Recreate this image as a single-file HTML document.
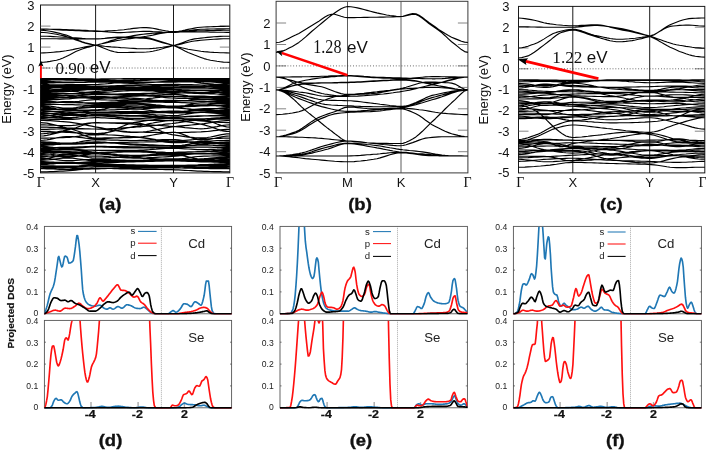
<!DOCTYPE html>
<html><head><meta charset="utf-8"><title>fig</title><style>html,body{margin:0;padding:0;background:#fff;overflow:hidden}svg{display:block;will-change:transform}</style></head><body>
<svg width="706" height="450" viewBox="0 0 706 450">
<rect width="706" height="450" fill="#fff"/>
<rect x="40.5" y="5" width="189.3" height="167.9" fill="none" stroke="#1a1a1a" stroke-width="1"/>
<line x1="95.6" y1="5" x2="95.6" y2="172.9" stroke="#000" stroke-width="0.9"/>
<line x1="173.5" y1="5" x2="173.5" y2="172.9" stroke="#000" stroke-width="0.9"/>
<line x1="40.5" y1="151.9" x2="50.5" y2="151.9" stroke="#666" stroke-width="0.8"/>
<line x1="219.8" y1="151.9" x2="229.8" y2="151.9" stroke="#666" stroke-width="0.8"/>
<line x1="40.5" y1="131.0" x2="50.5" y2="131.0" stroke="#666" stroke-width="0.8"/>
<line x1="219.8" y1="131.0" x2="229.8" y2="131.0" stroke="#666" stroke-width="0.8"/>
<line x1="40.5" y1="110.0" x2="50.5" y2="110.0" stroke="#666" stroke-width="0.8"/>
<line x1="219.8" y1="110.0" x2="229.8" y2="110.0" stroke="#666" stroke-width="0.8"/>
<line x1="40.5" y1="89.0" x2="50.5" y2="89.0" stroke="#666" stroke-width="0.8"/>
<line x1="219.8" y1="89.0" x2="229.8" y2="89.0" stroke="#666" stroke-width="0.8"/>
<line x1="40.5" y1="68.0" x2="50.5" y2="68.0" stroke="#666" stroke-width="0.8"/>
<line x1="219.8" y1="68.0" x2="229.8" y2="68.0" stroke="#666" stroke-width="0.8"/>
<line x1="40.5" y1="47.1" x2="50.5" y2="47.1" stroke="#666" stroke-width="0.8"/>
<line x1="219.8" y1="47.1" x2="229.8" y2="47.1" stroke="#666" stroke-width="0.8"/>
<line x1="40.5" y1="26.1" x2="50.5" y2="26.1" stroke="#666" stroke-width="0.8"/>
<line x1="219.8" y1="26.1" x2="229.8" y2="26.1" stroke="#666" stroke-width="0.8"/>
<line x1="40.5" y1="68.0" x2="229.8" y2="68.0" stroke="#333" stroke-width="0.8" stroke-dasharray="0.9 1.95"/>
<text x="34.5" y="9.7" font-family='"Liberation Sans", sans-serif' font-size="13" text-anchor="end" fill="#111">3</text>
<text x="34.5" y="30.7" font-family='"Liberation Sans", sans-serif' font-size="13" text-anchor="end" fill="#111">2</text>
<text x="34.5" y="51.7" font-family='"Liberation Sans", sans-serif' font-size="13" text-anchor="end" fill="#111">1</text>
<text x="34.5" y="72.6" font-family='"Liberation Sans", sans-serif' font-size="13" text-anchor="end" fill="#111">0</text>
<text x="34.5" y="93.6" font-family='"Liberation Sans", sans-serif' font-size="13" text-anchor="end" fill="#111">-1</text>
<text x="34.5" y="114.6" font-family='"Liberation Sans", sans-serif' font-size="13" text-anchor="end" fill="#111">-2</text>
<text x="34.5" y="135.6" font-family='"Liberation Sans", sans-serif' font-size="13" text-anchor="end" fill="#111">-3</text>
<text x="34.5" y="156.5" font-family='"Liberation Sans", sans-serif' font-size="13" text-anchor="end" fill="#111">-4</text>
<text x="34.5" y="177.5" font-family='"Liberation Sans", sans-serif' font-size="13" text-anchor="end" fill="#111">-5</text>
<text x="40.8" y="186.6" font-family='"Liberation Serif", serif' font-size="14" text-anchor="middle" fill="#111">Γ</text>
<text x="95.6" y="186.6" font-family='"Liberation Sans", sans-serif' font-size="13" text-anchor="middle" fill="#111">X</text>
<text x="173.5" y="186.6" font-family='"Liberation Sans", sans-serif' font-size="13" text-anchor="middle" fill="#111">Y</text>
<text x="230.1" y="186.6" font-family='"Liberation Serif", serif' font-size="14" text-anchor="middle" fill="#111">Γ</text>
<text transform="translate(10.5,89.0) rotate(-90)" font-family='"Liberation Sans", sans-serif' font-size="13" text-anchor="middle" fill="#111">Energy (eV)</text>
<rect x="276.1" y="1.3" width="191.79999999999995" height="171.6" fill="none" stroke="#3a3a3a" stroke-width="1"/>
<line x1="347.5" y1="1.3" x2="347.5" y2="172.9" stroke="#4a4a4a" stroke-width="0.9"/>
<line x1="401" y1="1.3" x2="401" y2="172.9" stroke="#4a4a4a" stroke-width="0.9"/>
<line x1="276.1" y1="151.7" x2="286.1" y2="151.7" stroke="#666" stroke-width="0.8"/>
<line x1="457.9" y1="151.7" x2="467.9" y2="151.7" stroke="#666" stroke-width="0.8"/>
<line x1="276.1" y1="130.2" x2="286.1" y2="130.2" stroke="#666" stroke-width="0.8"/>
<line x1="457.9" y1="130.2" x2="467.9" y2="130.2" stroke="#666" stroke-width="0.8"/>
<line x1="276.1" y1="108.8" x2="286.1" y2="108.8" stroke="#666" stroke-width="0.8"/>
<line x1="457.9" y1="108.8" x2="467.9" y2="108.8" stroke="#666" stroke-width="0.8"/>
<line x1="276.1" y1="87.4" x2="286.1" y2="87.4" stroke="#666" stroke-width="0.8"/>
<line x1="457.9" y1="87.4" x2="467.9" y2="87.4" stroke="#666" stroke-width="0.8"/>
<line x1="276.1" y1="65.9" x2="286.1" y2="65.9" stroke="#666" stroke-width="0.8"/>
<line x1="457.9" y1="65.9" x2="467.9" y2="65.9" stroke="#666" stroke-width="0.8"/>
<line x1="276.1" y1="44.5" x2="286.1" y2="44.5" stroke="#666" stroke-width="0.8"/>
<line x1="457.9" y1="44.5" x2="467.9" y2="44.5" stroke="#666" stroke-width="0.8"/>
<line x1="276.1" y1="23.0" x2="286.1" y2="23.0" stroke="#666" stroke-width="0.8"/>
<line x1="457.9" y1="23.0" x2="467.9" y2="23.0" stroke="#666" stroke-width="0.8"/>
<line x1="276.1" y1="65.9" x2="467.9" y2="65.9" stroke="#333" stroke-width="0.8" stroke-dasharray="0.9 1.95"/>
<text x="270.5" y="27.6" font-family='"Liberation Sans", sans-serif' font-size="13" text-anchor="end" fill="#111">2</text>
<text x="270.5" y="49.1" font-family='"Liberation Sans", sans-serif' font-size="13" text-anchor="end" fill="#111">1</text>
<text x="270.5" y="70.5" font-family='"Liberation Sans", sans-serif' font-size="13" text-anchor="end" fill="#111">0</text>
<text x="270.5" y="92.0" font-family='"Liberation Sans", sans-serif' font-size="13" text-anchor="end" fill="#111">-1</text>
<text x="270.5" y="113.4" font-family='"Liberation Sans", sans-serif' font-size="13" text-anchor="end" fill="#111">-2</text>
<text x="270.5" y="134.8" font-family='"Liberation Sans", sans-serif' font-size="13" text-anchor="end" fill="#111">-3</text>
<text x="270.5" y="156.3" font-family='"Liberation Sans", sans-serif' font-size="13" text-anchor="end" fill="#111">-4</text>
<text x="270.5" y="177.8" font-family='"Liberation Sans", sans-serif' font-size="13" text-anchor="end" fill="#111">-5</text>
<text x="278.1" y="186.6" font-family='"Liberation Serif", serif' font-size="14" text-anchor="middle" fill="#111">Γ</text>
<text x="347.5" y="186.6" font-family='"Liberation Sans", sans-serif' font-size="13" text-anchor="middle" fill="#111">M</text>
<text x="401" y="186.6" font-family='"Liberation Sans", sans-serif' font-size="13" text-anchor="middle" fill="#111">K</text>
<text x="467.5" y="186.6" font-family='"Liberation Serif", serif' font-size="14" text-anchor="middle" fill="#111">Γ</text>
<text transform="translate(249.7,87.1) rotate(-90)" font-family='"Liberation Sans", sans-serif' font-size="13" text-anchor="middle" fill="#111">Energy (eV)</text>
<rect x="518.5" y="6.4" width="186.29999999999995" height="166.5" fill="none" stroke="#1a1a1a" stroke-width="1"/>
<line x1="572.8" y1="6.4" x2="572.8" y2="172.9" stroke="#000" stroke-width="0.9"/>
<line x1="649.7" y1="6.4" x2="649.7" y2="172.9" stroke="#000" stroke-width="0.9"/>
<line x1="518.5" y1="152.0" x2="528.5" y2="152.0" stroke="#666" stroke-width="0.8"/>
<line x1="694.8" y1="152.0" x2="704.8" y2="152.0" stroke="#666" stroke-width="0.8"/>
<line x1="518.5" y1="131.2" x2="528.5" y2="131.2" stroke="#666" stroke-width="0.8"/>
<line x1="694.8" y1="131.2" x2="704.8" y2="131.2" stroke="#666" stroke-width="0.8"/>
<line x1="518.5" y1="110.4" x2="528.5" y2="110.4" stroke="#666" stroke-width="0.8"/>
<line x1="694.8" y1="110.4" x2="704.8" y2="110.4" stroke="#666" stroke-width="0.8"/>
<line x1="518.5" y1="89.6" x2="528.5" y2="89.6" stroke="#666" stroke-width="0.8"/>
<line x1="694.8" y1="89.6" x2="704.8" y2="89.6" stroke="#666" stroke-width="0.8"/>
<line x1="518.5" y1="68.8" x2="528.5" y2="68.8" stroke="#666" stroke-width="0.8"/>
<line x1="694.8" y1="68.8" x2="704.8" y2="68.8" stroke="#666" stroke-width="0.8"/>
<line x1="518.5" y1="48.0" x2="528.5" y2="48.0" stroke="#666" stroke-width="0.8"/>
<line x1="694.8" y1="48.0" x2="704.8" y2="48.0" stroke="#666" stroke-width="0.8"/>
<line x1="518.5" y1="27.2" x2="528.5" y2="27.2" stroke="#666" stroke-width="0.8"/>
<line x1="694.8" y1="27.2" x2="704.8" y2="27.2" stroke="#666" stroke-width="0.8"/>
<line x1="518.5" y1="68.8" x2="704.8" y2="68.8" stroke="#333" stroke-width="0.8" stroke-dasharray="0.9 1.95"/>
<text x="509.6" y="11.0" font-family='"Liberation Sans", sans-serif' font-size="13" text-anchor="end" fill="#111">3</text>
<text x="509.6" y="31.8" font-family='"Liberation Sans", sans-serif' font-size="13" text-anchor="end" fill="#111">2</text>
<text x="509.6" y="52.6" font-family='"Liberation Sans", sans-serif' font-size="13" text-anchor="end" fill="#111">1</text>
<text x="509.6" y="73.4" font-family='"Liberation Sans", sans-serif' font-size="13" text-anchor="end" fill="#111">0</text>
<text x="509.6" y="94.2" font-family='"Liberation Sans", sans-serif' font-size="13" text-anchor="end" fill="#111">-1</text>
<text x="509.6" y="115.0" font-family='"Liberation Sans", sans-serif' font-size="13" text-anchor="end" fill="#111">-2</text>
<text x="509.6" y="135.8" font-family='"Liberation Sans", sans-serif' font-size="13" text-anchor="end" fill="#111">-3</text>
<text x="509.6" y="156.6" font-family='"Liberation Sans", sans-serif' font-size="13" text-anchor="end" fill="#111">-4</text>
<text x="509.6" y="177.4" font-family='"Liberation Sans", sans-serif' font-size="13" text-anchor="end" fill="#111">-5</text>
<text x="520.2" y="186.6" font-family='"Liberation Serif", serif' font-size="14" text-anchor="middle" fill="#111">Γ</text>
<text x="572.8" y="186.6" font-family='"Liberation Sans", sans-serif' font-size="13" text-anchor="middle" fill="#111">X</text>
<text x="649.7" y="186.6" font-family='"Liberation Sans", sans-serif' font-size="13" text-anchor="middle" fill="#111">Y</text>
<text x="702.5" y="186.6" font-family='"Liberation Serif", serif' font-size="14" text-anchor="middle" fill="#111">Γ</text>
<text transform="translate(488.3,89.7) rotate(-90)" font-family='"Liberation Sans", sans-serif' font-size="13" text-anchor="middle" fill="#111">Energy (eV)</text>
<path d="M276.1 52.4L279.4 52.0L282.6 51.1L285.9 49.7L289.1 48.1L292.4 46.4L295.6 44.6L298.9 42.4L302.1 39.9L305.4 37.1L308.6 34.2L311.9 31.3L315.1 28.6L318.4 25.9L321.6 23.2L324.9 20.5L328.1 17.9L331.4 15.3L334.6 13.0L337.9 10.7L341.1 8.7L344.4 7.3L347.6 6.5L350.9 6.8L354.1 7.3L357.4 7.9L360.6 8.6L363.9 9.5L367.1 10.4L370.4 11.3L373.6 12.1L376.9 12.9L380.1 13.6L383.4 14.3L386.6 15.0L389.9 15.5L393.1 15.9L396.4 16.3L399.6 16.5L402.9 16.4L406.1 15.6L409.4 14.9L412.6 14.3L415.9 14.5L419.1 16.0L422.4 18.3L425.6 20.9L428.9 23.5L432.1 25.7L435.4 28.0L438.6 30.4L441.9 32.9L445.1 35.7L448.4 38.8L451.6 41.7L454.9 44.3L458.1 46.9L461.4 49.6L464.6 51.6L467.9 52.4M276.1 42.5L279.4 42.2L282.6 41.2L285.9 39.8L289.1 38.2L292.4 36.6L295.6 35.1L298.9 33.4L302.1 31.5L305.4 29.5L308.6 27.5L311.9 25.5L315.1 23.6L318.4 21.6L321.6 19.3L324.9 17.1L328.1 15.3L331.4 14.2L334.6 14.2L337.9 15.3L341.1 16.3L344.4 17.2L347.6 17.6L350.9 17.6L354.1 17.6L357.4 17.5L360.6 17.5L363.9 17.4L367.1 17.4L370.4 17.3L373.6 17.2L376.9 17.2L380.1 17.1L383.4 17.1L386.6 17.0L389.9 17.0L393.1 16.9L396.4 16.8L399.6 16.6L402.9 16.3L406.1 15.3L409.4 14.4L412.6 13.6L415.9 13.9L419.1 15.3L422.4 17.5L425.6 20.0L428.9 22.4L432.1 24.6L435.4 27.0L438.6 29.5L441.9 31.6L445.1 33.6L448.4 35.5L451.6 37.2L454.9 38.6L458.1 39.9L461.4 41.2L464.6 42.1L467.9 42.5M276.1 77.1L279.4 77.0L282.6 77.0L285.9 77.0L289.1 77.0L292.4 76.9L295.6 76.9L298.9 76.8L302.1 76.8L305.4 76.7L308.6 76.7L311.9 76.6L315.1 76.6L318.4 76.5L321.6 76.3L324.9 76.2L328.1 76.1L331.4 75.9L334.6 75.8L337.9 75.7L341.1 75.6L344.4 75.6L347.6 75.6L350.9 75.6L354.1 75.7L357.4 75.9L360.6 76.1L363.9 76.4L367.1 76.6L370.4 76.9L373.6 77.0L376.9 77.2L380.1 77.3L383.4 77.4L386.6 77.5L389.9 77.6L393.1 77.7L396.4 77.8L399.6 77.9L402.9 78.0L406.1 78.1L409.4 78.2L412.6 78.3L415.9 78.4L419.1 78.5L422.4 78.6L425.6 78.7L428.9 78.7L432.1 78.8L435.4 78.8L438.6 78.7L441.9 78.6L445.1 78.4L448.4 78.1L451.6 77.9L454.9 77.6L458.1 77.4L461.4 77.2L464.6 77.1L467.9 77.1M276.1 77.1L279.4 77.4L282.6 78.1L285.9 79.0L289.1 79.7L292.4 80.6L295.6 81.6L298.9 82.4L302.1 82.9L305.4 83.1L308.6 83.0L311.9 83.0L315.1 83.0L318.4 82.9L321.6 82.9L324.9 82.8L328.1 82.7L331.4 82.7L334.6 82.6L337.9 82.5L341.1 82.4L344.4 82.3L347.6 82.2L350.9 82.1L354.1 82.0L357.4 81.8L360.6 81.7L363.9 81.5L367.1 81.3L370.4 81.1L373.6 80.9L376.9 80.8L380.1 80.6L383.4 80.4L386.6 80.2L389.9 80.0L393.1 79.7L396.4 79.5L399.6 79.3L402.9 79.1L406.1 78.8L409.4 78.5L412.6 78.1L415.9 77.8L419.1 77.5L422.4 77.2L425.6 76.9L428.9 76.8L432.1 76.6L435.4 76.6L438.6 76.6L441.9 76.7L445.1 76.7L448.4 76.8L451.6 76.8L454.9 76.9L458.1 77.0L461.4 77.0L464.6 77.0L467.9 77.1M276.1 89.9L279.4 89.5L282.6 88.5L285.9 87.0L289.1 85.4L292.4 83.8L295.6 82.5L298.9 81.7L302.1 81.0L305.4 80.3L308.6 79.7L311.9 79.1L315.1 78.6L318.4 78.1L321.6 77.7L324.9 77.4L328.1 77.1L331.4 76.8L334.6 76.6L337.9 76.3L341.1 76.1L344.4 76.0L347.6 76.0L350.9 76.0L354.1 76.2L357.4 76.4L360.6 76.7L363.9 76.9L367.1 77.2L370.4 77.5L373.6 77.7L376.9 77.8L380.1 77.9L383.4 78.1L386.6 78.2L389.9 78.3L393.1 78.4L396.4 78.5L399.6 78.7L402.9 78.9L406.1 79.3L409.4 79.7L412.6 80.3L415.9 80.9L419.1 81.6L422.4 82.4L425.6 83.1L428.9 83.8L432.1 84.6L435.4 85.2L438.6 85.9L441.9 86.4L445.1 86.9L448.4 87.5L451.6 88.1L454.9 88.7L458.1 89.2L461.4 89.6L464.6 89.8L467.9 89.9M276.1 89.9L279.4 89.7L282.6 89.0L285.9 88.0L289.1 86.9L292.4 85.9L295.6 85.1L298.9 84.6L302.1 84.3L305.4 83.9L308.6 83.6L311.9 83.4L315.1 83.2L318.4 83.1L321.6 83.0L324.9 82.9L328.1 82.9L331.4 82.9L334.6 82.8L337.9 82.8L341.1 82.7L344.4 82.7L347.6 82.6L350.9 82.5L354.1 82.4L357.4 82.3L360.6 82.1L363.9 81.9L367.1 81.7L370.4 81.5L373.6 81.4L376.9 81.2L380.1 81.0L383.4 80.8L386.6 80.6L389.9 80.4L393.1 80.2L396.4 80.1L399.6 80.1L402.9 80.1L406.1 80.2L409.4 80.5L412.6 80.9L415.9 81.3L419.1 81.7L422.4 82.2L425.6 82.5L428.9 82.8L432.1 83.0L435.4 83.0L438.6 82.8L441.9 82.3L445.1 81.6L448.4 80.8L451.6 79.9L454.9 79.1L458.1 78.3L461.4 77.6L464.6 77.2L467.9 77.1M276.1 89.9L279.4 89.7L282.6 89.0L285.9 88.0L289.1 86.9L292.4 85.8L295.6 84.8L298.9 84.3L302.1 84.1L305.4 84.3L308.6 84.7L311.9 85.1L315.1 85.6L318.4 86.2L321.6 86.8L324.9 87.8L328.1 89.0L331.4 90.2L334.6 91.5L337.9 92.6L341.1 93.6L344.4 94.2L347.6 94.4L350.9 94.4L354.1 94.2L357.4 93.9L360.6 93.6L363.9 93.3L367.1 92.9L370.4 92.5L373.6 92.1L376.9 91.8L380.1 91.4L383.4 91.0L386.6 90.6L389.9 90.2L393.1 89.7L396.4 89.2L399.6 88.7L402.9 88.0L406.1 87.2L409.4 86.2L412.6 85.2L415.9 84.2L419.1 83.2L422.4 82.5L425.6 82.1L428.9 82.0L432.1 82.0L435.4 82.1L438.6 82.2L441.9 82.4L445.1 82.6L448.4 82.8L451.6 83.1L454.9 84.1L458.1 85.8L461.4 87.8L464.6 89.3L467.9 89.9M276.1 89.9L279.4 90.0L282.6 90.1L285.9 90.4L289.1 90.7L292.4 91.1L295.6 91.5L298.9 92.0L302.1 92.4L305.4 92.8L308.6 93.4L311.9 94.1L315.1 94.8L318.4 95.5L321.6 96.0L324.9 96.3L328.1 96.4L331.4 96.4L334.6 96.4L337.9 96.4L341.1 96.4L344.4 96.4L347.6 96.4L350.9 96.3L354.1 96.2L357.4 96.1L360.6 95.9L363.9 95.7L367.1 95.4L370.4 95.2L373.6 94.9L376.9 94.6L380.1 94.3L383.4 94.0L386.6 93.6L389.9 93.2L393.1 92.8L396.4 92.3L399.6 91.9L402.9 91.3L406.1 90.7L409.4 90.1L412.6 89.4L415.9 88.6L419.1 87.8L422.4 87.0L425.6 86.2L428.9 85.4L432.1 84.6L435.4 83.9L438.6 83.1L441.9 82.3L445.1 81.3L448.4 80.4L451.6 79.6L454.9 78.8L458.1 78.1L461.4 77.5L464.6 77.2L467.9 77.1M276.1 89.9L279.4 90.1L282.6 90.5L285.9 91.1L289.1 91.8L292.4 92.6L295.6 93.4L298.9 94.1L302.1 94.9L305.4 95.7L308.6 96.7L311.9 97.6L315.1 98.5L318.4 99.2L321.6 99.8L324.9 100.2L328.1 100.3L331.4 100.4L334.6 100.4L337.9 100.5L341.1 100.5L344.4 100.6L347.6 100.7L350.9 100.8L354.1 101.1L357.4 101.4L360.6 101.8L363.9 102.2L367.1 102.6L370.4 103.0L373.6 103.4L376.9 103.7L380.1 104.2L383.4 104.6L386.6 105.0L389.9 105.5L393.1 105.8L396.4 106.1L399.6 106.2L402.9 106.2L406.1 105.8L409.4 105.2L412.6 104.3L415.9 103.3L419.1 102.1L422.4 100.9L425.6 99.7L428.9 98.6L432.1 97.6L435.4 96.8L438.6 95.9L441.9 95.0L445.1 94.1L448.4 93.2L451.6 92.3L454.9 91.6L458.1 90.9L461.4 90.4L464.6 90.0L467.9 89.9M276.1 89.9L279.4 90.2L282.6 90.9L285.9 91.8L289.1 93.0L292.4 94.2L295.6 95.3L298.9 96.3L302.1 97.4L305.4 98.6L308.6 99.8L311.9 100.9L315.1 102.0L318.4 103.0L321.6 103.8L324.9 104.4L328.1 104.7L331.4 105.0L334.6 105.2L337.9 105.4L341.1 105.5L344.4 105.7L347.6 105.8L350.9 105.9L354.1 106.1L357.4 106.2L360.6 106.4L363.9 106.5L367.1 106.6L370.4 106.6L373.6 106.7L376.9 106.7L380.1 106.7L383.4 106.7L386.6 106.7L389.9 106.7L393.1 106.7L396.4 106.7L399.6 106.7L402.9 106.6L406.1 106.0L409.4 105.1L412.6 103.9L415.9 102.5L419.1 100.9L422.4 99.4L425.6 97.9L428.9 96.5L432.1 95.4L435.4 94.7L438.6 94.0L441.9 93.3L445.1 92.6L448.4 92.0L451.6 91.4L454.9 90.9L458.1 90.5L461.4 90.2L464.6 90.0L467.9 89.9M276.1 89.9L279.4 90.3L282.6 91.2L285.9 92.6L289.1 94.2L292.4 95.8L295.6 97.3L298.9 98.6L302.1 99.8L305.4 101.0L308.6 102.2L311.9 103.4L315.1 104.6L318.4 105.6L321.6 106.6L324.9 107.4L328.1 108.2L331.4 109.0L334.6 109.7L337.9 110.4L341.1 110.9L344.4 111.3L347.6 111.4L350.9 111.3L354.1 111.2L357.4 111.1L360.6 110.9L363.9 110.6L367.1 110.4L370.4 110.1L373.6 109.9L376.9 109.7L380.1 109.5L383.4 109.3L386.6 109.1L389.9 108.8L393.1 108.5L396.4 108.2L399.6 107.9L402.9 107.5L406.1 106.9L409.4 106.2L412.6 105.4L415.9 104.6L419.1 103.6L422.4 102.7L425.6 101.7L428.9 100.7L432.1 99.8L435.4 98.9L438.6 97.9L441.9 96.8L445.1 95.6L448.4 94.4L451.6 93.3L454.9 92.2L458.1 91.3L461.4 90.6L464.6 90.1L467.9 89.9M276.1 77.1L277.3 77.1L278.5 77.2L279.7 77.3L280.9 77.5L282.2 77.7L283.4 77.9L284.6 78.3L285.8 78.7L287.0 79.3L288.2 79.9L289.4 80.6L290.6 81.3L291.8 82.0L293.0 82.6L294.3 83.2L295.5 83.8L296.7 84.4L297.9 85.0L299.1 85.5L300.3 86.1L301.5 86.7L302.7 87.3L303.9 87.8L305.1 88.3L306.4 88.8L307.6 89.3L308.8 89.7L310.0 90.1L311.2 90.5L312.4 90.9L313.6 91.2L314.8 91.6L316.0 92.0L317.2 92.3L318.5 92.6L319.7 92.9L320.9 93.2L322.1 93.5L323.3 93.7L324.5 94.0L325.7 94.2L326.9 94.3L328.1 94.5L329.3 94.7L330.6 94.9L331.8 95.0L333.0 95.2L334.2 95.4L335.4 95.5L336.6 95.7L337.8 95.8L339.0 95.9L340.2 96.0L341.4 96.1L342.7 96.2L343.9 96.3L345.1 96.3L346.3 96.3L347.5 96.4M276.1 89.9L277.3 90.0L278.5 90.3L279.7 90.6L280.9 90.9L282.2 91.4L283.4 91.9L284.6 92.5L285.8 93.2L287.0 94.0L288.2 94.9L289.4 95.8L290.6 96.8L291.8 97.8L293.0 98.8L294.3 99.9L295.5 101.0L296.7 102.2L297.9 103.3L299.1 104.5L300.3 105.6L301.5 106.8L302.7 107.9L303.9 109.0L305.1 110.1L306.4 111.1L307.6 112.1L308.8 113.1L310.0 114.0L311.2 115.0L312.4 116.0L313.6 116.9L314.8 117.9L316.0 118.9L317.2 119.8L318.5 120.8L319.7 121.8L320.9 122.8L322.1 123.7L323.3 124.7L324.5 125.7L325.7 126.6L326.9 127.6L328.1 128.5L329.3 129.5L330.6 130.4L331.8 131.3L333.0 132.3L334.2 133.2L335.4 134.1L336.6 135.0L337.8 135.9L339.0 136.8L340.2 137.7L341.4 138.6L342.7 139.5L343.9 140.1L345.1 140.5L346.3 140.8L347.5 141.0M276.1 114.6L279.4 114.5L282.6 114.3L285.9 113.9L289.1 113.5L292.4 113.0L295.6 112.4L298.9 111.7L302.1 110.6L305.4 109.2L308.6 107.5L311.9 105.8L315.1 104.1L318.4 102.6L321.6 101.3L324.9 100.0L328.1 98.8L331.4 97.7L334.6 96.8L337.9 96.2L341.1 95.7L344.4 95.4L347.6 95.1L350.9 94.8L354.1 94.6L357.4 94.4L360.6 94.2L363.9 94.1L367.1 93.9L370.4 93.7L373.6 93.4L376.9 93.1L380.1 92.6L383.4 92.0L386.6 91.4L389.9 90.7L393.1 90.1L396.4 89.6L399.6 89.2L402.9 88.9L406.1 88.7L409.4 88.4L412.6 88.2L415.9 88.0L419.1 87.8L422.4 87.6L425.6 87.5L428.9 87.4L432.1 87.4L435.4 87.4L438.6 87.5L441.9 87.7L445.1 88.0L448.4 88.3L451.6 88.7L454.9 89.1L458.1 89.4L461.4 89.7L464.6 89.9L467.9 89.9M276.1 136.7L279.4 136.5L282.6 135.9L285.9 135.1L289.1 134.0L292.4 132.9L295.6 131.8L298.9 130.2L302.1 128.2L305.4 126.0L308.6 123.7L311.9 121.4L315.1 119.4L318.4 117.6L321.6 116.3L324.9 115.0L328.1 113.9L331.4 112.8L334.6 111.7L337.9 110.5L341.1 109.0L344.4 107.6L347.6 107.1L350.9 107.2L354.1 107.3L357.4 107.6L360.6 107.9L363.9 108.2L367.1 108.5L370.4 108.7L373.6 108.8L376.9 108.8L380.1 108.7L383.4 108.6L386.6 108.5L389.9 108.4L393.1 108.3L396.4 108.2L399.6 108.2L402.9 108.2L406.1 108.3L409.4 108.6L412.6 108.9L415.9 109.3L419.1 109.7L422.4 110.0L425.6 110.5L428.9 111.1L432.1 111.7L435.4 112.3L438.6 112.8L441.9 113.2L445.1 113.4L448.4 113.7L451.6 113.9L454.9 114.1L458.1 114.3L461.4 114.5L464.6 114.6L467.9 114.6M276.1 136.7L279.4 136.5L282.6 136.1L285.9 135.5L289.1 134.7L292.4 133.9L295.6 133.0L298.9 131.5L302.1 129.7L305.4 127.7L308.6 125.5L311.9 123.4L315.1 121.4L318.4 119.8L321.6 118.4L324.9 117.1L328.1 115.8L331.4 114.8L334.6 113.9L337.9 113.4L341.1 113.0L344.4 112.7L347.6 112.4L350.9 112.3L354.1 112.1L357.4 112.0L360.6 111.9L363.9 111.8L367.1 111.7L370.4 111.6L373.6 111.4L376.9 111.2L380.1 110.9L383.4 110.5L386.6 110.0L389.9 109.6L393.1 109.2L396.4 109.0L399.6 108.8L402.9 108.9L406.1 109.7L409.4 110.9L412.6 112.3L415.9 113.8L419.1 115.6L422.4 117.8L425.6 120.2L428.9 122.5L432.1 124.7L435.4 126.4L438.6 128.1L441.9 129.7L445.1 131.3L448.4 132.6L451.6 133.8L454.9 134.6L458.1 135.4L461.4 136.0L464.6 136.5L467.9 136.7M276.1 136.7L279.4 136.7L282.6 136.7L285.9 136.8L289.1 136.9L292.4 137.0L295.6 137.1L298.9 137.2L302.1 137.3L305.4 137.5L308.6 137.6L311.9 137.8L315.1 137.9L318.4 138.2L321.6 138.4L324.9 138.7L328.1 139.0L331.4 139.4L334.6 139.7L337.9 140.0L341.1 140.4L344.4 140.7L347.6 141.0L350.9 141.3L354.1 141.6L357.4 141.9L360.6 142.2L363.9 142.5L367.1 142.8L370.4 143.0L373.6 143.1L376.9 143.2L380.1 143.3L383.4 143.3L386.6 143.4L389.9 143.5L393.1 143.5L396.4 143.5L399.6 143.5L402.9 143.4L406.1 142.3L409.4 140.7L412.6 139.0L415.9 136.9L419.1 134.3L422.4 131.3L425.6 128.1L428.9 124.9L432.1 121.7L435.4 118.7L438.6 115.5L441.9 112.3L445.1 109.0L448.4 105.8L451.6 102.8L454.9 99.9L458.1 96.7L461.4 93.5L464.6 90.9L467.9 89.9M276.1 156.0L279.4 155.9L282.6 155.7L285.9 155.4L289.1 155.0L292.4 154.6L295.6 154.1L298.9 153.6L302.1 152.9L305.4 152.0L308.6 151.0L311.9 149.9L315.1 148.7L318.4 147.6L321.6 146.5L324.9 145.6L328.1 144.8L331.4 143.9L334.6 143.0L337.9 142.2L341.1 141.6L344.4 141.1L347.6 141.0L350.9 141.1L354.1 141.3L357.4 141.6L360.6 141.9L363.9 142.3L367.1 142.8L370.4 143.2L373.6 143.5L376.9 143.8L380.1 144.1L383.4 144.5L386.6 144.8L389.9 145.1L393.1 145.4L396.4 145.6L399.6 145.7L402.9 145.5L406.1 144.7L409.4 143.6L412.6 142.6L415.9 141.4L419.1 140.1L422.4 139.0L425.6 138.1L428.9 137.7L432.1 137.4L435.4 137.1L438.6 136.9L441.9 136.8L445.1 136.7L448.4 136.7L451.6 136.7L454.9 136.7L458.1 136.7L461.4 136.7L464.6 136.7L467.9 136.7M276.1 156.0L279.4 156.0L282.6 155.9L285.9 155.7L289.1 155.5L292.4 155.3L295.6 155.1L298.9 154.8L302.1 154.3L305.4 153.5L308.6 152.7L311.9 151.7L315.1 150.6L318.4 149.6L321.6 148.6L324.9 147.7L328.1 146.9L331.4 146.1L334.6 145.2L337.9 144.4L341.1 143.7L344.4 143.3L347.6 143.1L350.9 143.2L354.1 143.3L357.4 143.5L360.6 143.8L363.9 144.1L367.1 144.5L370.4 144.8L373.6 145.2L376.9 145.6L380.1 146.0L383.4 146.6L386.6 147.2L389.9 147.8L393.1 148.3L396.4 148.9L399.6 149.4L402.9 149.8L406.1 150.1L409.4 150.5L412.6 150.8L415.9 151.1L419.1 151.5L422.4 151.9L425.6 152.4L428.9 152.9L432.1 153.5L435.4 154.1L438.6 154.6L441.9 155.1L445.1 155.4L448.4 155.6L451.6 155.7L454.9 155.8L458.1 155.9L461.4 155.9L464.6 156.0L467.9 156.0M276.1 156.0L279.4 156.0L282.6 155.9L285.9 155.8L289.1 155.7L292.4 155.6L295.6 155.4L298.9 155.3L302.1 154.9L305.4 154.4L308.6 153.8L311.9 153.1L315.1 152.3L318.4 151.5L321.6 150.7L324.9 149.8L328.1 149.0L331.4 147.9L334.6 146.7L337.9 145.5L341.1 144.5L344.4 143.8L347.6 143.5L350.9 143.7L354.1 143.9L357.4 144.4L360.6 144.9L363.9 145.5L367.1 146.1L370.4 146.7L373.6 147.3L376.9 147.9L380.1 148.4L383.4 149.1L386.6 149.7L389.9 150.4L393.1 151.0L396.4 151.5L399.6 152.0L402.9 152.3L406.1 152.7L409.4 152.9L412.6 153.2L415.9 153.5L419.1 153.7L422.4 153.9L425.6 154.2L428.9 154.4L432.1 154.7L435.4 154.9L438.6 155.1L441.9 155.3L445.1 155.5L448.4 155.6L451.6 155.7L454.9 155.8L458.1 155.9L461.4 155.9L464.6 156.0L467.9 156.0M276.1 156.0L279.4 156.0L282.6 156.0L285.9 156.0L289.1 156.0L292.4 156.0L295.6 156.0L298.9 156.0L302.1 156.0L305.4 156.0L308.6 156.0L311.9 156.0L315.1 156.0L318.4 156.0L321.6 156.0L324.9 156.0L328.1 156.0L331.4 156.0L334.6 156.0L337.9 156.0L341.1 156.0L344.4 156.0L347.6 156.0L350.9 155.9L354.1 155.8L357.4 155.6L360.6 155.4L363.9 155.1L367.1 154.8L370.4 154.6L373.6 154.3L376.9 154.1L380.1 153.8L383.4 153.4L386.6 153.1L389.9 152.7L393.1 152.5L396.4 152.3L399.6 152.1L402.9 152.2L406.1 152.4L409.4 152.7L412.6 153.1L415.9 153.6L419.1 154.1L422.4 154.5L425.6 154.8L428.9 155.0L432.1 155.1L435.4 155.2L438.6 155.4L441.9 155.5L445.1 155.6L448.4 155.7L451.6 155.8L454.9 155.9L458.1 155.9L461.4 156.0L464.6 156.0L467.9 156.0M276.1 156.0L279.4 156.0L282.6 156.2L285.9 156.4L289.1 156.7L292.4 157.1L295.6 157.4L298.9 157.8L302.1 158.2L305.4 158.6L308.6 158.9L311.9 159.2L315.1 159.5L318.4 159.8L321.6 160.1L324.9 160.4L328.1 160.7L331.4 161.0L334.6 161.3L337.9 161.5L341.1 161.6L344.4 161.7L347.6 161.8L350.9 161.7L354.1 161.6L357.4 161.3L360.6 161.0L363.9 160.6L367.1 160.2L370.4 159.7L373.6 159.3L376.9 158.7L380.1 157.9L383.4 156.9L386.6 155.9L389.9 154.8L393.1 153.9L396.4 153.2L399.6 152.8L402.9 152.8L406.1 153.0L409.4 153.4L412.6 153.8L415.9 154.3L419.1 154.8L422.4 155.2L425.6 155.5L428.9 155.6L432.1 155.6L435.4 155.7L438.6 155.8L441.9 155.8L445.1 155.8L448.4 155.9L451.6 155.9L454.9 155.9L458.1 156.0L461.4 156.0L464.6 156.0L467.9 156.0" fill="none" stroke="#000" stroke-width="1.15" stroke-linejoin="round"/>
<line x1="347.5" y1="75.3" x2="281.5" y2="52.9" stroke="#f00" stroke-width="2.5"/>
<path d="M276.3 51.2 L283 50.3 L281.4 52.9 L282.2 56.3 Z" fill="#000"/>
<text transform="translate(313.3,53.3) scale(0.9,1)" font-family='"Liberation Serif", serif' font-size="17.9" fill="#111">1.28</text>
<text x="347" y="53.2" font-family='"Liberation Sans", sans-serif' font-size="17" fill="#111">eV</text>
<path d="M518.5 58.0L521.7 57.6L524.8 56.8L528.0 55.9L531.1 54.3L534.3 52.3L537.4 50.0L540.6 47.5L543.8 45.1L546.9 42.8L550.1 40.3L553.2 37.7L556.4 35.3L559.5 33.3L562.7 32.1L565.9 31.2L569.0 30.4L572.2 30.1L575.3 30.3L578.5 31.0L581.7 32.0L584.8 33.1L588.0 34.3L591.1 35.3L594.3 36.2L597.4 37.1L600.6 38.1L603.8 39.0L606.9 39.9L610.1 40.7L613.2 41.3L616.4 41.7L619.5 41.7L622.7 41.6L625.9 41.4L629.0 41.0L632.2 40.6L635.3 40.0L638.5 39.3L641.6 38.6L644.8 37.8L648.0 37.0L651.1 36.1L654.3 34.7L657.4 32.8L660.6 30.7L663.8 28.5L666.9 26.5L670.1 24.8L673.2 23.5L676.4 22.3L679.5 21.1L682.7 20.0L685.9 19.2L689.0 18.6L692.2 18.4L695.3 18.2L698.5 18.1L701.6 18.0L704.8 18.0M518.5 48.0L521.7 47.7L524.8 47.1L528.0 46.2L531.1 45.1L534.3 44.0L537.4 42.7L540.6 41.0L543.8 39.1L546.9 37.1L550.1 35.2L553.2 33.5L556.4 32.4L559.5 31.5L562.7 30.7L565.9 30.0L569.0 29.5L572.2 29.3L575.3 29.4L578.5 30.0L581.7 30.9L584.8 32.0L588.0 33.2L591.1 34.3L594.3 35.2L597.4 35.9L600.6 36.5L603.8 37.2L606.9 37.9L610.1 38.5L613.2 38.9L616.4 39.2L619.5 39.2L622.7 39.2L625.9 39.0L629.0 38.8L632.2 38.5L635.3 38.2L638.5 37.7L641.6 37.3L644.8 36.8L648.0 36.2L651.1 35.6L654.3 34.4L657.4 32.8L660.6 30.9L663.8 29.1L666.9 27.5L670.1 26.4L673.2 26.0L676.4 25.7L679.5 25.4L682.7 25.2L685.9 25.1L689.0 25.1L692.2 25.2L695.3 25.5L698.5 25.8L701.6 26.0L704.8 26.1M518.5 26.8L521.7 26.8L524.8 26.8L528.0 26.9L531.1 27.0L534.3 27.0L537.4 27.1L540.6 27.1L543.8 27.2L546.9 27.2L550.1 27.2L553.2 27.2L556.4 27.2L559.5 27.2L562.7 27.2L565.9 27.2L569.0 27.2L572.2 27.2L575.3 27.1L578.5 26.9L581.7 26.6L584.8 26.3L588.0 26.0L591.1 25.7L594.3 25.5L597.4 25.5L600.6 25.7L603.8 26.0L606.9 26.4L610.1 26.8L613.2 27.3L616.4 27.8L619.5 28.3L622.7 28.9L625.9 29.6L629.0 30.3L632.2 31.1L635.3 32.0L638.5 32.9L641.6 33.8L644.8 34.7L648.0 35.6L651.1 36.5L654.3 37.6L657.4 38.7L660.6 39.8L663.8 41.0L666.9 42.1L670.1 43.1L673.2 44.0L676.4 44.7L679.5 45.3L682.7 45.8L685.9 46.4L689.0 46.8L692.2 47.3L695.3 47.7L698.5 47.9L701.6 48.1L704.8 48.2M518.5 18.0L521.7 18.2L524.8 18.6L528.0 19.1L531.1 19.6L534.3 20.2L537.4 21.0L540.6 21.9L543.8 22.7L546.9 23.4L550.1 23.9L553.2 24.3L556.4 24.7L559.5 25.0L562.7 25.3L565.9 25.5L569.0 25.7L572.2 25.7L575.3 25.7L578.5 25.6L581.7 25.4L584.8 25.2L588.0 25.0L591.1 24.8L594.3 24.7L597.4 24.7L600.6 25.0L603.8 25.6L606.9 26.3L610.1 27.1L613.2 27.9L616.4 28.7L619.5 29.4L622.7 30.1L625.9 30.7L629.0 31.3L632.2 32.0L635.3 32.7L638.5 33.4L641.6 34.2L644.8 35.0L648.0 36.0L651.1 37.1L654.3 38.5L657.4 40.1L660.6 41.9L663.8 43.8L666.9 45.6L670.1 47.2L673.2 48.6L676.4 50.0L679.5 51.4L682.7 52.6L685.9 53.8L689.0 54.8L692.2 55.6L695.3 56.2L698.5 56.6L701.6 57.0L704.8 57.1" fill="none" stroke="#000" stroke-width="1.1" stroke-linejoin="round"/>
<path d="M518.5 80.2L521.7 80.3L524.8 80.4L528.0 80.5L531.1 80.6L534.3 80.8L537.4 80.9L540.6 81.1L543.8 81.1L546.9 81.1L550.1 81.1L553.2 81.1L556.4 81.1L559.5 81.1L562.7 81.1L565.9 81.1L569.0 81.2L572.2 81.2L575.3 81.1L578.5 81.1L581.7 81.1L584.8 81.0L588.0 81.0L591.1 80.9L594.3 80.8L597.4 80.7L600.6 80.6L603.8 80.6L606.9 80.5L610.1 80.4L613.2 80.4L616.4 80.3L619.5 80.2L622.7 80.2L625.9 80.1L629.0 80.1L632.2 80.0L635.3 80.0L638.5 79.9L641.6 79.9L644.8 79.8L648.0 79.8L651.1 79.8L654.3 79.9L657.4 80.1L660.6 80.3L663.8 80.5L666.9 80.7L670.1 80.9L673.2 81.1L676.4 81.1L679.5 81.1L682.7 81.1L685.9 80.9L689.0 80.8L692.2 80.6L695.3 80.5L698.5 80.4L701.6 80.3L704.8 80.2M518.5 81.8L521.7 81.8L524.8 81.7L528.0 81.7L531.1 81.6L534.3 81.5L537.4 81.5L540.6 81.4L543.8 81.4L546.9 81.4L550.1 81.4L553.2 81.6L556.4 81.8L559.5 82.0L562.7 82.2L565.9 82.4L569.0 82.5L572.2 82.6L575.3 82.5L578.5 82.4L581.7 82.2L584.8 81.9L588.0 81.6L591.1 81.3L594.3 80.9L597.4 80.6L600.6 80.3L603.8 80.1L606.9 79.9L610.1 79.8L613.2 79.8L616.4 79.8L619.5 79.8L622.7 79.8L625.9 79.8L629.0 79.8L632.2 79.8L635.3 79.8L638.5 79.8L641.6 79.8L644.8 79.8L648.0 79.8L651.1 79.8L654.3 79.8L657.4 79.8L660.6 79.8L663.8 79.8L666.9 79.8L670.1 79.8L673.2 79.8L676.4 79.8L679.5 79.9L682.7 80.0L685.9 80.3L689.0 80.6L692.2 80.9L695.3 81.3L698.5 81.5L701.6 81.7L704.8 81.8M518.5 83.4L521.7 83.5L524.8 83.7L528.0 84.1L531.1 84.5L534.3 85.0L537.4 85.4L540.6 85.7L543.8 85.9L546.9 85.9L550.1 85.7L553.2 85.2L556.4 84.7L559.5 84.0L562.7 83.4L565.9 82.8L569.0 82.3L572.2 82.0L575.3 81.8L578.5 81.6L581.7 81.5L584.8 81.3L588.0 81.2L591.1 81.1L594.3 81.0L597.4 80.9L600.6 80.8L603.8 80.7L606.9 80.7L610.1 80.7L613.2 80.7L616.4 80.8L619.5 80.9L622.7 81.1L625.9 81.3L629.0 81.6L632.2 81.8L635.3 82.1L638.5 82.3L641.6 82.5L644.8 82.6L648.0 82.7L651.1 82.7L654.3 82.7L657.4 82.6L660.6 82.5L663.8 82.4L666.9 82.3L670.1 82.2L673.2 82.1L676.4 82.1L679.5 82.1L682.7 82.2L685.9 82.4L689.0 82.6L692.2 82.8L695.3 83.0L698.5 83.2L701.6 83.3L704.8 83.4M518.5 84.9L521.7 85.0L524.8 85.3L528.0 85.6L531.1 86.1L534.3 86.5L537.4 86.9L540.6 87.2L543.8 87.4L546.9 87.4L550.1 87.1L553.2 86.6L556.4 85.9L559.5 85.2L562.7 84.5L565.9 83.8L569.0 83.4L572.2 83.2L575.3 83.2L578.5 83.5L581.7 83.8L584.8 84.3L588.0 84.8L591.1 85.4L594.3 86.1L597.4 86.7L600.6 87.3L603.8 87.8L606.9 88.3L610.1 88.7L613.2 88.9L616.4 89.2L619.5 89.4L622.7 89.7L625.9 89.9L629.0 90.1L632.2 90.3L635.3 90.5L638.5 90.7L641.6 90.8L644.8 90.9L648.0 90.9L651.1 90.9L654.3 90.8L657.4 90.7L660.6 90.4L663.8 90.2L666.9 89.9L670.1 89.6L673.2 89.2L676.4 88.9L679.5 88.6L682.7 88.1L685.9 87.5L689.0 86.9L692.2 86.3L695.3 85.8L698.5 85.3L701.6 85.0L704.8 84.9M518.5 86.5L521.7 86.4L524.8 86.3L528.0 86.1L531.1 85.8L534.3 85.5L537.4 85.3L540.6 85.1L543.8 85.0L546.9 84.9L550.1 85.0L553.2 85.0L556.4 85.0L559.5 85.1L562.7 85.2L565.9 85.2L569.0 85.3L572.2 85.4L575.3 85.5L578.5 85.6L581.7 85.8L584.8 86.0L588.0 86.2L591.1 86.4L594.3 86.6L597.4 86.8L600.6 87.0L603.8 87.1L606.9 87.2L610.1 87.3L613.2 87.3L616.4 87.3L619.5 87.2L622.7 87.2L625.9 87.1L629.0 87.1L632.2 87.0L635.3 87.0L638.5 86.9L641.6 86.8L644.8 86.8L648.0 86.7L651.1 86.6L654.3 86.5L657.4 86.4L660.6 86.3L663.8 86.2L666.9 86.1L670.1 86.1L673.2 86.0L676.4 86.0L679.5 86.0L682.7 86.0L685.9 86.1L689.0 86.2L692.2 86.3L695.3 86.3L698.5 86.4L701.6 86.5L704.8 86.5M518.5 88.0L521.7 87.9L524.8 87.5L528.0 86.9L531.1 86.2L534.3 85.5L537.4 84.9L540.6 84.4L543.8 84.1L546.9 84.0L550.1 84.2L553.2 84.5L556.4 84.9L559.5 85.3L562.7 85.7L565.9 86.1L569.0 86.4L572.2 86.6L575.3 86.7L578.5 86.8L581.7 86.9L584.8 87.0L588.0 87.0L591.1 87.1L594.3 87.1L597.4 87.1L600.6 87.2L603.8 87.2L606.9 87.3L610.1 87.4L613.2 87.5L616.4 87.7L619.5 88.0L622.7 88.3L625.9 88.6L629.0 88.9L632.2 89.3L635.3 89.6L638.5 89.9L641.6 90.1L644.8 90.3L648.0 90.4L651.1 90.4L654.3 90.1L657.4 89.7L660.6 89.2L663.8 88.6L666.9 88.0L670.1 87.5L673.2 87.1L676.4 86.9L679.5 86.9L682.7 87.0L685.9 87.2L689.0 87.3L692.2 87.5L695.3 87.7L698.5 87.9L701.6 88.0L704.8 88.0M518.5 89.6L521.7 89.7L524.8 89.8L528.0 90.1L531.1 90.3L534.3 90.6L537.4 90.9L540.6 91.1L543.8 91.3L546.9 91.4L550.1 91.5L553.2 91.5L556.4 91.6L559.5 91.6L562.7 91.7L565.9 91.7L569.0 91.8L572.2 91.8L575.3 91.8L578.5 91.9L581.7 91.9L584.8 92.0L588.0 92.0L591.1 92.1L594.3 92.1L597.4 92.1L600.6 92.2L603.8 92.2L606.9 92.2L610.1 92.2L613.2 92.2L616.4 92.2L619.5 92.2L622.7 92.2L625.9 92.2L629.0 92.2L632.2 92.2L635.3 92.2L638.5 92.2L641.6 92.2L644.8 92.2L648.0 92.2L651.1 92.2L654.3 92.0L657.4 91.7L660.6 91.4L663.8 90.9L666.9 90.5L670.1 90.1L673.2 89.9L676.4 89.7L679.5 89.7L682.7 89.7L685.9 89.6L689.0 89.6L692.2 89.6L695.3 89.6L698.5 89.6L701.6 89.6L704.8 89.6M518.5 91.2L521.7 91.2L524.8 91.4L528.0 91.6L531.1 91.8L534.3 92.1L537.4 92.3L540.6 92.5L543.8 92.6L546.9 92.6L550.1 92.4L553.2 92.1L556.4 91.8L559.5 91.4L562.7 91.0L565.9 90.6L569.0 90.4L572.2 90.3L575.3 90.3L578.5 90.4L581.7 90.6L584.8 90.8L588.0 91.0L591.1 91.3L594.3 91.6L597.4 91.8L600.6 92.1L603.8 92.3L606.9 92.4L610.1 92.5L613.2 92.6L616.4 92.6L619.5 92.6L622.7 92.6L625.9 92.7L629.0 92.7L632.2 92.7L635.3 92.7L638.5 92.7L641.6 92.7L644.8 92.7L648.0 92.8L651.1 92.7L654.3 92.5L657.4 92.1L660.6 91.7L663.8 91.1L666.9 90.6L670.1 90.1L673.2 89.8L676.4 89.6L679.5 89.6L682.7 89.7L685.9 90.0L689.0 90.2L692.2 90.5L695.3 90.7L698.5 91.0L701.6 91.1L704.8 91.2M518.5 92.7L521.7 92.7L524.8 92.8L528.0 92.8L531.1 92.9L534.3 93.0L537.4 93.1L540.6 93.2L543.8 93.3L546.9 93.4L550.1 93.6L553.2 93.8L556.4 94.2L559.5 94.5L562.7 94.8L565.9 95.1L569.0 95.4L572.2 95.6L575.3 95.7L578.5 95.8L581.7 96.0L584.8 96.1L588.0 96.2L591.1 96.3L594.3 96.4L597.4 96.5L600.6 96.5L603.8 96.6L606.9 96.6L610.1 96.6L613.2 96.6L616.4 96.4L619.5 96.0L622.7 95.6L625.9 95.1L629.0 94.5L632.2 93.9L635.3 93.4L638.5 92.8L641.6 92.4L644.8 92.1L648.0 91.9L651.1 91.9L654.3 91.9L657.4 91.9L660.6 91.9L663.8 92.0L666.9 92.0L670.1 92.1L673.2 92.1L676.4 92.2L679.5 92.2L682.7 92.3L685.9 92.4L689.0 92.5L692.2 92.5L695.3 92.6L698.5 92.7L701.6 92.7L704.8 92.7M518.5 94.3L521.7 94.3L524.8 94.1L528.0 94.0L531.1 93.8L534.3 93.5L537.4 93.3L540.6 93.0L543.8 92.8L546.9 92.5L550.1 92.1L553.2 91.7L556.4 91.3L559.5 90.8L562.7 90.4L565.9 90.0L569.0 89.8L572.2 89.7L575.3 89.7L578.5 89.9L581.7 90.3L584.8 90.7L588.0 91.2L591.1 91.8L594.3 92.5L597.4 93.1L600.6 93.8L603.8 94.4L606.9 95.0L610.1 95.6L613.2 96.1L616.4 96.6L619.5 97.2L622.7 97.8L625.9 98.5L629.0 99.1L632.2 99.6L635.3 100.2L638.5 100.6L641.6 101.0L644.8 101.3L648.0 101.4L651.1 101.4L654.3 101.3L657.4 101.2L660.6 101.0L663.8 100.8L666.9 100.5L670.1 100.2L673.2 99.9L676.4 99.5L679.5 99.1L682.7 98.6L685.9 97.8L689.0 97.0L692.2 96.2L695.3 95.5L698.5 94.9L701.6 94.4L704.8 94.3M518.5 95.9L521.7 95.9L524.8 96.1L528.0 96.4L531.1 96.7L534.3 97.1L537.4 97.4L540.6 97.6L543.8 97.8L546.9 97.8L550.1 97.6L553.2 97.1L556.4 96.6L559.5 96.0L562.7 95.3L565.9 94.8L569.0 94.4L572.2 94.1L575.3 94.0L578.5 93.9L581.7 93.8L584.8 93.8L588.0 93.7L591.1 93.6L594.3 93.6L597.4 93.6L600.6 93.5L603.8 93.5L606.9 93.5L610.1 93.5L613.2 93.5L616.4 93.6L619.5 93.8L622.7 94.0L625.9 94.3L629.0 94.6L632.2 94.9L635.3 95.3L638.5 95.5L641.6 95.8L644.8 96.0L648.0 96.1L651.1 96.1L654.3 96.0L657.4 95.8L660.6 95.6L663.8 95.3L666.9 95.1L670.1 94.9L673.2 94.7L676.4 94.7L679.5 94.7L682.7 94.8L685.9 94.9L689.0 95.1L692.2 95.3L695.3 95.5L698.5 95.7L701.6 95.8L704.8 95.9M518.5 97.4L521.7 97.3L524.8 97.1L528.0 96.9L531.1 96.5L534.3 96.1L537.4 95.8L540.6 95.4L543.8 95.1L546.9 95.0L550.1 94.8L553.2 94.7L556.4 94.6L559.5 94.5L562.7 94.4L565.9 94.3L569.0 94.2L572.2 94.1L575.3 94.0L578.5 93.9L581.7 93.8L584.8 93.7L588.0 93.6L591.1 93.5L594.3 93.4L597.4 93.3L600.6 93.2L603.8 93.1L606.9 93.1L610.1 93.0L613.2 92.9L616.4 92.8L619.5 92.8L622.7 92.7L625.9 92.6L629.0 92.6L632.2 92.5L635.3 92.4L638.5 92.4L641.6 92.4L644.8 92.3L648.0 92.3L651.1 92.4L654.3 92.7L657.4 93.3L660.6 94.1L663.8 94.9L666.9 95.8L670.1 96.5L673.2 97.1L676.4 97.4L679.5 97.4L682.7 97.4L685.9 97.4L689.0 97.4L692.2 97.4L695.3 97.4L698.5 97.4L701.6 97.4L704.8 97.4M518.5 99.0L521.7 99.0L524.8 99.0L528.0 98.9L531.1 98.9L534.3 98.9L537.4 98.9L540.6 98.8L543.8 98.8L546.9 98.7L550.1 98.6L553.2 98.3L556.4 98.0L559.5 97.7L562.7 97.4L565.9 97.1L569.0 96.9L572.2 96.8L575.3 96.9L578.5 97.1L581.7 97.4L584.8 97.9L588.0 98.4L591.1 99.0L594.3 99.5L597.4 100.1L600.6 100.6L603.8 101.0L606.9 101.3L610.1 101.4L613.2 101.4L616.4 101.4L619.5 101.4L622.7 101.4L625.9 101.3L629.0 101.3L632.2 101.3L635.3 101.2L638.5 101.2L641.6 101.2L644.8 101.2L648.0 101.1L651.1 101.1L654.3 101.2L657.4 101.3L660.6 101.4L663.8 101.6L666.9 101.7L670.1 101.8L673.2 101.9L676.4 101.9L679.5 101.9L682.7 101.6L685.9 101.3L689.0 100.8L692.2 100.3L695.3 99.8L698.5 99.4L701.6 99.1L704.8 99.0M518.5 100.5L521.7 100.7L524.8 101.2L528.0 101.9L531.1 102.7L534.3 103.6L537.4 104.4L540.6 105.0L543.8 105.4L546.9 105.4L550.1 105.2L553.2 104.9L556.4 104.4L559.5 103.9L562.7 103.4L565.9 103.0L569.0 102.6L572.2 102.4L575.3 102.4L578.5 102.3L581.7 102.3L584.8 102.3L588.0 102.2L591.1 102.2L594.3 102.2L597.4 102.2L600.6 102.2L603.8 102.1L606.9 102.1L610.1 102.1L613.2 101.9L616.4 101.7L619.5 101.2L622.7 100.6L625.9 100.0L629.0 99.2L632.2 98.5L635.3 97.8L638.5 97.2L641.6 96.6L644.8 96.2L648.0 96.0L651.1 96.0L654.3 96.1L657.4 96.2L660.6 96.4L663.8 96.6L666.9 96.9L670.1 97.2L673.2 97.5L676.4 97.7L679.5 98.0L682.7 98.3L685.9 98.7L689.0 99.2L692.2 99.6L695.3 100.0L698.5 100.3L701.6 100.5L704.8 100.5M518.5 102.1L521.7 102.1L524.8 102.3L528.0 102.4L531.1 102.6L534.3 102.8L537.4 103.0L540.6 103.1L543.8 103.2L546.9 103.2L550.1 102.8L553.2 102.0L556.4 101.0L559.5 100.0L562.7 98.9L565.9 98.0L569.0 97.3L572.2 97.0L575.3 97.1L578.5 97.4L581.7 97.9L584.8 98.5L588.0 99.2L591.1 100.0L594.3 100.8L597.4 101.6L600.6 102.2L603.8 102.8L606.9 103.2L610.1 103.4L613.2 103.4L616.4 103.2L619.5 103.0L622.7 102.7L625.9 102.3L629.0 101.9L632.2 101.5L635.3 101.1L638.5 100.7L641.6 100.4L644.8 100.2L648.0 100.1L651.1 100.1L654.3 100.1L657.4 100.1L660.6 100.1L663.8 100.1L666.9 100.2L670.1 100.2L673.2 100.3L676.4 100.4L679.5 100.4L682.7 100.6L685.9 100.9L689.0 101.1L692.2 101.4L695.3 101.7L698.5 101.9L701.6 102.0L704.8 102.1M518.5 103.7L521.7 103.6L524.8 103.6L528.0 103.5L531.1 103.4L534.3 103.3L537.4 103.2L540.6 103.1L543.8 103.1L546.9 103.1L550.1 103.3L553.2 103.7L556.4 104.2L559.5 104.7L562.7 105.3L565.9 105.8L569.0 106.1L572.2 106.3L575.3 106.2L578.5 106.2L581.7 106.1L584.8 105.9L588.0 105.7L591.1 105.6L594.3 105.4L597.4 105.2L600.6 105.1L603.8 104.9L606.9 104.8L610.1 104.8L613.2 104.8L616.4 104.9L619.5 105.1L622.7 105.4L625.9 105.7L629.0 106.1L632.2 106.4L635.3 106.7L638.5 107.0L641.6 107.3L644.8 107.5L648.0 107.6L651.1 107.6L654.3 107.5L657.4 107.3L660.6 107.0L663.8 106.7L666.9 106.3L670.1 106.0L673.2 105.7L676.4 105.4L679.5 105.2L682.7 104.9L685.9 104.7L689.0 104.4L692.2 104.2L695.3 104.0L698.5 103.8L701.6 103.7L704.8 103.7M518.5 105.2L521.7 105.1L524.8 104.7L528.0 104.2L531.1 103.6L534.3 103.0L537.4 102.4L540.6 102.0L543.8 101.7L546.9 101.7L550.1 101.9L553.2 102.2L556.4 102.6L559.5 103.1L562.7 103.5L565.9 103.9L569.0 104.2L572.2 104.3L575.3 104.3L578.5 104.3L581.7 104.1L584.8 104.0L588.0 103.8L591.1 103.6L594.3 103.4L597.4 103.3L600.6 103.1L603.8 103.0L606.9 102.9L610.1 102.8L613.2 102.8L616.4 102.9L619.5 102.9L622.7 103.0L625.9 103.1L629.0 103.2L632.2 103.3L635.3 103.4L638.5 103.5L641.6 103.6L644.8 103.6L648.0 103.7L651.1 103.7L654.3 103.7L657.4 103.6L660.6 103.6L663.8 103.6L666.9 103.5L670.1 103.5L673.2 103.5L676.4 103.4L679.5 103.5L682.7 103.6L685.9 103.9L689.0 104.1L692.2 104.4L695.3 104.7L698.5 105.0L701.6 105.2L704.8 105.2M518.5 106.8L521.7 106.6L524.8 106.3L528.0 105.8L531.1 105.2L534.3 104.6L537.4 104.1L540.6 103.6L543.8 103.4L546.9 103.3L550.1 103.4L553.2 103.5L556.4 103.7L559.5 103.9L562.7 104.2L565.9 104.4L569.0 104.6L572.2 104.8L575.3 105.0L578.5 105.1L581.7 105.3L584.8 105.4L588.0 105.5L591.1 105.7L594.3 105.8L597.4 105.9L600.6 106.1L603.8 106.3L606.9 106.4L610.1 106.6L613.2 106.9L616.4 107.3L619.5 107.8L622.7 108.3L625.9 109.0L629.0 109.6L632.2 110.2L635.3 110.8L638.5 111.4L641.6 111.8L644.8 112.1L648.0 112.3L651.1 112.3L654.3 112.1L657.4 111.7L660.6 111.2L663.8 110.7L666.9 110.1L670.1 109.5L673.2 109.0L676.4 108.6L679.5 108.3L682.7 108.0L685.9 107.8L689.0 107.5L692.2 107.3L695.3 107.1L698.5 106.9L701.6 106.8L704.8 106.8M518.5 108.3L521.7 108.4L524.8 108.5L528.0 108.6L531.1 108.9L534.3 109.1L537.4 109.4L540.6 109.7L543.8 110.0L546.9 110.4L550.1 110.9L553.2 111.5L556.4 112.3L559.5 113.0L562.7 113.8L565.9 114.4L569.0 115.0L572.2 115.3L575.3 115.5L578.5 115.6L581.7 115.8L584.8 115.9L588.0 116.0L591.1 116.1L594.3 116.2L597.4 116.3L600.6 116.4L603.8 116.4L606.9 116.5L610.1 116.5L613.2 116.4L616.4 116.2L619.5 115.8L622.7 115.3L625.9 114.7L629.0 114.1L632.2 113.4L635.3 112.7L638.5 112.0L641.6 111.5L644.8 111.0L648.0 110.7L651.1 110.5L654.3 110.4L657.4 110.3L660.6 110.2L663.8 110.2L666.9 110.1L670.1 110.0L673.2 109.9L676.4 109.8L679.5 109.7L682.7 109.5L685.9 109.3L689.0 109.1L692.2 108.9L695.3 108.7L698.5 108.5L701.6 108.4L704.8 108.3M518.5 109.9L521.7 109.7L524.8 109.2L528.0 108.5L531.1 107.7L534.3 106.8L537.4 106.0L540.6 105.4L543.8 105.0L546.9 105.0L550.1 105.0L553.2 105.1L556.4 105.3L559.5 105.5L562.7 105.7L565.9 105.9L569.0 106.1L572.2 106.3L575.3 106.5L578.5 106.7L581.7 106.9L584.8 107.1L588.0 107.3L591.1 107.6L594.3 107.8L597.4 108.1L600.6 108.4L603.8 108.6L606.9 108.9L610.1 109.2L613.2 109.6L616.4 110.0L619.5 110.5L622.7 111.0L625.9 111.6L629.0 112.2L632.2 112.7L635.3 113.2L638.5 113.7L641.6 114.1L644.8 114.4L648.0 114.5L651.1 114.5L654.3 114.4L657.4 114.3L660.6 114.1L663.8 113.8L666.9 113.5L670.1 113.2L673.2 112.9L676.4 112.6L679.5 112.3L682.7 112.0L685.9 111.6L689.0 111.2L692.2 110.8L695.3 110.4L698.5 110.2L701.6 110.0L704.8 109.9M518.5 111.5L521.7 111.4L524.8 111.4L528.0 111.3L531.1 111.2L534.3 111.0L537.4 110.9L540.6 110.8L543.8 110.7L546.9 110.6L550.1 110.6L553.2 110.5L556.4 110.5L559.5 110.5L562.7 110.5L565.9 110.4L569.0 110.4L572.2 110.3L575.3 110.2L578.5 110.0L581.7 109.8L584.8 109.5L588.0 109.2L591.1 108.9L594.3 108.6L597.4 108.3L600.6 108.0L603.8 107.8L606.9 107.6L610.1 107.5L613.2 107.5L616.4 107.6L619.5 107.6L622.7 107.7L625.9 107.8L629.0 108.0L632.2 108.1L635.3 108.3L638.5 108.5L641.6 108.7L644.8 108.9L648.0 109.1L651.1 109.3L654.3 109.5L657.4 109.9L660.6 110.2L663.8 110.6L666.9 111.0L670.1 111.3L673.2 111.5L676.4 111.6L679.5 111.6L682.7 111.6L685.9 111.6L689.0 111.5L692.2 111.5L695.3 111.5L698.5 111.5L701.6 111.5L704.8 111.5M518.5 113.0L521.7 113.0L524.8 113.1L528.0 113.2L531.1 113.2L534.3 113.3L537.4 113.4L540.6 113.6L543.8 113.7L546.9 113.7L550.1 113.8L553.2 114.0L556.4 114.1L559.5 114.2L562.7 114.3L565.9 114.4L569.0 114.5L572.2 114.5L575.3 114.5L578.5 114.5L581.7 114.4L584.8 114.4L588.0 114.3L591.1 114.3L594.3 114.2L597.4 114.1L600.6 114.0L603.8 113.9L606.9 113.8L610.1 113.7L613.2 113.5L616.4 113.3L619.5 112.9L622.7 112.5L625.9 112.0L629.0 111.5L632.2 111.0L635.3 110.6L638.5 110.1L641.6 109.8L644.8 109.5L648.0 109.4L651.1 109.3L654.3 109.3L657.4 109.3L660.6 109.3L663.8 109.3L666.9 109.3L670.1 109.3L673.2 109.3L676.4 109.3L679.5 109.4L682.7 109.7L685.9 110.2L689.0 110.8L692.2 111.4L695.3 112.0L698.5 112.5L701.6 112.9L704.8 113.0M518.5 114.6L521.7 114.6L524.8 114.6L528.0 114.6L531.1 114.6L534.3 114.6L537.4 114.7L540.6 114.7L543.8 114.7L546.9 114.6L550.1 114.3L553.2 113.6L556.4 112.8L559.5 111.9L562.7 111.0L565.9 110.2L569.0 109.7L572.2 109.4L575.3 109.4L578.5 109.6L581.7 109.8L584.8 110.0L588.0 110.4L591.1 110.7L594.3 111.1L597.4 111.5L600.6 111.9L603.8 112.3L606.9 112.6L610.1 112.9L613.2 113.2L616.4 113.5L619.5 113.9L622.7 114.2L625.9 114.5L629.0 114.9L632.2 115.2L635.3 115.5L638.5 115.7L641.6 115.9L644.8 116.1L648.0 116.1L651.1 116.2L654.3 116.1L657.4 116.1L660.6 116.0L663.8 116.0L666.9 115.9L670.1 115.8L673.2 115.8L676.4 115.7L679.5 115.6L682.7 115.5L685.9 115.3L689.0 115.1L692.2 115.0L695.3 114.8L698.5 114.7L701.6 114.6L704.8 114.6M518.5 116.1L521.7 116.2L524.8 116.5L528.0 116.9L531.1 117.3L534.3 117.7L537.4 118.1L540.6 118.4L543.8 118.6L546.9 118.7L550.1 118.6L553.2 118.5L556.4 118.3L559.5 118.2L562.7 117.9L565.9 117.7L569.0 117.5L572.2 117.2L575.3 116.9L578.5 116.5L581.7 116.1L584.8 115.5L588.0 115.0L591.1 114.4L594.3 113.8L597.4 113.2L600.6 112.7L603.8 112.3L606.9 112.0L610.1 111.8L613.2 111.7L616.4 111.6L619.5 111.5L622.7 111.5L625.9 111.4L629.0 111.3L632.2 111.3L635.3 111.3L638.5 111.2L641.6 111.2L644.8 111.2L648.0 111.2L651.1 111.2L654.3 111.5L657.4 112.1L660.6 112.9L663.8 113.7L666.9 114.6L670.1 115.3L673.2 115.8L676.4 116.1L679.5 116.1L682.7 116.1L685.9 116.1L689.0 116.1L692.2 116.1L695.3 116.1L698.5 116.1L701.6 116.1L704.8 116.1M518.5 117.7L521.7 117.7L524.8 117.6L528.0 117.5L531.1 117.3L534.3 117.2L537.4 117.1L540.6 117.0L543.8 116.9L546.9 116.9L550.1 117.2L553.2 117.6L556.4 118.2L559.5 118.8L562.7 119.4L565.9 119.9L569.0 120.3L572.2 120.5L575.3 120.4L578.5 120.3L581.7 120.0L584.8 119.6L588.0 119.2L591.1 118.7L594.3 118.2L597.4 117.7L600.6 117.3L603.8 116.9L606.9 116.6L610.1 116.4L613.2 116.2L616.4 116.1L619.5 116.0L622.7 115.9L625.9 115.8L629.0 115.7L632.2 115.7L635.3 115.6L638.5 115.6L641.6 115.5L644.8 115.5L648.0 115.5L651.1 115.5L654.3 115.5L657.4 115.5L660.6 115.6L663.8 115.6L666.9 115.7L670.1 115.7L673.2 115.8L676.4 115.9L679.5 116.0L682.7 116.2L685.9 116.4L689.0 116.7L692.2 117.0L695.3 117.3L698.5 117.5L701.6 117.6L704.8 117.7M518.5 140.6L521.7 140.5L524.8 140.4L528.0 140.3L531.1 140.0L534.3 139.8L537.4 139.6L540.6 139.5L543.8 139.4L546.9 139.4L550.1 139.4L553.2 139.5L556.4 139.6L559.5 139.7L562.7 139.9L565.9 140.0L569.0 140.1L572.2 140.1L575.3 140.2L578.5 140.2L581.7 140.3L584.8 140.3L588.0 140.3L591.1 140.3L594.3 140.4L597.4 140.4L600.6 140.4L603.8 140.4L606.9 140.4L610.1 140.4L613.2 140.4L616.4 140.4L619.5 140.4L622.7 140.4L625.9 140.4L629.0 140.3L632.2 140.3L635.3 140.3L638.5 140.2L641.6 140.2L644.8 140.2L648.0 140.1L651.1 140.1L654.3 140.1L657.4 140.0L660.6 140.0L663.8 140.0L666.9 139.9L670.1 139.9L673.2 139.9L676.4 139.9L679.5 139.9L682.7 140.0L685.9 140.0L689.0 140.2L692.2 140.3L695.3 140.4L698.5 140.5L701.6 140.6L704.8 140.6M518.5 142.2L521.7 142.1L524.8 141.9L528.0 141.5L531.1 141.2L534.3 140.8L537.4 140.4L540.6 140.1L543.8 140.0L546.9 140.0L550.1 140.0L553.2 140.0L556.4 140.1L559.5 140.2L562.7 140.2L565.9 140.3L569.0 140.3L572.2 140.4L575.3 140.4L578.5 140.4L581.7 140.4L584.8 140.3L588.0 140.3L591.1 140.3L594.3 140.3L597.4 140.3L600.6 140.3L603.8 140.3L606.9 140.3L610.1 140.3L613.2 140.3L616.4 140.4L619.5 140.5L622.7 140.7L625.9 140.9L629.0 141.1L632.2 141.3L635.3 141.6L638.5 141.8L641.6 141.9L644.8 142.1L648.0 142.1L651.1 142.1L654.3 141.9L657.4 141.5L660.6 141.0L663.8 140.4L666.9 139.8L670.1 139.3L673.2 138.9L676.4 138.7L679.5 138.8L682.7 139.1L685.9 139.5L689.0 140.1L692.2 140.6L695.3 141.2L698.5 141.7L701.6 142.0L704.8 142.2M518.5 143.7L521.7 143.7L524.8 143.7L528.0 143.8L531.1 143.8L534.3 143.8L537.4 143.8L540.6 143.8L543.8 143.8L546.9 143.8L550.1 143.8L553.2 143.6L556.4 143.4L559.5 143.2L562.7 143.0L565.9 142.9L569.0 142.8L572.2 142.7L575.3 142.7L578.5 142.8L581.7 142.8L584.8 142.9L588.0 143.0L591.1 143.1L594.3 143.2L597.4 143.4L600.6 143.5L603.8 143.6L606.9 143.8L610.1 143.9L613.2 144.0L616.4 144.1L619.5 144.2L622.7 144.3L625.9 144.4L629.0 144.6L632.2 144.7L635.3 144.8L638.5 144.9L641.6 145.0L644.8 145.0L648.0 145.0L651.1 145.0L654.3 144.9L657.4 144.6L660.6 144.3L663.8 143.9L666.9 143.5L670.1 143.2L673.2 142.9L676.4 142.8L679.5 142.8L682.7 142.9L685.9 143.0L689.0 143.2L692.2 143.3L695.3 143.5L698.5 143.6L701.6 143.7L704.8 143.7M518.5 145.3L521.7 145.2L524.8 144.9L528.0 144.5L531.1 144.1L534.3 143.6L537.4 143.2L540.6 142.9L543.8 142.7L546.9 142.7L550.1 142.9L553.2 143.2L556.4 143.7L559.5 144.2L562.7 144.8L565.9 145.4L569.0 145.9L572.2 146.3L575.3 146.6L578.5 147.0L581.7 147.3L584.8 147.7L588.0 148.1L591.1 148.4L594.3 148.7L597.4 149.0L600.6 149.2L603.8 149.4L606.9 149.5L610.1 149.6L613.2 149.6L616.4 149.3L619.5 148.9L622.7 148.4L625.9 147.8L629.0 147.1L632.2 146.5L635.3 145.8L638.5 145.2L641.6 144.7L644.8 144.3L648.0 144.1L651.1 144.1L654.3 144.3L657.4 144.6L660.6 144.9L663.8 145.4L666.9 145.8L670.1 146.2L673.2 146.5L676.4 146.6L679.5 146.6L682.7 146.5L685.9 146.3L689.0 146.1L692.2 145.9L695.3 145.6L698.5 145.5L701.6 145.3L704.8 145.3M518.5 146.8L521.7 146.8L524.8 146.7L528.0 146.6L531.1 146.5L534.3 146.3L537.4 146.2L540.6 146.1L543.8 146.1L546.9 146.0L550.1 146.0L553.2 146.0L556.4 146.1L559.5 146.1L562.7 146.1L565.9 146.1L569.0 146.1L572.2 146.1L575.3 146.1L578.5 146.1L581.7 146.2L584.8 146.2L588.0 146.3L591.1 146.3L594.3 146.4L597.4 146.4L600.6 146.5L603.8 146.5L606.9 146.6L610.1 146.6L613.2 146.6L616.4 146.5L619.5 146.5L622.7 146.4L625.9 146.3L629.0 146.2L632.2 146.1L635.3 146.0L638.5 145.9L641.6 145.8L644.8 145.7L648.0 145.6L651.1 145.6L654.3 145.5L657.4 145.4L660.6 145.3L663.8 145.3L666.9 145.2L670.1 145.1L673.2 145.1L676.4 145.1L679.5 145.1L682.7 145.3L685.9 145.5L689.0 145.8L692.2 146.1L695.3 146.4L698.5 146.6L701.6 146.8L704.8 146.8M518.5 148.4L521.7 148.2L524.8 147.8L528.0 147.1L531.1 146.3L534.3 145.5L537.4 144.8L540.6 144.2L543.8 143.8L546.9 143.8L550.1 144.0L553.2 144.5L556.4 145.0L559.5 145.6L562.7 146.3L565.9 146.8L569.0 147.3L572.2 147.5L575.3 147.6L578.5 147.7L581.7 147.7L584.8 147.8L588.0 147.8L591.1 147.9L594.3 147.9L597.4 147.9L600.6 148.0L603.8 148.0L606.9 148.1L610.1 148.1L613.2 148.2L616.4 148.3L619.5 148.5L622.7 148.7L625.9 148.9L629.0 149.1L632.2 149.3L635.3 149.5L638.5 149.7L641.6 149.8L644.8 149.9L648.0 150.0L651.1 150.0L654.3 150.1L657.4 150.1L660.6 150.1L663.8 150.1L666.9 150.1L670.1 150.2L673.2 150.2L676.4 150.2L679.5 150.1L682.7 150.0L685.9 149.8L689.0 149.5L692.2 149.2L695.3 148.9L698.5 148.6L701.6 148.5L704.8 148.4M518.5 150.0L521.7 150.0L524.8 150.0L528.0 150.0L531.1 150.1L534.3 150.1L537.4 150.2L540.6 150.2L543.8 150.2L546.9 150.2L550.1 150.2L553.2 150.2L556.4 150.2L559.5 150.2L562.7 150.2L565.9 150.3L569.0 150.3L572.2 150.3L575.3 150.3L578.5 150.6L581.7 151.0L584.8 151.4L588.0 152.0L591.1 152.6L594.3 153.2L597.4 153.7L600.6 154.3L603.8 154.7L606.9 155.0L610.1 155.1L613.2 155.1L616.4 154.9L619.5 154.6L622.7 154.2L625.9 153.7L629.0 153.2L632.2 152.6L635.3 152.1L638.5 151.6L641.6 151.2L644.8 150.9L648.0 150.7L651.1 150.7L654.3 150.7L657.4 150.8L660.6 150.8L663.8 150.9L666.9 151.0L670.1 151.1L673.2 151.1L676.4 151.1L679.5 151.1L682.7 151.0L685.9 150.9L689.0 150.7L692.2 150.5L695.3 150.3L698.5 150.1L701.6 150.0L704.8 150.0M518.5 151.5L521.7 151.5L524.8 151.4L528.0 151.2L531.1 151.0L534.3 150.8L537.4 150.6L540.6 150.4L543.8 150.2L546.9 150.0L550.1 149.8L553.2 149.5L556.4 149.2L559.5 149.0L562.7 148.8L565.9 148.6L569.0 148.4L572.2 148.4L575.3 148.4L578.5 148.4L581.7 148.5L584.8 148.6L588.0 148.7L591.1 148.9L594.3 149.1L597.4 149.2L600.6 149.4L603.8 149.6L606.9 149.8L610.1 150.1L613.2 150.3L616.4 150.7L619.5 151.1L622.7 151.6L625.9 152.2L629.0 152.7L632.2 153.3L635.3 153.8L638.5 154.3L641.6 154.7L644.8 155.0L648.0 155.1L651.1 155.1L654.3 154.9L657.4 154.6L660.6 154.1L663.8 153.6L666.9 153.0L670.1 152.5L673.2 152.1L676.4 151.9L679.5 151.8L682.7 151.8L685.9 151.7L689.0 151.6L692.2 151.6L695.3 151.6L698.5 151.5L701.6 151.5L704.8 151.5M518.5 153.1L521.7 153.0L524.8 152.9L528.0 152.8L531.1 152.6L534.3 152.3L537.4 152.0L540.6 151.8L543.8 151.5L546.9 151.2L550.1 150.9L553.2 150.5L556.4 150.0L559.5 149.6L562.7 149.1L565.9 148.8L569.0 148.5L572.2 148.4L575.3 148.5L578.5 148.7L581.7 149.0L584.8 149.4L588.0 149.9L591.1 150.5L594.3 151.0L597.4 151.7L600.6 152.3L603.8 152.8L606.9 153.4L610.1 153.9L613.2 154.3L616.4 154.7L619.5 155.2L622.7 155.7L625.9 156.1L629.0 156.6L632.2 157.0L635.3 157.4L638.5 157.8L641.6 158.1L644.8 158.3L648.0 158.4L651.1 158.4L654.3 158.2L657.4 157.8L660.6 157.3L663.8 156.8L666.9 156.2L670.1 155.6L673.2 155.1L676.4 154.7L679.5 154.5L682.7 154.2L685.9 154.0L689.0 153.7L692.2 153.5L695.3 153.3L698.5 153.2L701.6 153.1L704.8 153.1M518.5 154.6L521.7 154.5L524.8 154.1L528.0 153.6L531.1 153.0L534.3 152.4L537.4 151.8L540.6 151.4L543.8 151.1L546.9 151.1L550.1 151.1L553.2 151.1L556.4 151.1L559.5 151.1L562.7 151.1L565.9 151.2L569.0 151.2L572.2 151.2L575.3 151.4L578.5 151.7L581.7 152.3L584.8 153.0L588.0 153.8L591.1 154.7L594.3 155.6L597.4 156.5L600.6 157.4L603.8 158.2L606.9 158.9L610.1 159.5L613.2 159.9L616.4 160.3L619.5 160.7L622.7 161.1L625.9 161.4L629.0 161.8L632.2 162.1L635.3 162.4L638.5 162.6L641.6 162.8L644.8 162.9L648.0 163.0L651.1 163.0L654.3 162.7L657.4 162.2L660.6 161.5L663.8 160.7L666.9 159.9L670.1 159.1L673.2 158.4L676.4 157.8L679.5 157.3L682.7 156.9L685.9 156.4L689.0 155.9L692.2 155.5L695.3 155.2L698.5 154.9L701.6 154.7L704.8 154.6M518.5 156.2L521.7 156.2L524.8 156.2L528.0 156.2L531.1 156.3L534.3 156.3L537.4 156.3L540.6 156.4L543.8 156.4L546.9 156.5L550.1 156.9L553.2 157.4L556.4 158.1L559.5 158.8L562.7 159.6L565.9 160.2L569.0 160.7L572.2 160.9L575.3 160.8L578.5 160.8L581.7 160.6L584.8 160.5L588.0 160.3L591.1 160.1L594.3 159.8L597.4 159.6L600.6 159.3L603.8 159.1L606.9 158.8L610.1 158.6L613.2 158.4L616.4 158.1L619.5 157.8L622.7 157.5L625.9 157.2L629.0 156.9L632.2 156.6L635.3 156.3L638.5 156.1L641.6 155.9L644.8 155.8L648.0 155.7L651.1 155.6L654.3 155.6L657.4 155.6L660.6 155.6L663.8 155.6L666.9 155.6L670.1 155.6L673.2 155.6L676.4 155.6L679.5 155.6L682.7 155.7L685.9 155.7L689.0 155.8L692.2 155.9L695.3 156.0L698.5 156.1L701.6 156.2L704.8 156.2M518.5 157.8L521.7 157.7L524.8 157.7L528.0 157.6L531.1 157.4L534.3 157.3L537.4 157.1L540.6 156.9L543.8 156.8L546.9 156.6L550.1 156.5L553.2 156.3L556.4 156.1L559.5 156.0L562.7 155.8L565.9 155.6L569.0 155.4L572.2 155.3L575.3 155.1L578.5 155.0L581.7 154.8L584.8 154.6L588.0 154.5L591.1 154.3L594.3 154.1L597.4 154.0L600.6 153.9L603.8 153.8L606.9 153.7L610.1 153.7L613.2 153.7L616.4 153.8L619.5 154.1L622.7 154.5L625.9 154.9L629.0 155.3L632.2 155.7L635.3 156.2L638.5 156.6L641.6 156.9L644.8 157.2L648.0 157.3L651.1 157.3L654.3 157.2L657.4 157.0L660.6 156.8L663.8 156.5L666.9 156.2L670.1 156.0L673.2 155.8L676.4 155.7L679.5 155.8L682.7 155.9L685.9 156.2L689.0 156.5L692.2 156.9L695.3 157.2L698.5 157.5L701.6 157.7L704.8 157.8M518.5 159.3L521.7 159.4L524.8 159.7L528.0 160.0L531.1 160.4L534.3 160.8L537.4 161.2L540.6 161.5L543.8 161.7L546.9 161.7L550.1 161.7L553.2 161.6L556.4 161.4L559.5 161.2L562.7 161.0L565.9 160.8L569.0 160.5L572.2 160.3L575.3 160.0L578.5 159.6L581.7 159.1L584.8 158.6L588.0 158.0L591.1 157.4L594.3 156.7L597.4 156.1L600.6 155.5L603.8 155.0L606.9 154.5L610.1 154.1L613.2 153.7L616.4 153.3L619.5 153.0L622.7 152.6L625.9 152.3L629.0 152.0L632.2 151.6L635.3 151.4L638.5 151.1L641.6 151.0L644.8 150.8L648.0 150.8L651.1 150.8L654.3 151.0L657.4 151.4L660.6 152.0L663.8 152.7L666.9 153.4L670.1 154.1L673.2 154.8L676.4 155.4L679.5 155.9L682.7 156.4L685.9 157.0L689.0 157.6L692.2 158.1L695.3 158.6L698.5 159.0L701.6 159.2L704.8 159.3M518.5 79.8L521.7 79.8L524.8 79.8L528.0 79.9L531.1 79.9L534.3 79.9L537.4 79.9L540.6 80.0L543.8 80.0L546.9 80.0L550.1 80.1L553.2 80.1L556.4 80.1L559.5 80.2L562.7 80.2L565.9 80.2L569.0 80.2L572.2 80.2L575.3 80.3L578.5 80.3L581.7 80.3L584.8 80.3L588.0 80.3L591.1 80.3L594.3 80.3L597.4 80.3L600.6 80.4L603.8 80.4L606.9 80.4L610.1 80.4L613.2 80.4L616.4 80.4L619.5 80.4L622.7 80.4L625.9 80.4L629.0 80.4L632.2 80.4L635.3 80.4L638.5 80.4L641.6 80.5L644.8 80.5L648.0 80.5L651.1 80.5L654.3 80.4L657.4 80.4L660.6 80.4L663.8 80.4L666.9 80.3L670.1 80.3L673.2 80.2L676.4 80.2L679.5 80.1L682.7 80.1L685.9 80.0L689.0 80.0L692.2 79.9L695.3 79.9L698.5 79.9L701.6 79.8L704.8 79.8M518.5 105.2L521.7 105.5L524.8 106.3L528.0 107.4L531.1 108.8L534.3 110.2L537.4 112.0L540.6 114.4L543.8 117.2L546.9 120.4L550.1 123.5L553.2 126.5L556.4 129.2L559.5 131.7L562.7 134.1L565.9 136.0L569.0 136.9L572.2 137.5L575.3 137.4L578.5 137.2L581.7 137.0L584.8 136.6L588.0 136.3L591.1 135.9L594.3 135.5L597.4 135.2L600.6 134.9L603.8 134.5L606.9 134.0L610.1 133.6L613.2 133.2L616.4 132.9L619.5 132.6L622.7 132.4L625.9 132.3L629.0 132.3L632.2 132.4L635.3 132.7L638.5 133.0L641.6 133.3L644.8 133.7L648.0 134.1L651.1 134.6L654.3 135.3L657.4 136.2L660.6 137.2L663.8 138.3L666.9 139.4L670.1 140.3L673.2 141.1L676.4 141.6L679.5 141.8L682.7 142.0L685.9 142.1L689.0 142.3L692.2 142.4L695.3 142.5L698.5 142.6L701.6 142.7L704.8 142.7M518.5 139.6L521.7 139.3L524.8 138.6L528.0 137.7L531.1 136.6L534.3 135.5L537.4 134.4L540.6 132.9L543.8 131.2L546.9 129.4L550.1 127.7L553.2 126.2L556.4 125.0L559.5 123.9L562.7 122.8L565.9 121.8L569.0 121.1L572.2 120.8L575.3 120.9L578.5 121.0L581.7 121.1L584.8 121.3L588.0 121.6L591.1 121.8L594.3 122.1L597.4 122.3L600.6 122.5L603.8 122.7L606.9 122.8L610.1 122.9L613.2 122.9L616.4 122.9L619.5 122.8L622.7 122.8L625.9 122.7L629.0 122.7L632.2 122.6L635.3 122.5L638.5 122.4L641.6 122.2L644.8 122.1L648.0 121.9L651.1 121.8L654.3 121.5L657.4 121.2L660.6 120.8L663.8 120.3L666.9 119.7L670.1 119.1L673.2 118.4L676.4 117.4L679.5 116.1L682.7 114.7L685.9 113.3L689.0 112.0L692.2 110.9L695.3 110.0L698.5 109.2L701.6 108.6L704.8 108.3M518.5 141.6L521.7 141.4L524.8 140.7L528.0 139.8L531.1 138.7L534.3 137.6L537.4 136.5L540.6 135.1L543.8 133.5L546.9 132.0L550.1 130.4L553.2 129.1L556.4 128.1L559.5 127.3L562.7 126.4L565.9 125.7L569.0 125.2L572.2 125.0L575.3 125.0L578.5 125.2L581.7 125.5L584.8 125.8L588.0 126.2L591.1 126.6L594.3 127.0L597.4 127.4L600.6 127.8L603.8 128.1L606.9 128.5L610.1 128.8L613.2 129.2L616.4 129.5L619.5 129.9L622.7 130.3L625.9 130.7L629.0 131.0L632.2 131.3L635.3 131.6L638.5 131.9L641.6 132.0L644.8 132.2L648.0 132.3L651.1 132.2L654.3 131.8L657.4 131.1L660.6 130.1L663.8 128.9L666.9 127.6L670.1 126.4L673.2 125.2L676.4 124.2L679.5 123.3L682.7 122.4L685.9 121.4L689.0 120.5L692.2 119.6L695.3 118.9L698.5 118.2L701.6 117.8L704.8 117.7M518.5 142.7L521.7 142.6L524.8 142.5L528.0 142.4L531.1 142.2L534.3 142.0L537.4 141.9L540.6 141.7L543.8 141.6L546.9 141.7L550.1 142.6L553.2 144.0L556.4 145.5L559.5 146.6L562.7 146.8L565.9 146.0L569.0 144.8L572.2 143.8L575.3 143.2L578.5 142.7L581.7 142.2L584.8 141.7L588.0 141.3L591.1 140.9L594.3 140.5L597.4 140.2L600.6 139.8L603.8 139.4L606.9 139.1L610.1 138.7L613.2 138.2L616.4 137.7L619.5 137.2L622.7 136.6L625.9 136.1L629.0 135.5L632.2 135.0L635.3 134.5L638.5 134.1L641.6 133.7L644.8 133.5L648.0 133.3L651.1 133.3L654.3 133.7L657.4 134.2L660.6 135.0L663.8 135.9L666.9 136.8L670.1 137.8L673.2 138.7L676.4 139.4L679.5 140.0L682.7 140.6L685.9 141.3L689.0 141.9L692.2 142.5L695.3 143.0L698.5 143.4L701.6 143.6L704.8 143.7M518.5 118.7L521.7 118.7L524.8 118.6L528.0 118.5L531.1 118.4L534.3 118.2L537.4 118.1L540.6 117.9L543.8 117.8L546.9 117.6L550.1 117.5L553.2 117.3L556.4 117.2L559.5 117.0L562.7 116.9L565.9 116.8L569.0 116.7L572.2 116.7L575.3 116.7L578.5 116.9L581.7 117.1L584.8 117.4L588.0 117.8L591.1 118.1L594.3 118.5L597.4 118.9L600.6 119.2L603.8 119.5L606.9 119.7L610.1 119.8L613.2 119.8L616.4 119.7L619.5 119.5L622.7 119.3L625.9 119.1L629.0 118.9L632.2 118.6L635.3 118.4L638.5 118.1L641.6 117.9L644.8 117.8L648.0 117.7L651.1 117.7L654.3 118.0L657.4 118.4L660.6 119.0L663.8 119.7L666.9 120.4L670.1 121.2L673.2 122.0L676.4 122.7L679.5 123.4L682.7 124.3L685.9 125.2L689.0 126.1L692.2 127.1L695.3 127.9L698.5 128.5L701.6 129.0L704.8 129.1M518.5 143.7L521.7 143.9L524.8 144.4L528.0 145.1L531.1 146.0L534.3 147.0L537.4 148.0L540.6 148.9L543.8 149.6L546.9 150.2L550.1 150.7L553.2 151.2L556.4 151.7L559.5 152.1L562.7 152.5L565.9 152.8L569.0 153.0L572.2 153.1L575.3 153.0L578.5 152.9L581.7 152.6L584.8 152.2L588.0 151.8L591.1 151.3L594.3 150.8L597.4 150.2L600.6 149.7L603.8 149.1L606.9 148.5L610.1 148.0L613.2 147.6L616.4 147.0L619.5 146.4L622.7 145.7L625.9 145.0L629.0 144.3L632.2 143.7L635.3 143.1L638.5 142.6L641.6 142.1L644.8 141.8L648.0 141.7L651.1 141.7L654.3 141.9L657.4 142.4L660.6 143.1L663.8 143.8L666.9 144.5L670.1 145.1L673.2 145.6L676.4 145.8L679.5 145.8L682.7 145.6L685.9 145.3L689.0 145.0L692.2 144.6L695.3 144.3L698.5 144.0L701.6 143.8L704.8 143.7M518.5 167.2L521.7 167.2L524.8 167.1L528.0 166.9L531.1 166.7L534.3 166.5L537.4 166.2L540.6 166.0L543.8 165.7L546.9 165.4L550.1 165.1L553.2 164.6L556.4 164.2L559.5 163.7L562.7 163.2L565.9 162.8L569.0 162.6L572.2 162.4L575.3 162.5L578.5 162.5L581.7 162.5L584.8 162.6L588.0 162.7L591.1 162.8L594.3 162.9L597.4 163.0L600.6 163.1L603.8 163.3L606.9 163.4L610.1 163.5L613.2 163.5L616.4 163.6L619.5 163.7L622.7 163.8L625.9 163.8L629.0 163.9L632.2 164.0L635.3 164.0L638.5 164.1L641.6 164.2L644.8 164.3L648.0 164.5L651.1 164.6L654.3 164.9L657.4 165.3L660.6 165.8L663.8 166.3L666.9 166.8L670.1 167.2L673.2 167.5L676.4 167.6L679.5 167.6L682.7 167.6L685.9 167.6L689.0 167.5L692.2 167.4L695.3 167.3L698.5 167.3L701.6 167.2L704.8 167.2M518.5 161.4L521.7 161.3L524.8 161.2L528.0 160.9L531.1 160.6L534.3 160.3L537.4 160.0L540.6 159.7L543.8 159.4L546.9 159.3L550.1 159.1L553.2 158.9L556.4 158.8L559.5 158.6L562.7 158.5L565.9 158.4L569.0 158.3L572.2 158.3L575.3 158.3L578.5 158.4L581.7 158.5L584.8 158.7L588.0 158.9L591.1 159.1L594.3 159.3L597.4 159.6L600.6 159.8L603.8 160.0L606.9 160.2L610.1 160.3L613.2 160.4L616.4 160.5L619.5 160.6L622.7 160.7L625.9 160.8L629.0 160.9L632.2 160.9L635.3 161.0L638.5 161.1L641.6 161.2L644.8 161.3L648.0 161.4L651.1 161.5L654.3 161.6L657.4 161.7L660.6 161.9L663.8 162.0L666.9 162.2L670.1 162.3L673.2 162.4L676.4 162.4L679.5 162.4L682.7 162.3L685.9 162.2L689.0 162.0L692.2 161.9L695.3 161.7L698.5 161.5L701.6 161.4L704.8 161.4" fill="none" stroke="#000" stroke-width="1.12" stroke-linejoin="round"/>
<line x1="598.4" y1="78.6" x2="525" y2="61.2" stroke="#f00" stroke-width="2.8"/>
<path d="M517.6 59.3 L528.2 58.2 L525.6 61.3 L526.4 65 Z" fill="#000"/>
<text x="552.3" y="63" font-family='"Liberation Serif", serif' font-size="17.2" fill="#111">1.22</text>
<text x="586.7" y="63" font-family='"Liberation Sans", sans-serif' font-size="17" fill="#111">eV</text>
<path d="M40.5 62.4L43.7 62.3L46.9 61.9L50.1 61.4L53.3 60.8L56.5 60.2L59.8 59.3L63.0 58.1L66.2 56.6L69.4 54.9L72.6 53.2L75.8 51.6L79.0 50.3L82.2 49.1L85.4 48.1L88.6 47.1L91.8 46.2L95.0 45.3L98.3 44.5L101.5 43.8L104.7 43.1L107.9 42.4L111.1 41.7L114.3 41.1L117.5 40.5L120.7 40.0L123.9 39.5L127.1 39.0L130.3 38.6L133.5 38.1L136.8 37.7L140.0 37.3L143.2 36.8L146.4 36.3L149.6 35.7L152.8 35.1L156.0 34.4L159.2 33.7L162.4 33.1L165.6 32.6L168.8 32.2L172.0 32.0L175.3 32.0L178.5 32.0L181.7 32.0L184.9 32.0L188.1 32.0L191.3 32.0L194.5 32.0L197.7 32.0L200.9 32.0L204.1 32.0L207.3 32.0L210.5 32.1L213.8 32.1L217.0 32.2L220.2 32.3L223.4 32.3L226.6 32.4L229.8 32.4M40.5 53.0L43.7 52.9L46.9 52.8L50.1 52.5L53.3 52.2L56.5 51.9L59.8 51.6L63.0 51.2L66.2 50.8L69.4 50.2L72.6 49.6L75.8 48.9L79.0 48.2L82.2 47.5L85.4 46.9L88.6 46.4L91.8 45.9L95.0 45.3L98.3 44.6L101.5 43.7L104.7 42.7L107.9 41.7L111.1 40.6L114.3 39.7L117.5 38.8L120.7 38.1L123.9 37.4L127.1 36.8L130.3 36.2L133.5 35.6L136.8 35.1L140.0 34.6L143.2 34.2L146.4 33.9L149.6 33.6L152.8 33.3L156.0 33.1L159.2 32.9L162.4 32.6L165.6 32.4L168.8 32.2L172.0 32.1L175.3 31.9L178.5 31.7L181.7 31.5L184.9 31.4L188.1 31.2L191.3 31.1L194.5 30.9L197.7 30.8L200.9 30.7L204.1 30.7L207.3 30.6L210.5 30.5L213.8 30.5L217.0 30.4L220.2 30.4L223.4 30.3L226.6 30.3L229.8 30.3M40.5 38.7L43.7 38.7L46.9 38.7L50.1 38.8L53.3 38.8L56.5 38.8L59.8 38.9L63.0 38.9L66.2 38.9L69.4 38.9L72.6 38.9L75.8 38.9L79.0 38.9L82.2 38.9L85.4 38.9L88.6 38.9L91.8 38.9L95.0 38.9L98.3 38.9L101.5 38.7L104.7 38.5L107.9 38.3L111.1 38.0L114.3 37.8L117.5 37.7L120.7 37.6L123.9 37.7L127.1 37.7L130.3 37.8L133.5 37.8L136.8 37.9L140.0 38.1L143.2 38.2L146.4 38.4L149.6 39.0L152.8 39.8L156.0 40.8L159.2 41.7L162.4 42.6L165.6 43.4L168.8 44.2L172.0 45.1L175.3 46.3L178.5 47.7L181.7 49.2L184.9 50.9L188.1 52.4L191.3 53.7L194.5 55.0L197.7 56.2L200.9 57.4L204.1 58.6L207.3 59.5L210.5 60.3L213.8 60.8L217.0 61.3L220.2 61.7L223.4 62.1L226.6 62.3L229.8 62.4M40.5 36.2L43.7 36.2L46.9 36.3L50.1 36.4L53.3 36.6L56.5 36.8L59.8 37.0L63.0 37.2L66.2 37.3L69.4 37.5L72.6 37.7L75.8 37.9L79.0 38.1L82.2 38.4L85.4 38.6L88.6 38.7L91.8 38.8L95.0 38.9L98.3 38.8L101.5 38.6L104.7 38.3L107.9 37.9L111.1 37.6L114.3 37.3L117.5 37.1L120.7 37.0L123.9 37.0L127.1 37.1L130.3 37.1L133.5 37.1L136.8 37.2L140.0 37.3L143.2 37.4L146.4 37.6L149.6 38.1L152.8 39.0L156.0 40.0L159.2 41.0L162.4 42.0L165.6 43.0L168.8 44.1L172.0 45.2L175.3 46.1L178.5 47.0L181.7 47.8L184.9 48.5L188.1 49.2L191.3 49.7L194.5 50.2L197.7 50.7L200.9 51.2L204.1 51.6L207.3 51.9L210.5 52.2L213.8 52.4L217.0 52.5L220.2 52.7L223.4 52.8L226.6 52.9L229.8 53.0M40.5 32.4L43.7 32.5L46.9 32.8L50.1 33.2L53.3 33.7L56.5 34.3L59.8 35.0L63.0 35.6L66.2 36.5L69.4 37.5L72.6 38.7L75.8 39.9L79.0 41.1L82.2 42.2L85.4 43.1L88.6 43.9L91.8 44.6L95.0 45.1L98.3 45.5L101.5 45.9L104.7 46.3L107.9 46.6L111.1 46.9L114.3 47.1L117.5 47.3L120.7 47.6L123.9 47.8L127.1 48.0L130.3 48.2L133.5 48.4L136.8 48.6L140.0 48.7L143.2 48.8L146.4 48.7L149.6 48.6L152.8 48.4L156.0 48.1L159.2 47.7L162.4 47.3L165.6 46.8L168.8 46.3L172.0 45.8L175.3 45.3L178.5 44.7L181.7 43.9L184.9 43.0L188.1 42.2L191.3 41.5L194.5 41.0L197.7 40.6L200.9 40.3L204.1 40.0L207.3 39.7L210.5 39.5L213.8 39.3L217.0 39.1L220.2 38.9L223.4 38.8L226.6 38.7L229.8 38.7M40.5 30.3L43.7 30.4L46.9 30.8L50.1 31.3L53.3 31.9L56.5 32.6L59.8 33.4L63.0 34.2L66.2 35.1L69.4 36.3L72.6 37.7L75.8 39.1L79.0 40.5L82.2 41.7L85.4 42.7L88.6 43.5L91.8 44.3L95.0 45.0L98.3 46.0L101.5 47.2L104.7 48.5L107.9 49.8L111.1 50.9L114.3 51.8L117.5 52.4L120.7 52.5L123.9 52.5L127.1 52.5L130.3 52.4L133.5 52.4L136.8 52.3L140.0 52.2L143.2 52.2L146.4 52.0L149.6 51.7L152.8 51.2L156.0 50.5L159.2 49.7L162.4 48.8L165.6 47.8L168.8 46.9L172.0 46.0L175.3 45.1L178.5 44.1L181.7 42.9L184.9 41.7L188.1 40.6L191.3 39.6L194.5 38.9L197.7 38.5L200.9 38.1L204.1 37.7L207.3 37.4L210.5 37.1L213.8 36.8L217.0 36.6L220.2 36.4L223.4 36.3L226.6 36.2L229.8 36.2M40.5 29.0L43.7 29.1L46.9 29.2L50.1 29.3L53.3 29.5L56.5 29.7L59.8 29.9L63.0 30.1L66.2 30.2L69.4 30.4L72.6 30.5L75.8 30.7L79.0 30.8L82.2 31.0L85.4 31.1L88.6 31.2L91.8 31.3L95.0 31.4L98.3 31.3L101.5 31.2L104.7 31.1L107.9 30.9L111.1 30.7L114.3 30.5L117.5 30.3L120.7 30.0L123.9 29.7L127.1 29.3L130.3 28.9L133.5 28.4L136.8 28.1L140.0 27.8L143.2 27.6L146.4 27.6L149.6 27.9L152.8 28.3L156.0 28.9L159.2 29.6L162.4 30.2L165.6 30.8L168.8 31.3L172.0 31.5L175.3 31.5L178.5 31.2L181.7 30.7L184.9 30.1L188.1 29.4L191.3 28.7L194.5 28.1L197.7 27.5L200.9 27.2L204.1 27.0L207.3 26.9L210.5 26.8L213.8 26.6L217.0 26.5L220.2 26.4L223.4 26.4L226.6 26.3L229.8 26.3M40.5 29.0L43.7 29.1L46.9 29.1L50.1 29.2L53.3 29.2L56.5 29.3L59.8 29.4L63.0 29.5L66.2 29.6L69.4 29.7L72.6 29.8L75.8 30.0L79.0 30.1L82.2 30.2L85.4 30.4L88.6 30.6L91.8 30.7L95.0 30.9L98.3 31.1L101.5 31.4L104.7 31.7L107.9 32.0L111.1 32.2L114.3 32.4L117.5 32.6L120.7 32.6L123.9 32.5L127.1 32.3L130.3 32.1L133.5 31.9L136.8 31.7L140.0 31.5L143.2 31.4L146.4 31.4L149.6 31.4L152.8 31.6L156.0 31.7L159.2 31.9L162.4 32.1L165.6 32.2L168.8 32.3L172.0 32.4L175.3 32.4L178.5 32.2L181.7 31.8L184.9 31.3L188.1 30.8L191.3 30.3L194.5 29.9L197.7 29.5L200.9 29.3L204.1 29.2L207.3 29.1L210.5 29.0L213.8 29.0L217.0 28.9L220.2 28.9L223.4 28.9L226.6 28.8L229.8 28.8" fill="none" stroke="#000" stroke-width="1.1" stroke-linejoin="round"/>
<path d="M40.5 79.0L43.7 79.0L46.9 79.0L50.1 79.0L53.3 79.0L56.5 79.0L59.8 79.0L63.0 79.0L66.2 79.1L69.4 79.1L72.6 79.3L75.8 79.5L79.0 79.9L82.2 80.2L85.4 80.6L88.6 80.9L91.8 81.2L95.0 81.3L98.3 81.3L101.5 81.2L104.7 81.2L107.9 81.1L111.1 81.0L114.3 81.0L117.5 80.9L120.7 80.8L123.9 80.6L127.1 80.5L130.3 80.4L133.5 80.3L136.8 80.2L140.0 80.1L143.2 79.9L146.4 79.7L149.6 79.5L152.8 79.3L156.0 79.1L159.2 79.0L162.4 78.8L165.6 78.7L168.8 78.6L172.0 78.5L175.3 78.6L178.5 78.7L181.7 78.8L184.9 79.1L188.1 79.3L191.3 79.5L194.5 79.7L197.7 79.9L200.9 80.0L204.1 80.0L207.3 79.9L210.5 79.7L213.8 79.6L217.0 79.4L220.2 79.2L223.4 79.1L226.6 79.0L229.8 79.0M40.5 79.8L43.7 79.8L46.9 79.7L50.1 79.5L53.3 79.3L56.5 79.1L59.8 79.0L63.0 78.8L66.2 78.7L69.4 78.7L72.6 78.8L75.8 78.9L79.0 79.1L82.2 79.3L85.4 79.4L88.6 79.6L91.8 79.8L95.0 79.9L98.3 80.0L101.5 80.1L104.7 80.2L107.9 80.3L111.1 80.3L114.3 80.4L117.5 80.5L120.7 80.5L123.9 80.6L127.1 80.6L130.3 80.7L133.5 80.7L136.8 80.7L140.0 80.6L143.2 80.5L146.4 80.3L149.6 80.1L152.8 79.9L156.0 79.7L159.2 79.4L162.4 79.2L165.6 79.1L168.8 79.0L172.0 78.9L175.3 78.9L178.5 79.0L181.7 79.3L184.9 79.5L188.1 79.8L191.3 80.1L194.5 80.4L197.7 80.6L200.9 80.7L204.1 80.7L207.3 80.6L210.5 80.5L213.8 80.3L217.0 80.2L220.2 80.0L223.4 79.9L226.6 79.8L229.8 79.8M40.5 80.6L43.7 80.6L46.9 80.4L50.1 80.1L53.3 79.7L56.5 79.3L59.8 79.0L63.0 78.7L66.2 78.6L69.4 78.5L72.6 78.6L75.8 78.7L79.0 78.8L82.2 78.9L85.4 79.1L88.6 79.2L91.8 79.3L95.0 79.3L98.3 79.3L101.5 79.3L104.7 79.2L107.9 79.1L111.1 79.0L114.3 78.9L117.5 78.9L120.7 78.8L123.9 78.7L127.1 78.6L130.3 78.6L133.5 78.5L136.8 78.5L140.0 78.6L143.2 78.7L146.4 78.7L149.6 78.9L152.8 79.0L156.0 79.1L159.2 79.2L162.4 79.4L165.6 79.5L168.8 79.6L172.0 79.7L175.3 79.8L178.5 79.9L181.7 79.9L184.9 80.0L188.1 80.1L191.3 80.1L194.5 80.2L197.7 80.2L200.9 80.3L204.1 80.3L207.3 80.4L210.5 80.4L213.8 80.5L217.0 80.5L220.2 80.6L223.4 80.6L226.6 80.6L229.8 80.6M40.5 81.5L43.7 81.5L46.9 81.6L50.1 81.7L53.3 81.7L56.5 81.8L59.8 81.9L63.0 82.0L66.2 82.0L69.4 82.1L72.6 82.1L75.8 82.0L79.0 82.0L82.2 82.0L85.4 82.0L88.6 82.0L91.8 82.0L95.0 82.0L98.3 82.0L101.5 81.9L104.7 81.8L107.9 81.7L111.1 81.5L114.3 81.3L117.5 81.1L120.7 80.9L123.9 80.7L127.1 80.5L130.3 80.3L133.5 80.2L136.8 80.0L140.0 79.9L143.2 79.7L146.4 79.5L149.6 79.4L152.8 79.2L156.0 79.0L159.2 78.9L162.4 78.8L165.6 78.6L168.8 78.6L172.0 78.5L175.3 78.5L178.5 78.6L181.7 78.8L184.9 79.0L188.1 79.3L191.3 79.5L194.5 79.8L197.7 80.0L200.9 80.2L204.1 80.4L207.3 80.6L210.5 80.8L213.8 80.9L217.0 81.1L220.2 81.3L223.4 81.4L226.6 81.5L229.8 81.5M40.5 82.3L43.7 82.3L46.9 82.4L50.1 82.4L53.3 82.5L56.5 82.5L59.8 82.5L63.0 82.6L66.2 82.6L69.4 82.6L72.6 82.6L75.8 82.5L79.0 82.5L82.2 82.4L85.4 82.3L88.6 82.2L91.8 82.2L95.0 82.2L98.3 82.2L101.5 82.2L104.7 82.2L107.9 82.2L111.1 82.2L114.3 82.2L117.5 82.2L120.7 82.2L123.9 82.2L127.1 82.2L130.3 82.2L133.5 82.2L136.8 82.2L140.0 82.2L143.2 82.2L146.4 82.2L149.6 82.2L152.8 82.1L156.0 82.1L159.2 82.1L162.4 82.1L165.6 82.1L168.8 82.1L172.0 82.1L175.3 82.1L178.5 82.0L181.7 82.0L184.9 82.0L188.1 82.0L191.3 82.0L194.5 81.9L197.7 81.9L200.9 81.9L204.1 81.9L207.3 82.0L210.5 82.0L213.8 82.1L217.0 82.2L220.2 82.2L223.4 82.3L226.6 82.3L229.8 82.3M40.5 83.2L43.7 83.2L46.9 83.1L50.1 83.0L53.3 82.9L56.5 82.7L59.8 82.6L63.0 82.5L66.2 82.4L69.4 82.3L72.6 82.2L75.8 82.1L79.0 82.1L82.2 82.0L85.4 82.0L88.6 81.9L91.8 81.9L95.0 81.9L98.3 81.9L101.5 82.0L104.7 82.1L107.9 82.2L111.1 82.4L114.3 82.6L117.5 82.8L120.7 82.9L123.9 83.1L127.1 83.2L130.3 83.3L133.5 83.4L136.8 83.3L140.0 83.2L143.2 83.1L146.4 82.9L149.6 82.6L152.8 82.3L156.0 82.1L159.2 81.8L162.4 81.6L165.6 81.4L168.8 81.2L172.0 81.1L175.3 81.1L178.5 81.1L181.7 81.1L184.9 81.2L188.1 81.2L191.3 81.3L194.5 81.3L197.7 81.4L200.9 81.4L204.1 81.5L207.3 81.7L210.5 81.9L213.8 82.2L217.0 82.5L220.2 82.7L223.4 83.0L226.6 83.1L229.8 83.2M40.5 84.0L43.7 84.1L46.9 84.4L50.1 84.8L53.3 85.3L56.5 85.8L59.8 86.3L63.0 86.6L66.2 86.9L69.4 86.9L72.6 86.9L75.8 86.9L79.0 86.9L82.2 86.8L85.4 86.8L88.6 86.8L91.8 86.8L95.0 86.7L98.3 86.7L101.5 86.6L104.7 86.5L107.9 86.5L111.1 86.4L114.3 86.2L117.5 86.1L120.7 86.0L123.9 85.9L127.1 85.8L130.3 85.7L133.5 85.6L136.8 85.5L140.0 85.3L143.2 85.2L146.4 85.1L149.6 85.0L152.8 84.8L156.0 84.7L159.2 84.6L162.4 84.5L165.6 84.4L168.8 84.4L172.0 84.4L175.3 84.4L178.5 84.4L181.7 84.5L184.9 84.6L188.1 84.7L191.3 84.8L194.5 84.9L197.7 85.0L200.9 85.0L204.1 85.0L207.3 84.9L210.5 84.8L213.8 84.6L217.0 84.5L220.2 84.3L223.4 84.2L226.6 84.1L229.8 84.0M40.5 84.9L43.7 84.9L46.9 84.9L50.1 84.9L53.3 84.8L56.5 84.8L59.8 84.8L63.0 84.8L66.2 84.7L69.4 84.7L72.6 84.7L75.8 84.7L79.0 84.7L82.2 84.6L85.4 84.6L88.6 84.6L91.8 84.5L95.0 84.5L98.3 84.4L101.5 84.2L104.7 84.0L107.9 83.7L111.1 83.3L114.3 82.9L117.5 82.5L120.7 82.1L123.9 81.7L127.1 81.4L130.3 81.0L133.5 80.8L136.8 80.5L140.0 80.3L143.2 80.1L146.4 79.8L149.6 79.6L152.8 79.4L156.0 79.2L159.2 79.0L162.4 78.9L165.6 78.8L168.8 78.7L172.0 78.7L175.3 78.7L178.5 79.0L181.7 79.4L184.9 80.0L188.1 80.7L191.3 81.4L194.5 82.1L197.7 82.6L200.9 83.1L204.1 83.4L207.3 83.6L210.5 83.9L213.8 84.2L217.0 84.4L220.2 84.6L223.4 84.7L226.6 84.8L229.8 84.9M40.5 85.7L43.7 85.7L46.9 85.8L50.1 85.8L53.3 85.9L56.5 85.9L59.8 86.0L63.0 86.0L66.2 86.1L69.4 86.1L72.6 86.1L75.8 86.2L79.0 86.2L82.2 86.2L85.4 86.2L88.6 86.3L91.8 86.3L95.0 86.3L98.3 86.3L101.5 86.2L104.7 86.1L107.9 86.0L111.1 85.9L114.3 85.8L117.5 85.6L120.7 85.5L123.9 85.3L127.1 85.2L130.3 85.1L133.5 85.0L136.8 84.9L140.0 84.9L143.2 84.8L146.4 84.8L149.6 84.7L152.8 84.7L156.0 84.6L159.2 84.6L162.4 84.5L165.6 84.5L168.8 84.5L172.0 84.5L175.3 84.5L178.5 84.5L181.7 84.5L184.9 84.6L188.1 84.7L191.3 84.7L194.5 84.8L197.7 84.9L200.9 85.0L204.1 85.1L207.3 85.1L210.5 85.3L213.8 85.4L217.0 85.5L220.2 85.6L223.4 85.7L226.6 85.7L229.8 85.7M40.5 86.6L43.7 86.6L46.9 86.8L50.1 87.1L53.3 87.4L56.5 87.7L59.8 87.9L63.0 88.2L66.2 88.3L69.4 88.4L72.6 88.4L75.8 88.4L79.0 88.4L82.2 88.4L85.4 88.5L88.6 88.5L91.8 88.5L95.0 88.5L98.3 88.4L101.5 88.3L104.7 88.0L107.9 87.7L111.1 87.3L114.3 86.9L117.5 86.4L120.7 86.0L123.9 85.7L127.1 85.4L130.3 85.2L133.5 85.1L136.8 85.0L140.0 85.1L143.2 85.1L146.4 85.1L149.6 85.1L152.8 85.2L156.0 85.2L159.2 85.3L162.4 85.3L165.6 85.4L168.8 85.4L172.0 85.5L175.3 85.5L178.5 85.7L181.7 85.8L184.9 86.0L188.1 86.1L191.3 86.3L194.5 86.4L197.7 86.5L200.9 86.6L204.1 86.6L207.3 86.6L210.5 86.6L213.8 86.6L217.0 86.6L220.2 86.6L223.4 86.6L226.6 86.6L229.8 86.6M40.5 87.4L43.7 87.4L46.9 87.2L50.1 87.0L53.3 86.7L56.5 86.4L59.8 86.1L63.0 85.9L66.2 85.8L69.4 85.8L72.6 85.8L75.8 85.8L79.0 85.9L82.2 85.9L85.4 85.9L88.6 86.0L91.8 86.1L95.0 86.1L98.3 86.2L101.5 86.3L104.7 86.4L107.9 86.5L111.1 86.7L114.3 86.8L117.5 86.9L120.7 87.1L123.9 87.2L127.1 87.3L130.3 87.4L133.5 87.4L136.8 87.4L140.0 87.4L143.2 87.4L146.4 87.4L149.6 87.4L152.8 87.4L156.0 87.4L159.2 87.4L162.4 87.4L165.6 87.4L168.8 87.4L172.0 87.4L175.3 87.4L178.5 87.3L181.7 87.2L184.9 87.0L188.1 86.9L191.3 86.7L194.5 86.5L197.7 86.4L200.9 86.4L204.1 86.4L207.3 86.5L210.5 86.6L213.8 86.8L217.0 87.0L220.2 87.1L223.4 87.3L226.6 87.4L229.8 87.4M40.5 88.3L43.7 88.2L46.9 88.2L50.1 88.1L53.3 88.0L56.5 87.9L59.8 87.8L63.0 87.8L66.2 87.7L69.4 87.7L72.6 87.8L75.8 87.9L79.0 88.0L82.2 88.1L85.4 88.3L88.6 88.4L91.8 88.5L95.0 88.5L98.3 88.5L101.5 88.4L104.7 88.4L107.9 88.2L111.1 88.1L114.3 88.0L117.5 87.8L120.7 87.7L123.9 87.5L127.1 87.3L130.3 87.2L133.5 87.1L136.8 87.0L140.0 86.8L143.2 86.7L146.4 86.6L149.6 86.5L152.8 86.3L156.0 86.2L159.2 86.1L162.4 86.0L165.6 86.0L168.8 85.9L172.0 85.9L175.3 85.9L178.5 86.0L181.7 86.2L184.9 86.5L188.1 86.9L191.3 87.2L194.5 87.5L197.7 87.7L200.9 87.9L204.1 87.9L207.3 88.0L210.5 88.1L213.8 88.1L217.0 88.2L220.2 88.2L223.4 88.2L226.6 88.3L229.8 88.3M40.5 89.1L43.7 89.0L46.9 88.8L50.1 88.4L53.3 88.0L56.5 87.6L59.8 87.2L63.0 86.9L66.2 86.7L69.4 86.7L72.6 86.7L75.8 86.8L79.0 87.0L82.2 87.1L85.4 87.3L88.6 87.4L91.8 87.5L95.0 87.6L98.3 87.7L101.5 87.8L104.7 87.9L107.9 88.0L111.1 88.0L114.3 88.1L117.5 88.2L120.7 88.2L123.9 88.3L127.1 88.3L130.3 88.3L133.5 88.3L136.8 88.3L140.0 88.3L143.2 88.3L146.4 88.3L149.6 88.3L152.8 88.3L156.0 88.3L159.2 88.3L162.4 88.3L165.6 88.3L168.8 88.2L172.0 88.2L175.3 88.2L178.5 88.2L181.7 88.2L184.9 88.2L188.1 88.1L191.3 88.1L194.5 88.1L197.7 88.1L200.9 88.1L204.1 88.1L207.3 88.2L210.5 88.3L213.8 88.5L217.0 88.7L220.2 88.8L223.4 89.0L226.6 89.1L229.8 89.1M40.5 90.0L43.7 89.9L46.9 89.9L50.1 89.8L53.3 89.7L56.5 89.6L59.8 89.5L63.0 89.4L66.2 89.3L69.4 89.2L72.6 89.2L75.8 89.2L79.0 89.1L82.2 89.1L85.4 89.0L88.6 89.0L91.8 89.0L95.0 89.0L98.3 89.0L101.5 89.0L104.7 89.0L107.9 89.0L111.1 89.0L114.3 89.0L117.5 89.0L120.7 89.0L123.9 89.0L127.1 89.0L130.3 89.0L133.5 89.0L136.8 89.0L140.0 89.0L143.2 89.1L146.4 89.1L149.6 89.1L152.8 89.1L156.0 89.2L159.2 89.2L162.4 89.3L165.6 89.3L168.8 89.3L172.0 89.4L175.3 89.5L178.5 89.5L181.7 89.7L184.9 89.8L188.1 89.9L191.3 90.1L194.5 90.2L197.7 90.3L200.9 90.3L204.1 90.3L207.3 90.3L210.5 90.2L213.8 90.2L217.0 90.1L220.2 90.1L223.4 90.0L226.6 90.0L229.8 90.0M40.5 90.8L43.7 90.8L46.9 90.8L50.1 90.9L53.3 90.9L56.5 90.9L59.8 91.0L63.0 91.0L66.2 91.1L69.4 91.2L72.6 91.3L75.8 91.5L79.0 91.8L82.2 92.0L85.4 92.3L88.6 92.5L91.8 92.6L95.0 92.7L98.3 92.7L101.5 92.6L104.7 92.4L107.9 92.2L111.1 92.0L114.3 91.7L117.5 91.4L120.7 91.2L123.9 91.0L127.1 90.8L130.3 90.6L133.5 90.6L136.8 90.6L140.0 90.6L143.2 90.7L146.4 90.8L149.6 90.9L152.8 91.0L156.0 91.1L159.2 91.3L162.4 91.4L165.6 91.4L168.8 91.5L172.0 91.5L175.3 91.5L178.5 91.4L181.7 91.3L184.9 91.1L188.1 90.8L191.3 90.6L194.5 90.4L197.7 90.2L200.9 90.2L204.1 90.2L207.3 90.2L210.5 90.3L213.8 90.4L217.0 90.5L220.2 90.6L223.4 90.7L226.6 90.8L229.8 90.8M40.5 91.6L43.7 91.6L46.9 91.4L50.1 91.2L53.3 90.9L56.5 90.6L59.8 90.4L63.0 90.1L66.2 90.0L69.4 89.9L72.6 89.9L75.8 89.8L79.0 89.8L82.2 89.7L85.4 89.7L88.6 89.7L91.8 89.7L95.0 89.7L98.3 89.7L101.5 89.7L104.7 89.7L107.9 89.7L111.1 89.7L114.3 89.7L117.5 89.7L120.7 89.7L123.9 89.7L127.1 89.7L130.3 89.7L133.5 89.7L136.8 89.7L140.0 89.8L143.2 89.8L146.4 89.8L149.6 89.9L152.8 90.0L156.0 90.0L159.2 90.1L162.4 90.1L165.6 90.1L168.8 90.2L172.0 90.2L175.3 90.2L178.5 90.2L181.7 90.2L184.9 90.2L188.1 90.1L191.3 90.1L194.5 90.1L197.7 90.1L200.9 90.1L204.1 90.1L207.3 90.3L210.5 90.5L213.8 90.7L217.0 91.0L220.2 91.2L223.4 91.4L226.6 91.6L229.8 91.6M40.5 92.5L43.7 92.5L46.9 92.4L50.1 92.3L53.3 92.2L56.5 92.1L59.8 91.9L63.0 91.8L66.2 91.6L69.4 91.5L72.6 91.2L75.8 90.9L79.0 90.5L82.2 90.1L85.4 89.8L88.6 89.5L91.8 89.3L95.0 89.2L98.3 89.1L101.5 89.1L104.7 89.1L107.9 89.1L111.1 89.1L114.3 89.1L117.5 89.1L120.7 89.1L123.9 89.1L127.1 89.1L130.3 89.1L133.5 89.1L136.8 89.1L140.0 89.3L143.2 89.6L146.4 90.0L149.6 90.4L152.8 90.9L156.0 91.4L159.2 91.9L162.4 92.3L165.6 92.7L168.8 93.0L172.0 93.1L175.3 93.1L178.5 93.1L181.7 93.0L184.9 92.9L188.1 92.8L191.3 92.7L194.5 92.7L197.7 92.6L200.9 92.6L204.1 92.5L207.3 92.5L210.5 92.5L213.8 92.5L217.0 92.5L220.2 92.5L223.4 92.5L226.6 92.5L229.8 92.5M40.5 93.3L43.7 93.4L46.9 93.4L50.1 93.4L53.3 93.5L56.5 93.5L59.8 93.5L63.0 93.6L66.2 93.6L69.4 93.6L72.6 93.5L75.8 93.3L79.0 93.1L82.2 92.8L85.4 92.4L88.6 92.1L91.8 91.8L95.0 91.5L98.3 91.3L101.5 91.1L104.7 90.8L107.9 90.5L111.1 90.3L114.3 90.0L117.5 89.8L120.7 89.6L123.9 89.4L127.1 89.2L130.3 89.1L133.5 89.1L136.8 89.1L140.0 89.2L143.2 89.4L146.4 89.7L149.6 89.9L152.8 90.3L156.0 90.6L159.2 90.9L162.4 91.2L165.6 91.4L168.8 91.6L172.0 91.7L175.3 91.7L178.5 91.6L181.7 91.5L184.9 91.3L188.1 91.2L191.3 91.0L194.5 90.8L197.7 90.7L200.9 90.7L204.1 90.7L207.3 91.0L210.5 91.3L213.8 91.7L217.0 92.2L220.2 92.6L223.4 93.0L226.6 93.2L229.8 93.3M40.5 94.2L43.7 94.2L46.9 94.1L50.1 94.1L53.3 94.1L56.5 94.0L59.8 94.0L63.0 93.9L66.2 93.9L69.4 93.9L72.6 93.9L75.8 93.9L79.0 93.9L82.2 93.9L85.4 93.9L88.6 93.9L91.8 93.9L95.0 93.9L98.3 93.9L101.5 93.9L104.7 93.9L107.9 93.9L111.1 94.0L114.3 94.0L117.5 94.1L120.7 94.1L123.9 94.2L127.1 94.2L130.3 94.2L133.5 94.2L136.8 94.2L140.0 94.2L143.2 94.0L146.4 93.9L149.6 93.7L152.8 93.6L156.0 93.4L159.2 93.2L162.4 93.1L165.6 92.9L168.8 92.8L172.0 92.8L175.3 92.8L178.5 92.8L181.7 92.9L184.9 93.0L188.1 93.1L191.3 93.2L194.5 93.4L197.7 93.5L200.9 93.6L204.1 93.7L207.3 93.7L210.5 93.8L213.8 93.9L217.0 94.0L220.2 94.1L223.4 94.1L226.6 94.2L229.8 94.2M40.5 95.0L43.7 95.0L46.9 94.9L50.1 94.7L53.3 94.5L56.5 94.4L59.8 94.2L63.0 94.0L66.2 94.0L69.4 93.9L72.6 94.0L75.8 94.0L79.0 94.1L82.2 94.1L85.4 94.2L88.6 94.3L91.8 94.3L95.0 94.3L98.3 94.3L101.5 94.3L104.7 94.3L107.9 94.2L111.1 94.1L114.3 94.1L117.5 94.0L120.7 93.9L123.9 93.8L127.1 93.7L130.3 93.7L133.5 93.6L136.8 93.5L140.0 93.5L143.2 93.4L146.4 93.4L149.6 93.3L152.8 93.2L156.0 93.2L159.2 93.1L162.4 93.1L165.6 93.0L168.8 93.0L172.0 92.9L175.3 92.9L178.5 92.9L181.7 92.8L184.9 92.7L188.1 92.7L191.3 92.6L194.5 92.6L197.7 92.6L200.9 92.6L204.1 92.6L207.3 92.8L210.5 93.2L213.8 93.5L217.0 94.0L220.2 94.4L223.4 94.7L226.6 94.9L229.8 95.0M40.5 95.9L43.7 95.9L46.9 95.8L50.1 95.8L53.3 95.7L56.5 95.6L59.8 95.5L63.0 95.5L66.2 95.4L69.4 95.5L72.6 95.6L75.8 95.8L79.0 96.1L82.2 96.4L85.4 96.7L88.6 97.0L91.8 97.2L95.0 97.3L98.3 97.3L101.5 97.3L104.7 97.2L107.9 97.1L111.1 97.0L114.3 96.9L117.5 96.8L120.7 96.7L123.9 96.6L127.1 96.4L130.3 96.3L133.5 96.2L136.8 96.1L140.0 95.9L143.2 95.7L146.4 95.6L149.6 95.4L152.8 95.2L156.0 95.0L159.2 94.8L162.4 94.7L165.6 94.5L168.8 94.4L172.0 94.4L175.3 94.4L178.5 94.6L181.7 94.9L184.9 95.3L188.1 95.8L191.3 96.2L194.5 96.6L197.7 96.9L200.9 97.0L204.1 97.0L207.3 96.9L210.5 96.7L213.8 96.6L217.0 96.4L220.2 96.2L223.4 96.0L226.6 95.9L229.8 95.9M40.5 96.7L43.7 96.7L46.9 96.7L50.1 96.8L53.3 96.8L56.5 96.8L59.8 96.9L63.0 96.9L66.2 97.0L69.4 97.1L72.6 97.2L75.8 97.4L79.0 97.6L82.2 97.8L85.4 98.0L88.6 98.2L91.8 98.4L95.0 98.4L98.3 98.4L101.5 98.3L104.7 98.1L107.9 97.8L111.1 97.5L114.3 97.2L117.5 96.8L120.7 96.5L123.9 96.2L127.1 96.0L130.3 95.8L133.5 95.8L136.8 95.8L140.0 95.8L143.2 95.8L146.4 95.8L149.6 95.8L152.8 95.9L156.0 95.9L159.2 96.0L162.4 96.1L165.6 96.1L168.8 96.2L172.0 96.2L175.3 96.3L178.5 96.5L181.7 96.6L184.9 96.8L188.1 97.0L191.3 97.2L194.5 97.4L197.7 97.5L200.9 97.5L204.1 97.5L207.3 97.5L210.5 97.4L213.8 97.2L217.0 97.1L220.2 96.9L223.4 96.8L226.6 96.8L229.8 96.7M40.5 97.6L43.7 97.6L46.9 97.6L50.1 97.6L53.3 97.6L56.5 97.7L59.8 97.7L63.0 97.7L66.2 97.7L69.4 97.7L72.6 97.7L75.8 97.7L79.0 97.7L82.2 97.6L85.4 97.6L88.6 97.6L91.8 97.6L95.0 97.6L98.3 97.6L101.5 97.7L104.7 97.8L107.9 98.0L111.1 98.2L114.3 98.4L117.5 98.7L120.7 98.9L123.9 99.1L127.1 99.2L130.3 99.4L133.5 99.4L136.8 99.4L140.0 99.3L143.2 99.1L146.4 98.8L149.6 98.4L152.8 98.1L156.0 97.7L159.2 97.4L162.4 97.0L165.6 96.7L168.8 96.5L172.0 96.4L175.3 96.3L178.5 96.3L181.7 96.2L184.9 96.2L188.1 96.2L191.3 96.2L194.5 96.1L197.7 96.1L200.9 96.1L204.1 96.2L207.3 96.3L210.5 96.5L213.8 96.7L217.0 96.9L220.2 97.2L223.4 97.4L226.6 97.5L229.8 97.6M40.5 98.4L43.7 98.4L46.9 98.3L50.1 98.2L53.3 98.1L56.5 97.9L59.8 97.7L63.0 97.5L66.2 97.3L69.4 97.1L72.6 96.8L75.8 96.3L79.0 95.8L82.2 95.3L85.4 94.9L88.6 94.5L91.8 94.2L95.0 94.1L98.3 94.1L101.5 94.1L104.7 94.2L107.9 94.4L111.1 94.5L114.3 94.7L117.5 94.9L120.7 95.1L123.9 95.3L127.1 95.4L130.3 95.6L133.5 95.7L136.8 95.8L140.0 95.9L143.2 95.9L146.4 96.0L149.6 96.1L152.8 96.1L156.0 96.2L159.2 96.2L162.4 96.3L165.6 96.4L168.8 96.4L172.0 96.5L175.3 96.6L178.5 96.6L181.7 96.7L184.9 96.8L188.1 96.9L191.3 96.9L194.5 97.0L197.7 97.1L200.9 97.2L204.1 97.3L207.3 97.5L210.5 97.7L213.8 97.8L217.0 98.0L220.2 98.2L223.4 98.3L226.6 98.4L229.8 98.4M40.5 99.3L43.7 99.2L46.9 99.0L50.1 98.8L53.3 98.4L56.5 98.1L59.8 97.7L63.0 97.3L66.2 97.0L69.4 96.7L72.6 96.4L75.8 96.0L79.0 95.7L82.2 95.4L85.4 95.1L88.6 94.8L91.8 94.6L95.0 94.6L98.3 94.6L101.5 94.6L104.7 94.6L107.9 94.6L111.1 94.6L114.3 94.6L117.5 94.6L120.7 94.6L123.9 94.6L127.1 94.7L130.3 94.7L133.5 94.7L136.8 94.8L140.0 94.9L143.2 95.1L146.4 95.4L149.6 95.8L152.8 96.1L156.0 96.5L159.2 96.9L162.4 97.2L165.6 97.6L168.8 97.8L172.0 98.0L175.3 98.2L178.5 98.3L181.7 98.4L184.9 98.4L188.1 98.5L191.3 98.6L194.5 98.6L197.7 98.7L200.9 98.8L204.1 98.8L207.3 98.9L210.5 99.0L213.8 99.0L217.0 99.1L220.2 99.2L223.4 99.2L226.6 99.3L229.8 99.3M40.5 100.1L43.7 100.1L46.9 100.0L50.1 99.9L53.3 99.7L56.5 99.6L59.8 99.4L63.0 99.2L66.2 99.0L69.4 98.8L72.6 98.5L75.8 98.2L79.0 97.8L82.2 97.5L85.4 97.2L88.6 96.9L91.8 96.7L95.0 96.6L98.3 96.6L101.5 96.7L104.7 96.7L107.9 96.8L111.1 97.0L114.3 97.1L117.5 97.3L120.7 97.5L123.9 97.6L127.1 97.8L130.3 98.0L133.5 98.2L136.8 98.4L140.0 98.6L143.2 98.9L146.4 99.3L149.6 99.6L152.8 100.0L156.0 100.3L159.2 100.6L162.4 100.9L165.6 101.1L168.8 101.3L172.0 101.4L175.3 101.4L178.5 101.2L181.7 101.0L184.9 100.6L188.1 100.3L191.3 99.9L194.5 99.6L197.7 99.4L200.9 99.3L204.1 99.3L207.3 99.4L210.5 99.5L213.8 99.6L217.0 99.8L220.2 99.9L223.4 100.0L226.6 100.1L229.8 100.1M40.5 101.0L43.7 101.0L46.9 101.1L50.1 101.3L53.3 101.5L56.5 101.8L59.8 102.0L63.0 102.1L66.2 102.2L69.4 102.2L72.6 102.1L75.8 101.7L79.0 101.4L82.2 100.9L85.4 100.5L88.6 100.1L91.8 99.9L95.0 99.7L98.3 99.7L101.5 99.8L104.7 99.9L107.9 100.0L111.1 100.1L114.3 100.2L117.5 100.4L120.7 100.5L123.9 100.6L127.1 100.7L130.3 100.8L133.5 100.8L136.8 100.8L140.0 100.8L143.2 100.7L146.4 100.7L149.6 100.7L152.8 100.6L156.0 100.6L159.2 100.5L162.4 100.5L165.6 100.4L168.8 100.4L172.0 100.4L175.3 100.4L178.5 100.5L181.7 100.6L184.9 100.7L188.1 100.9L191.3 101.0L194.5 101.2L197.7 101.3L200.9 101.3L204.1 101.3L207.3 101.3L210.5 101.2L213.8 101.2L217.0 101.1L220.2 101.1L223.4 101.0L226.6 101.0L229.8 101.0M40.5 101.8L43.7 101.8L46.9 101.9L50.1 102.0L53.3 102.2L56.5 102.3L59.8 102.4L63.0 102.5L66.2 102.6L69.4 102.7L72.6 102.7L75.8 102.7L79.0 102.7L82.2 102.8L85.4 102.8L88.6 102.8L91.8 102.8L95.0 102.8L98.3 102.8L101.5 102.7L104.7 102.6L107.9 102.4L111.1 102.2L114.3 102.0L117.5 101.8L120.7 101.5L123.9 101.3L127.1 101.2L130.3 101.0L133.5 101.0L136.8 100.9L140.0 100.9L143.2 100.8L146.4 100.8L149.6 100.8L152.8 100.8L156.0 100.8L159.2 100.7L162.4 100.7L165.6 100.7L168.8 100.7L172.0 100.7L175.3 100.7L178.5 100.7L181.7 100.8L184.9 100.8L188.1 100.9L191.3 100.9L194.5 101.0L197.7 101.1L200.9 101.2L204.1 101.2L207.3 101.3L210.5 101.4L213.8 101.5L217.0 101.6L220.2 101.7L223.4 101.7L226.6 101.8L229.8 101.8M40.5 102.7L43.7 102.6L46.9 102.6L50.1 102.6L53.3 102.6L56.5 102.6L59.8 102.5L63.0 102.5L66.2 102.5L69.4 102.5L72.6 102.6L75.8 102.7L79.0 102.8L82.2 102.9L85.4 103.0L88.6 103.2L91.8 103.2L95.0 103.3L98.3 103.3L101.5 103.2L104.7 103.1L107.9 103.0L111.1 102.8L114.3 102.7L117.5 102.5L120.7 102.3L123.9 102.2L127.1 102.1L130.3 102.0L133.5 102.0L136.8 102.0L140.0 102.0L143.2 102.0L146.4 102.0L149.6 102.1L152.8 102.1L156.0 102.1L159.2 102.2L162.4 102.2L165.6 102.3L168.8 102.4L172.0 102.4L175.3 102.5L178.5 102.5L181.7 102.6L184.9 102.7L188.1 102.8L191.3 102.9L194.5 103.0L197.7 103.0L200.9 103.0L204.1 103.0L207.3 103.0L210.5 102.9L213.8 102.9L217.0 102.8L220.2 102.8L223.4 102.7L226.6 102.7L229.8 102.7M40.5 103.3L43.7 103.2L46.9 103.0L50.1 102.8L53.3 102.5L56.5 102.2L59.8 101.9L63.0 101.7L66.2 101.5L69.4 101.5L72.6 101.7L75.8 101.9L79.0 102.3L82.2 102.7L85.4 103.1L88.6 103.4L91.8 103.7L95.0 103.8L98.3 103.8L101.5 103.7L104.7 103.7L107.9 103.6L111.1 103.5L114.3 103.5L117.5 103.4L120.7 103.3L123.9 103.2L127.1 103.2L130.3 103.1L133.5 103.1L136.8 103.2L140.0 103.3L143.2 103.5L146.4 103.8L149.6 104.1L152.8 104.5L156.0 104.9L159.2 105.2L162.4 105.5L165.6 105.8L168.8 106.0L172.0 106.1L175.3 106.1L178.5 106.1L181.7 106.0L184.9 105.8L188.1 105.7L191.3 105.5L194.5 105.3L197.7 105.1L200.9 105.0L204.1 104.8L207.3 104.6L210.5 104.3L213.8 104.1L217.0 103.8L220.2 103.6L223.4 103.4L226.6 103.3L229.8 103.3M40.5 104.3L43.7 104.3L46.9 104.4L50.1 104.4L53.3 104.4L56.5 104.5L59.8 104.5L63.0 104.6L66.2 104.6L69.4 104.7L72.6 104.7L75.8 104.8L79.0 104.9L82.2 105.0L85.4 105.1L88.6 105.2L91.8 105.3L95.0 105.3L98.3 105.4L101.5 105.4L104.7 105.5L107.9 105.5L111.1 105.6L114.3 105.6L117.5 105.6L120.7 105.7L123.9 105.7L127.1 105.8L130.3 105.8L133.5 105.9L136.8 105.9L140.0 106.0L143.2 106.1L146.4 106.2L149.6 106.3L152.8 106.5L156.0 106.6L159.2 106.7L162.4 106.8L165.6 106.8L168.8 106.9L172.0 106.9L175.3 106.9L178.5 106.6L181.7 106.1L184.9 105.5L188.1 104.8L191.3 104.1L194.5 103.5L197.7 103.1L200.9 102.9L204.1 102.9L207.3 103.0L210.5 103.2L213.8 103.5L217.0 103.7L220.2 103.9L223.4 104.2L226.6 104.3L229.8 104.3M40.5 105.4L43.7 105.5L46.9 105.8L50.1 106.2L53.3 106.7L56.5 107.2L59.8 107.6L63.0 108.0L66.2 108.2L69.4 108.2L72.6 108.0L75.8 107.6L79.0 107.1L82.2 106.6L85.4 106.0L88.6 105.5L91.8 105.1L95.0 104.9L98.3 104.8L101.5 104.7L104.7 104.6L107.9 104.5L111.1 104.5L114.3 104.4L117.5 104.3L120.7 104.3L123.9 104.2L127.1 104.2L130.3 104.2L133.5 104.2L136.8 104.2L140.0 104.3L143.2 104.5L146.4 104.8L149.6 105.1L152.8 105.5L156.0 105.8L159.2 106.2L162.4 106.5L165.6 106.7L168.8 106.9L172.0 107.0L175.3 107.0L178.5 107.0L181.7 106.9L184.9 106.7L188.1 106.6L191.3 106.4L194.5 106.3L197.7 106.1L200.9 106.0L204.1 105.9L207.3 105.8L210.5 105.7L213.8 105.6L217.0 105.6L220.2 105.5L223.4 105.5L226.6 105.4L229.8 105.4M40.5 106.5L43.7 106.6L46.9 107.0L50.1 107.5L53.3 108.1L56.5 108.8L59.8 109.4L63.0 109.8L66.2 110.1L69.4 110.2L72.6 110.2L75.8 110.1L79.0 110.1L82.2 110.1L85.4 110.0L88.6 110.0L91.8 109.9L95.0 109.9L98.3 109.7L101.5 109.4L104.7 108.9L107.9 108.2L111.1 107.5L114.3 106.8L117.5 106.0L120.7 105.3L123.9 104.7L127.1 104.2L130.3 103.8L133.5 103.6L136.8 103.6L140.0 103.7L143.2 103.9L146.4 104.1L149.6 104.4L152.8 104.7L156.0 105.0L159.2 105.3L162.4 105.6L165.6 105.8L168.8 106.0L172.0 106.1L175.3 106.1L178.5 106.0L181.7 105.8L184.9 105.7L188.1 105.4L191.3 105.2L194.5 105.1L197.7 104.9L200.9 104.9L204.1 104.9L207.3 105.0L210.5 105.2L213.8 105.5L217.0 105.8L220.2 106.0L223.4 106.3L226.6 106.4L229.8 106.5M40.5 107.5L43.7 107.6L46.9 107.8L50.1 108.1L53.3 108.5L56.5 108.8L59.8 109.2L63.0 109.4L66.2 109.6L69.4 109.6L72.6 109.4L75.8 109.0L79.0 108.5L82.2 107.9L85.4 107.3L88.6 106.9L91.8 106.5L95.0 106.3L98.3 106.3L101.5 106.4L104.7 106.4L107.9 106.5L111.1 106.6L114.3 106.7L117.5 106.8L120.7 106.9L123.9 107.0L127.1 107.1L130.3 107.2L133.5 107.3L136.8 107.3L140.0 107.4L143.2 107.4L146.4 107.5L149.6 107.5L152.8 107.5L156.0 107.6L159.2 107.6L162.4 107.7L165.6 107.7L168.8 107.8L172.0 107.9L175.3 108.0L178.5 108.1L181.7 108.4L184.9 108.6L188.1 108.9L191.3 109.2L194.5 109.4L197.7 109.6L200.9 109.7L204.1 109.6L207.3 109.4L210.5 109.2L213.8 108.8L217.0 108.5L220.2 108.1L223.4 107.8L226.6 107.6L229.8 107.5M40.5 108.6L43.7 108.6L46.9 108.7L50.1 108.7L53.3 108.8L56.5 108.9L59.8 109.0L63.0 109.1L66.2 109.1L69.4 109.1L72.6 109.0L75.8 108.8L79.0 108.5L82.2 108.2L85.4 107.9L88.6 107.6L91.8 107.4L95.0 107.3L98.3 107.4L101.5 107.4L104.7 107.4L107.9 107.5L111.1 107.6L114.3 107.7L117.5 107.8L120.7 108.0L123.9 108.1L127.1 108.3L130.3 108.5L133.5 108.6L136.8 108.8L140.0 109.1L143.2 109.5L146.4 109.9L149.6 110.4L152.8 110.9L156.0 111.4L159.2 111.9L162.4 112.3L165.6 112.7L168.8 112.9L172.0 113.1L175.3 113.0L178.5 112.7L181.7 112.2L184.9 111.6L188.1 110.8L191.3 110.1L194.5 109.5L197.7 109.0L200.9 108.8L204.1 108.7L207.3 108.7L210.5 108.7L213.8 108.7L217.0 108.6L220.2 108.6L223.4 108.6L226.6 108.6L229.8 108.6M40.5 109.7L43.7 109.7L46.9 109.7L50.1 109.7L53.3 109.7L56.5 109.7L59.8 109.7L63.0 109.7L66.2 109.8L69.4 109.8L72.6 110.0L75.8 110.3L79.0 110.6L82.2 111.0L85.4 111.4L88.6 111.8L91.8 112.0L95.0 112.1L98.3 112.1L101.5 112.1L104.7 112.0L107.9 112.0L111.1 111.9L114.3 111.8L117.5 111.7L120.7 111.6L123.9 111.6L127.1 111.5L130.3 111.5L133.5 111.4L136.8 111.4L140.0 111.5L143.2 111.6L146.4 111.7L149.6 111.9L152.8 112.1L156.0 112.3L159.2 112.4L162.4 112.6L165.6 112.7L168.8 112.8L172.0 112.9L175.3 112.9L178.5 112.9L181.7 112.8L184.9 112.8L188.1 112.8L191.3 112.7L194.5 112.7L197.7 112.6L200.9 112.5L204.1 112.4L207.3 112.1L210.5 111.7L213.8 111.3L217.0 110.8L220.2 110.4L223.4 110.0L226.6 109.7L229.8 109.7M40.5 110.7L43.7 110.8L46.9 111.0L50.1 111.3L53.3 111.7L56.5 112.1L59.8 112.5L63.0 112.7L66.2 112.9L69.4 112.9L72.6 112.9L75.8 112.8L79.0 112.7L82.2 112.5L85.4 112.4L88.6 112.3L91.8 112.2L95.0 112.2L98.3 112.2L101.5 112.2L104.7 112.3L107.9 112.4L111.1 112.5L114.3 112.6L117.5 112.7L120.7 112.8L123.9 112.9L127.1 112.9L130.3 113.0L133.5 113.0L136.8 113.0L140.0 113.0L143.2 113.0L146.4 112.9L149.6 112.9L152.8 112.8L156.0 112.7L159.2 112.6L162.4 112.5L165.6 112.4L168.8 112.3L172.0 112.2L175.3 112.1L178.5 111.9L181.7 111.6L184.9 111.2L188.1 110.8L191.3 110.5L194.5 110.2L197.7 110.0L200.9 109.9L204.1 109.9L207.3 110.0L210.5 110.1L213.8 110.2L217.0 110.3L220.2 110.5L223.4 110.6L226.6 110.7L229.8 110.7M40.5 111.8L43.7 111.8L46.9 111.7L50.1 111.7L53.3 111.6L56.5 111.5L59.8 111.4L63.0 111.3L66.2 111.2L69.4 111.1L72.6 111.0L75.8 111.0L79.0 110.9L82.2 110.8L85.4 110.7L88.6 110.6L91.8 110.5L95.0 110.4L98.3 110.3L101.5 110.2L104.7 110.1L107.9 110.0L111.1 109.9L114.3 109.8L117.5 109.6L120.7 109.5L123.9 109.4L127.1 109.3L130.3 109.2L133.5 109.1L136.8 109.0L140.0 108.8L143.2 108.7L146.4 108.5L149.6 108.3L152.8 108.2L156.0 108.0L159.2 107.8L162.4 107.7L165.6 107.6L168.8 107.5L172.0 107.5L175.3 107.5L178.5 107.7L181.7 108.1L184.9 108.5L188.1 109.1L191.3 109.6L194.5 110.1L197.7 110.5L200.9 110.8L204.1 111.0L207.3 111.1L210.5 111.3L213.8 111.4L217.0 111.5L220.2 111.6L223.4 111.7L226.6 111.8L229.8 111.8M40.5 112.8L43.7 112.9L46.9 113.2L50.1 113.5L53.3 113.9L56.5 114.3L59.8 114.7L63.0 115.0L66.2 115.2L69.4 115.2L72.6 115.1L75.8 114.8L79.0 114.5L82.2 114.1L85.4 113.8L88.6 113.4L91.8 113.2L95.0 113.1L98.3 113.1L101.5 113.1L104.7 113.1L107.9 113.1L111.1 113.2L114.3 113.2L117.5 113.2L120.7 113.3L123.9 113.3L127.1 113.4L130.3 113.4L133.5 113.5L136.8 113.5L140.0 113.6L143.2 113.8L146.4 114.0L149.6 114.3L152.8 114.5L156.0 114.8L159.2 115.0L162.4 115.2L165.6 115.4L168.8 115.5L172.0 115.6L175.3 115.6L178.5 115.3L181.7 114.9L184.9 114.5L188.1 113.9L191.3 113.4L194.5 112.9L197.7 112.6L200.9 112.4L204.1 112.4L207.3 112.5L210.5 112.5L213.8 112.6L217.0 112.7L220.2 112.7L223.4 112.8L226.6 112.8L229.8 112.8M40.5 113.9L43.7 113.9L46.9 113.8L50.1 113.6L53.3 113.5L56.5 113.3L59.8 113.1L63.0 112.9L66.2 112.8L69.4 112.7L72.6 112.6L75.8 112.5L79.0 112.4L82.2 112.3L85.4 112.3L88.6 112.2L91.8 112.2L95.0 112.1L98.3 112.2L101.5 112.2L104.7 112.2L107.9 112.2L111.1 112.3L114.3 112.3L117.5 112.4L120.7 112.4L123.9 112.5L127.1 112.5L130.3 112.5L133.5 112.5L136.8 112.5L140.0 112.5L143.2 112.4L146.4 112.2L149.6 112.1L152.8 111.9L156.0 111.7L159.2 111.5L162.4 111.4L165.6 111.3L168.8 111.2L172.0 111.1L175.3 111.1L178.5 111.2L181.7 111.3L184.9 111.4L188.1 111.6L191.3 111.8L194.5 112.0L197.7 112.2L200.9 112.4L204.1 112.5L207.3 112.7L210.5 113.0L213.8 113.2L217.0 113.4L220.2 113.6L223.4 113.8L226.6 113.9L229.8 113.9M40.5 115.0L43.7 115.1L46.9 115.3L50.1 115.7L53.3 116.1L56.5 116.5L59.8 116.9L63.0 117.3L66.2 117.5L69.4 117.5L72.6 117.4L75.8 117.2L79.0 116.9L82.2 116.6L85.4 116.3L88.6 116.0L91.8 115.8L95.0 115.8L98.3 115.8L101.5 115.9L104.7 116.1L107.9 116.4L111.1 116.7L114.3 117.0L117.5 117.3L120.7 117.6L123.9 117.9L127.1 118.1L130.3 118.3L133.5 118.4L136.8 118.4L140.0 118.4L143.2 118.3L146.4 118.2L149.6 118.1L152.8 118.0L156.0 117.9L159.2 117.8L162.4 117.7L165.6 117.6L168.8 117.5L172.0 117.3L175.3 117.2L178.5 117.1L181.7 117.0L184.9 116.9L188.1 116.7L191.3 116.6L194.5 116.4L197.7 116.3L200.9 116.2L204.1 116.0L207.3 115.9L210.5 115.7L213.8 115.5L217.0 115.3L220.2 115.2L223.4 115.1L226.6 115.0L229.8 115.0M40.5 116.0L43.7 116.0L46.9 115.8L50.1 115.5L53.3 115.2L56.5 114.8L59.8 114.5L63.0 114.2L66.2 114.1L69.4 114.1L72.6 114.2L75.8 114.4L79.0 114.6L82.2 114.9L85.4 115.1L88.6 115.4L91.8 115.6L95.0 115.7L98.3 115.8L101.5 115.8L104.7 115.9L107.9 115.9L111.1 115.9L114.3 115.9L117.5 116.0L120.7 116.0L123.9 116.0L127.1 116.1L130.3 116.1L133.5 116.1L136.8 116.2L140.0 116.2L143.2 116.3L146.4 116.4L149.6 116.5L152.8 116.6L156.0 116.7L159.2 116.8L162.4 116.9L165.6 117.0L168.8 117.0L172.0 117.0L175.3 117.0L178.5 116.9L181.7 116.8L184.9 116.6L188.1 116.4L191.3 116.2L194.5 116.0L197.7 115.9L200.9 115.8L204.1 115.8L207.3 115.8L210.5 115.8L213.8 115.9L217.0 115.9L220.2 116.0L223.4 116.0L226.6 116.0L229.8 116.0M40.5 117.1L43.7 117.1L46.9 117.3L50.1 117.4L53.3 117.6L56.5 117.8L59.8 118.0L63.0 118.2L66.2 118.3L69.4 118.3L72.6 118.0L75.8 117.6L79.0 117.0L82.2 116.3L85.4 115.7L88.6 115.1L91.8 114.7L95.0 114.5L98.3 114.5L101.5 114.6L104.7 114.6L107.9 114.7L111.1 114.8L114.3 114.9L117.5 115.0L120.7 115.1L123.9 115.3L127.1 115.4L130.3 115.5L133.5 115.7L136.8 115.8L140.0 116.1L143.2 116.3L146.4 116.7L149.6 117.0L152.8 117.3L156.0 117.7L159.2 118.0L162.4 118.3L165.6 118.5L168.8 118.7L172.0 118.8L175.3 118.8L178.5 118.8L181.7 118.8L184.9 118.8L188.1 118.8L191.3 118.8L194.5 118.8L197.7 118.8L200.9 118.8L204.1 118.8L207.3 118.6L210.5 118.4L213.8 118.1L217.0 117.8L220.2 117.6L223.4 117.3L226.6 117.2L229.8 117.1M40.5 118.2L43.7 118.1L46.9 117.8L50.1 117.4L53.3 117.0L56.5 116.5L59.8 116.1L63.0 115.8L66.2 115.6L69.4 115.5L72.6 115.5L75.8 115.5L79.0 115.4L82.2 115.4L85.4 115.4L88.6 115.4L91.8 115.4L95.0 115.4L98.3 115.4L101.5 115.4L104.7 115.4L107.9 115.4L111.1 115.4L114.3 115.4L117.5 115.4L120.7 115.4L123.9 115.4L127.1 115.4L130.3 115.5L133.5 115.5L136.8 115.5L140.0 115.5L143.2 115.6L146.4 115.7L149.6 115.9L152.8 116.1L156.0 116.2L159.2 116.5L162.4 116.7L165.6 116.9L168.8 117.1L172.0 117.3L175.3 117.6L178.5 117.9L181.7 118.3L184.9 118.8L188.1 119.3L191.3 119.7L194.5 120.0L197.7 120.3L200.9 120.4L204.1 120.4L207.3 120.2L210.5 119.9L213.8 119.5L217.0 119.1L220.2 118.8L223.4 118.5L226.6 118.2L229.8 118.2M40.5 119.2L43.7 119.2L46.9 119.2L50.1 119.3L53.3 119.3L56.5 119.3L59.8 119.4L63.0 119.4L66.2 119.4L69.4 119.4L72.6 119.3L75.8 119.1L79.0 118.8L82.2 118.5L85.4 118.2L88.6 118.0L91.8 117.8L95.0 117.7L98.3 117.7L101.5 117.8L104.7 117.9L107.9 118.1L111.1 118.3L114.3 118.5L117.5 118.7L120.7 119.0L123.9 119.2L127.1 119.4L130.3 119.5L133.5 119.7L136.8 119.8L140.0 119.9L143.2 120.0L146.4 120.1L149.6 120.2L152.8 120.3L156.0 120.4L159.2 120.5L162.4 120.5L165.6 120.6L168.8 120.6L172.0 120.6L175.3 120.6L178.5 120.5L181.7 120.3L184.9 120.0L188.1 119.7L191.3 119.5L194.5 119.2L197.7 119.0L200.9 119.0L204.1 119.0L207.3 119.0L210.5 119.0L213.8 119.1L217.0 119.1L220.2 119.1L223.4 119.2L226.6 119.2L229.8 119.2M40.5 120.5L43.7 120.5L46.9 120.6L50.1 120.7L53.3 120.9L56.5 121.1L59.8 121.4L63.0 121.6L66.2 121.9L69.4 122.2L72.6 122.6L75.8 123.1L79.0 123.7L82.2 124.3L85.4 125.0L88.6 125.6L91.8 126.2L95.0 126.8L98.3 127.3L101.5 127.9L104.7 128.5L107.9 129.1L111.1 129.7L114.3 130.3L117.5 130.9L120.7 131.3L123.9 131.8L127.1 132.1L130.3 132.3L133.5 132.4L136.8 132.4L140.0 132.2L143.2 131.9L146.4 131.5L149.6 131.0L152.8 130.4L156.0 129.8L159.2 129.1L162.4 128.5L165.6 127.9L168.8 127.4L172.0 126.9L175.3 126.5L178.5 126.2L181.7 125.9L184.9 125.6L188.1 125.3L191.3 125.0L194.5 124.7L197.7 124.4L200.9 124.0L204.1 123.7L207.3 123.2L210.5 122.7L213.8 122.1L217.0 121.6L220.2 121.2L223.4 120.8L226.6 120.6L229.8 120.5M40.5 122.7L43.7 122.8L46.9 123.2L50.1 123.8L53.3 124.5L56.5 125.3L59.8 126.2L63.0 127.1L66.2 127.9L69.4 128.7L72.6 129.5L75.8 130.5L79.0 131.5L82.2 132.5L85.4 133.5L88.6 134.2L91.8 134.7L95.0 135.0L98.3 134.9L101.5 134.3L104.7 133.5L107.9 132.5L111.1 131.2L114.3 129.9L117.5 128.4L120.7 127.0L123.9 125.7L127.1 124.5L130.3 123.5L133.5 122.7L136.8 122.2L140.0 121.7L143.2 121.2L146.4 120.7L149.6 120.2L152.8 119.8L156.0 119.4L159.2 119.1L162.4 118.8L165.6 118.6L168.8 118.5L172.0 118.4L175.3 118.4L178.5 118.5L181.7 118.8L184.9 119.1L188.1 119.5L191.3 119.8L194.5 120.2L197.7 120.6L200.9 120.9L204.1 121.1L207.3 121.4L210.5 121.6L213.8 121.9L217.0 122.2L220.2 122.4L223.4 122.5L226.6 122.6L229.8 122.7M40.5 124.9L43.7 124.9L46.9 125.0L50.1 125.1L53.3 125.2L56.5 125.4L59.8 125.5L63.0 125.6L66.2 125.6L69.4 125.6L72.6 125.4L75.8 125.1L79.0 124.6L82.2 124.1L85.4 123.6L88.6 123.2L91.8 122.9L95.0 122.7L98.3 122.7L101.5 122.8L104.7 122.9L107.9 123.0L111.1 123.1L114.3 123.2L117.5 123.4L120.7 123.5L123.9 123.7L127.1 123.9L130.3 124.0L133.5 124.2L136.8 124.3L140.0 124.5L143.2 124.7L146.4 124.8L149.6 125.0L152.8 125.2L156.0 125.4L159.2 125.5L162.4 125.7L165.6 125.9L168.8 126.2L172.0 126.4L175.3 126.6L178.5 126.9L181.7 127.2L184.9 127.6L188.1 127.9L191.3 128.2L194.5 128.5L197.7 128.7L200.9 128.8L204.1 128.7L207.3 128.4L210.5 127.9L213.8 127.2L217.0 126.6L220.2 125.9L223.4 125.4L226.6 125.0L229.8 124.9M40.5 127.1L43.7 127.1L46.9 127.2L50.1 127.3L53.3 127.4L56.5 127.5L59.8 127.6L63.0 127.8L66.2 127.9L69.4 128.0L72.6 128.1L75.8 128.3L79.0 128.5L82.2 128.6L85.4 128.8L88.6 128.9L91.8 129.0L95.0 129.0L98.3 129.0L101.5 129.0L104.7 128.9L107.9 128.8L111.1 128.6L114.3 128.5L117.5 128.3L120.7 128.1L123.9 127.9L127.1 127.7L130.3 127.5L133.5 127.3L136.8 127.0L140.0 126.8L143.2 126.5L146.4 126.2L149.6 125.9L152.8 125.6L156.0 125.3L159.2 124.9L162.4 124.6L165.6 124.2L168.8 123.8L172.0 123.5L175.3 123.1L178.5 122.7L181.7 122.2L184.9 121.6L188.1 121.1L191.3 120.6L194.5 120.3L197.7 120.0L200.9 119.8L204.1 120.0L207.3 120.6L210.5 121.6L213.8 122.7L217.0 124.0L220.2 125.1L223.4 126.2L226.6 126.9L229.8 127.1M40.5 129.3L43.7 129.3L46.9 129.3L50.1 129.2L53.3 129.1L56.5 129.0L59.8 128.9L63.0 128.8L66.2 128.8L69.4 128.8L72.6 128.8L75.8 128.8L79.0 128.8L82.2 128.8L85.4 128.9L88.6 128.9L91.8 129.0L95.0 129.0L98.3 129.1L101.5 129.2L104.7 129.5L107.9 129.8L111.1 130.1L114.3 130.4L117.5 130.8L120.7 131.1L123.9 131.4L127.1 131.7L130.3 131.9L133.5 132.0L136.8 132.1L140.0 132.2L143.2 132.2L146.4 132.3L149.6 132.3L152.8 132.4L156.0 132.4L159.2 132.5L162.4 132.5L165.6 132.5L168.8 132.5L172.0 132.5L175.3 132.5L178.5 132.5L181.7 132.5L184.9 132.4L188.1 132.3L191.3 132.2L194.5 132.1L197.7 132.0L200.9 131.9L204.1 131.7L207.3 131.5L210.5 131.1L213.8 130.7L217.0 130.3L220.2 129.9L223.4 129.6L226.6 129.4L229.8 129.3M40.5 131.5L43.7 131.6L46.9 131.6L50.1 131.7L53.3 131.8L56.5 132.0L59.8 132.1L63.0 132.2L66.2 132.4L69.4 132.5L72.6 132.6L75.8 132.8L79.0 132.9L82.2 133.1L85.4 133.2L88.6 133.3L91.8 133.4L95.0 133.5L98.3 133.4L101.5 133.2L104.7 132.8L107.9 132.3L111.1 131.7L114.3 131.0L117.5 130.2L120.7 129.5L123.9 128.7L127.1 128.0L130.3 127.3L133.5 126.7L136.8 126.2L140.0 125.6L143.2 124.9L146.4 124.3L149.6 123.6L152.8 123.0L156.0 122.3L159.2 121.8L162.4 121.3L165.6 120.9L168.8 120.7L172.0 120.5L175.3 120.5L178.5 120.7L181.7 121.0L184.9 121.4L188.1 121.9L191.3 122.4L194.5 123.0L197.7 123.6L200.9 124.2L204.1 124.9L207.3 125.8L210.5 126.8L213.8 127.9L217.0 129.0L220.2 130.0L223.4 130.8L226.6 131.3L229.8 131.5M40.5 133.8L43.7 133.7L46.9 133.4L50.1 133.0L53.3 132.6L56.5 132.0L59.8 131.4L63.0 130.8L66.2 130.1L69.4 129.5L72.6 128.7L75.8 127.7L79.0 126.6L82.2 125.5L85.4 124.5L88.6 123.6L91.8 123.0L95.0 122.8L98.3 122.8L101.5 122.8L104.7 122.8L107.9 122.8L111.1 122.8L114.3 122.8L117.5 122.8L120.7 122.8L123.9 122.8L127.1 122.8L130.3 122.8L133.5 122.8L136.8 122.9L140.0 123.3L143.2 124.1L146.4 125.1L149.6 126.3L152.8 127.6L156.0 129.0L159.2 130.4L162.4 131.7L165.6 132.9L168.8 133.9L172.0 134.7L175.3 135.2L178.5 135.7L181.7 136.2L184.9 136.7L188.1 137.1L191.3 137.4L194.5 137.7L197.7 137.9L200.9 137.9L204.1 137.9L207.3 137.5L210.5 137.0L213.8 136.3L217.0 135.6L220.2 134.9L223.4 134.3L226.6 133.9L229.8 133.8M40.5 136.0L43.7 135.8L46.9 135.3L50.1 134.7L53.3 133.9L56.5 133.1L59.8 132.4L63.0 131.8L66.2 131.4L69.4 131.4L72.6 131.8L75.8 132.6L79.0 133.7L82.2 134.8L85.4 135.9L88.6 136.9L91.8 137.6L95.0 138.0L98.3 138.0L101.5 138.0L104.7 137.9L107.9 137.9L111.1 137.9L114.3 137.8L117.5 137.8L120.7 137.8L123.9 137.7L127.1 137.6L130.3 137.6L133.5 137.5L136.8 137.4L140.0 137.1L143.2 136.7L146.4 136.2L149.6 135.6L152.8 135.0L156.0 134.4L159.2 133.8L162.4 133.3L165.6 132.9L168.8 132.5L172.0 132.4L175.3 132.4L178.5 133.0L181.7 133.9L184.9 135.1L188.1 136.4L191.3 137.7L194.5 138.9L197.7 139.7L200.9 140.1L204.1 140.0L207.3 139.7L210.5 139.1L213.8 138.5L217.0 137.8L220.2 137.1L223.4 136.5L226.6 136.1L229.8 136.0M40.5 138.2L43.7 138.2L46.9 138.1L50.1 138.0L53.3 138.0L56.5 137.8L59.8 137.7L63.0 137.6L66.2 137.4L69.4 137.3L72.6 137.0L75.8 136.6L79.0 136.2L82.2 135.7L85.4 135.3L88.6 135.0L91.8 134.7L95.0 134.6L98.3 134.6L101.5 134.6L104.7 134.7L107.9 134.9L111.1 135.0L114.3 135.2L117.5 135.4L120.7 135.6L123.9 135.9L127.1 136.1L130.3 136.4L133.5 136.6L136.8 136.9L140.0 137.2L143.2 137.6L146.4 138.0L149.6 138.5L152.8 139.0L156.0 139.5L159.2 139.9L162.4 140.3L165.6 140.7L168.8 140.9L172.0 141.0L175.3 141.0L178.5 140.9L181.7 140.7L184.9 140.4L188.1 140.1L191.3 139.8L194.5 139.5L197.7 139.3L200.9 139.1L204.1 138.9L207.3 138.8L210.5 138.7L213.8 138.5L217.0 138.4L220.2 138.3L223.4 138.2L226.6 138.2L229.8 138.2M40.5 140.4L43.7 140.2L46.9 139.9L50.1 139.3L53.3 138.6L56.5 137.9L59.8 137.3L63.0 136.8L66.2 136.5L69.4 136.5L72.6 136.6L75.8 136.9L79.0 137.3L82.2 137.7L85.4 138.1L88.6 138.4L91.8 138.7L95.0 138.8L98.3 138.8L101.5 138.7L104.7 138.6L107.9 138.4L111.1 138.2L114.3 138.0L117.5 137.8L120.7 137.6L123.9 137.4L127.1 137.2L130.3 137.1L133.5 137.1L136.8 137.1L140.0 137.4L143.2 137.8L146.4 138.3L149.6 139.0L152.8 139.6L156.0 140.3L159.2 141.0L162.4 141.6L165.6 142.1L168.8 142.5L172.0 142.7L175.3 142.7L178.5 142.7L181.7 142.6L184.9 142.4L188.1 142.2L191.3 142.0L194.5 141.9L197.7 141.7L200.9 141.5L204.1 141.4L207.3 141.2L210.5 141.1L213.8 140.9L217.0 140.7L220.2 140.6L223.4 140.5L226.6 140.4L229.8 140.4M40.5 141.9L43.7 141.9L46.9 142.0L50.1 142.2L53.3 142.4L56.5 142.7L59.8 142.9L63.0 143.0L66.2 143.1L69.4 143.1L72.6 142.9L75.8 142.5L79.0 142.0L82.2 141.4L85.4 140.8L88.6 140.4L91.8 140.0L95.0 139.8L98.3 139.8L101.5 139.9L104.7 139.9L107.9 140.0L111.1 140.1L114.3 140.1L117.5 140.2L120.7 140.3L123.9 140.4L127.1 140.4L130.3 140.5L133.5 140.5L136.8 140.5L140.0 140.4L143.2 140.4L146.4 140.3L149.6 140.2L152.8 140.1L156.0 139.9L159.2 139.8L162.4 139.7L165.6 139.6L168.8 139.6L172.0 139.5L175.3 139.6L178.5 139.9L181.7 140.4L184.9 141.1L188.1 141.9L191.3 142.6L194.5 143.3L197.7 143.7L200.9 144.0L204.1 143.9L207.3 143.8L210.5 143.5L213.8 143.1L217.0 142.8L220.2 142.4L223.4 142.1L226.6 141.9L229.8 141.9M40.5 143.0L43.7 143.1L46.9 143.2L50.1 143.3L53.3 143.5L56.5 143.7L59.8 143.9L63.0 144.1L66.2 144.2L69.4 144.2L72.6 144.1L75.8 144.1L79.0 143.9L82.2 143.8L85.4 143.7L88.6 143.5L91.8 143.4L95.0 143.3L98.3 143.2L101.5 143.1L104.7 143.0L107.9 142.8L111.1 142.7L114.3 142.6L117.5 142.5L120.7 142.4L123.9 142.3L127.1 142.3L130.3 142.2L133.5 142.1L136.8 142.1L140.0 142.0L143.2 142.0L146.4 141.9L149.6 141.9L152.8 141.8L156.0 141.8L159.2 141.7L162.4 141.7L165.6 141.7L168.8 141.6L172.0 141.6L175.3 141.6L178.5 141.7L181.7 141.7L184.9 141.7L188.1 141.8L191.3 141.8L194.5 141.9L197.7 141.9L200.9 142.0L204.1 142.1L207.3 142.2L210.5 142.3L213.8 142.5L217.0 142.6L220.2 142.8L223.4 142.9L226.6 143.0L229.8 143.0M40.5 144.2L43.7 144.2L46.9 144.2L50.1 144.2L53.3 144.2L56.5 144.2L59.8 144.2L63.0 144.2L66.2 144.2L69.4 144.1L72.6 144.0L75.8 143.7L79.0 143.3L82.2 142.9L85.4 142.6L88.6 142.2L91.8 142.0L95.0 141.8L98.3 141.9L101.5 142.0L104.7 142.2L107.9 142.5L111.1 142.8L114.3 143.1L117.5 143.5L120.7 143.9L123.9 144.2L127.1 144.5L130.3 144.8L133.5 145.0L136.8 145.1L140.0 145.2L143.2 145.4L146.4 145.5L149.6 145.6L152.8 145.7L156.0 145.8L159.2 145.9L162.4 146.0L165.6 146.0L168.8 146.0L172.0 146.1L175.3 146.0L178.5 145.8L181.7 145.4L184.9 144.9L188.1 144.3L191.3 143.7L194.5 143.2L197.7 142.9L200.9 142.7L204.1 142.7L207.3 142.8L210.5 143.0L213.8 143.3L217.0 143.5L220.2 143.8L223.4 144.0L226.6 144.1L229.8 144.2M40.5 145.3L43.7 145.3L46.9 145.2L50.1 145.0L53.3 144.8L56.5 144.5L59.8 144.3L63.0 144.0L66.2 143.8L69.4 143.7L72.6 143.6L75.8 143.4L79.0 143.3L82.2 143.1L85.4 143.0L88.6 142.9L91.8 142.8L95.0 142.8L98.3 142.8L101.5 142.9L104.7 142.9L107.9 143.0L111.1 143.1L114.3 143.2L117.5 143.4L120.7 143.5L123.9 143.6L127.1 143.8L130.3 143.9L133.5 144.0L136.8 144.1L140.0 144.3L143.2 144.4L146.4 144.6L149.6 144.8L152.8 144.9L156.0 145.1L159.2 145.3L162.4 145.4L165.6 145.5L168.8 145.6L172.0 145.6L175.3 145.6L178.5 145.6L181.7 145.5L184.9 145.5L188.1 145.4L191.3 145.3L194.5 145.3L197.7 145.2L200.9 145.2L204.1 145.2L207.3 145.2L210.5 145.2L213.8 145.2L217.0 145.3L220.2 145.3L223.4 145.3L226.6 145.3L229.8 145.3M40.5 146.5L43.7 146.6L46.9 146.7L50.1 147.0L53.3 147.4L56.5 147.7L59.8 148.0L63.0 148.3L66.2 148.4L69.4 148.4L72.6 148.3L75.8 148.2L79.0 147.9L82.2 147.7L85.4 147.4L88.6 147.2L91.8 147.0L95.0 147.0L98.3 147.0L101.5 147.0L104.7 147.1L107.9 147.2L111.1 147.3L114.3 147.4L117.5 147.6L120.7 147.7L123.9 147.8L127.1 147.9L130.3 148.0L133.5 148.0L136.8 148.0L140.0 148.0L143.2 147.9L146.4 147.9L149.6 147.9L152.8 147.8L156.0 147.7L159.2 147.7L162.4 147.6L165.6 147.5L168.8 147.4L172.0 147.3L175.3 147.2L178.5 146.9L181.7 146.6L184.9 146.2L188.1 145.7L191.3 145.3L194.5 145.0L197.7 144.7L200.9 144.6L204.1 144.6L207.3 144.8L210.5 145.0L213.8 145.3L217.0 145.7L220.2 146.0L223.4 146.2L226.6 146.4L229.8 146.5M40.5 147.6L43.7 147.6L46.9 147.6L50.1 147.6L53.3 147.5L56.5 147.5L59.8 147.4L63.0 147.4L66.2 147.3L69.4 147.3L72.6 147.2L75.8 147.1L79.0 146.9L82.2 146.8L85.4 146.6L88.6 146.5L91.8 146.4L95.0 146.4L98.3 146.4L101.5 146.4L104.7 146.4L107.9 146.5L111.1 146.5L114.3 146.5L117.5 146.6L120.7 146.6L123.9 146.7L127.1 146.7L130.3 146.8L133.5 146.8L136.8 146.9L140.0 146.9L143.2 147.0L146.4 147.1L149.6 147.1L152.8 147.2L156.0 147.3L159.2 147.3L162.4 147.4L165.6 147.4L168.8 147.5L172.0 147.5L175.3 147.5L178.5 147.4L181.7 147.4L184.9 147.3L188.1 147.3L191.3 147.2L194.5 147.1L197.7 147.1L200.9 147.1L204.1 147.1L207.3 147.1L210.5 147.2L213.8 147.3L217.0 147.4L220.2 147.5L223.4 147.6L226.6 147.6L229.8 147.6M40.5 148.8L43.7 148.8L46.9 148.8L50.1 148.9L53.3 148.9L56.5 149.0L59.8 149.0L63.0 149.1L66.2 149.2L69.4 149.2L72.6 149.3L75.8 149.5L79.0 149.6L82.2 149.8L85.4 150.0L88.6 150.1L91.8 150.2L95.0 150.3L98.3 150.3L101.5 150.3L104.7 150.3L107.9 150.3L111.1 150.3L114.3 150.3L117.5 150.3L120.7 150.3L123.9 150.3L127.1 150.3L130.3 150.3L133.5 150.3L136.8 150.3L140.0 150.2L143.2 150.1L146.4 149.9L149.6 149.7L152.8 149.4L156.0 149.2L159.2 148.9L162.4 148.7L165.6 148.5L168.8 148.4L172.0 148.3L175.3 148.3L178.5 148.4L181.7 148.6L184.9 148.8L188.1 149.0L191.3 149.2L194.5 149.4L197.7 149.6L200.9 149.6L204.1 149.6L207.3 149.6L210.5 149.4L213.8 149.3L217.0 149.2L220.2 149.0L223.4 148.9L226.6 148.8L229.8 148.8M40.5 149.9L43.7 149.9L46.9 149.9L50.1 149.9L53.3 149.9L56.5 149.9L59.8 149.9L63.0 149.9L66.2 149.9L69.4 149.9L72.6 150.0L75.8 150.2L79.0 150.5L82.2 150.8L85.4 151.2L88.6 151.5L91.8 151.9L95.0 152.2L98.3 152.5L101.5 152.8L104.7 153.2L107.9 153.5L111.1 153.9L114.3 154.2L117.5 154.6L120.7 154.9L123.9 155.2L127.1 155.4L130.3 155.5L133.5 155.6L136.8 155.6L140.0 155.4L143.2 155.2L146.4 155.0L149.6 154.7L152.8 154.3L156.0 154.0L159.2 153.6L162.4 153.3L165.6 152.9L168.8 152.7L172.0 152.5L175.3 152.3L178.5 152.2L181.7 152.1L184.9 152.0L188.1 151.9L191.3 151.9L194.5 151.8L197.7 151.7L200.9 151.6L204.1 151.4L207.3 151.2L210.5 151.0L213.8 150.7L217.0 150.5L220.2 150.3L223.4 150.1L226.6 150.0L229.8 149.9M40.5 151.1L43.7 151.1L46.9 151.1L50.1 151.2L53.3 151.3L56.5 151.3L59.8 151.4L63.0 151.5L66.2 151.6L69.4 151.7L72.6 151.8L75.8 151.9L79.0 152.1L82.2 152.2L85.4 152.3L88.6 152.4L91.8 152.5L95.0 152.5L98.3 152.5L101.5 152.4L104.7 152.3L107.9 152.1L111.1 152.0L114.3 151.8L117.5 151.6L120.7 151.4L123.9 151.2L127.1 151.1L130.3 151.0L133.5 151.0L136.8 151.0L140.0 151.0L143.2 151.1L146.4 151.3L149.6 151.5L152.8 151.7L156.0 151.9L159.2 152.0L162.4 152.2L165.6 152.4L168.8 152.5L172.0 152.5L175.3 152.5L178.5 152.5L181.7 152.4L184.9 152.3L188.1 152.2L191.3 152.1L194.5 151.9L197.7 151.8L200.9 151.7L204.1 151.6L207.3 151.5L210.5 151.5L213.8 151.4L217.0 151.3L220.2 151.2L223.4 151.1L226.6 151.1L229.8 151.1M40.5 152.2L43.7 152.3L46.9 152.3L50.1 152.3L53.3 152.4L56.5 152.5L59.8 152.5L63.0 152.6L66.2 152.6L69.4 152.6L72.6 152.6L75.8 152.6L79.0 152.6L82.2 152.6L85.4 152.6L88.6 152.6L91.8 152.6L95.0 152.6L98.3 152.6L101.5 152.5L104.7 152.5L107.9 152.4L111.1 152.3L114.3 152.2L117.5 152.1L120.7 152.1L123.9 152.0L127.1 151.9L130.3 151.9L133.5 151.9L136.8 151.9L140.0 151.9L143.2 152.1L146.4 152.2L149.6 152.5L152.8 152.7L156.0 152.9L159.2 153.1L162.4 153.3L165.6 153.5L168.8 153.6L172.0 153.6L175.3 153.7L178.5 153.7L181.7 153.6L184.9 153.6L188.1 153.6L191.3 153.6L194.5 153.6L197.7 153.5L200.9 153.5L204.1 153.4L207.3 153.3L210.5 153.2L213.8 153.0L217.0 152.8L220.2 152.6L223.4 152.4L226.6 152.3L229.8 152.2M40.5 153.4L43.7 153.5L46.9 153.8L50.1 154.2L53.3 154.7L56.5 155.2L59.8 155.6L63.0 156.0L66.2 156.2L69.4 156.3L72.6 156.2L75.8 156.2L79.0 156.2L82.2 156.1L85.4 156.1L88.6 156.1L91.8 156.1L95.0 156.0L98.3 156.1L101.5 156.2L104.7 156.3L107.9 156.5L111.1 156.8L114.3 157.0L117.5 157.3L120.7 157.5L123.9 157.7L127.1 157.9L130.3 158.0L133.5 158.1L136.8 158.1L140.0 158.1L143.2 158.0L146.4 157.9L149.6 157.7L152.8 157.6L156.0 157.4L159.2 157.2L162.4 157.0L165.6 156.8L168.8 156.6L172.0 156.4L175.3 156.2L178.5 155.8L181.7 155.4L184.9 155.0L188.1 154.5L191.3 154.1L194.5 153.7L197.7 153.5L200.9 153.3L204.1 153.3L207.3 153.3L210.5 153.3L213.8 153.4L217.0 153.4L220.2 153.4L223.4 153.4L226.6 153.4L229.8 153.4M40.5 154.6L43.7 154.5L46.9 154.2L50.1 153.9L53.3 153.5L56.5 153.0L59.8 152.7L63.0 152.3L66.2 152.2L69.4 152.1L72.6 152.2L75.8 152.4L79.0 152.6L82.2 152.8L85.4 153.0L88.6 153.3L91.8 153.5L95.0 153.7L98.3 153.9L101.5 154.0L104.7 154.2L107.9 154.4L111.1 154.6L114.3 154.7L117.5 154.9L120.7 155.0L123.9 155.1L127.1 155.2L130.3 155.3L133.5 155.3L136.8 155.3L140.0 155.3L143.2 155.3L146.4 155.3L149.6 155.3L152.8 155.3L156.0 155.3L159.2 155.2L162.4 155.2L165.6 155.2L168.8 155.1L172.0 155.1L175.3 155.1L178.5 155.0L181.7 154.8L184.9 154.6L188.1 154.4L191.3 154.2L194.5 154.0L197.7 153.8L200.9 153.8L204.1 153.8L207.3 153.9L210.5 154.0L213.8 154.1L217.0 154.2L220.2 154.3L223.4 154.4L226.6 154.5L229.8 154.6M40.5 155.7L43.7 155.8L46.9 155.9L50.1 156.1L53.3 156.3L56.5 156.5L59.8 156.7L63.0 156.8L66.2 156.9L69.4 156.9L72.6 156.7L75.8 156.3L79.0 155.9L82.2 155.3L85.4 154.8L88.6 154.3L91.8 154.0L95.0 153.9L98.3 153.9L101.5 154.1L104.7 154.3L107.9 154.7L111.1 155.0L114.3 155.5L117.5 155.9L120.7 156.4L123.9 156.8L127.1 157.2L130.3 157.5L133.5 157.8L136.8 158.0L140.0 158.1L143.2 158.3L146.4 158.5L149.6 158.6L152.8 158.8L156.0 158.9L159.2 159.0L162.4 159.1L165.6 159.2L168.8 159.2L172.0 159.3L175.3 159.2L178.5 159.0L181.7 158.7L184.9 158.3L188.1 157.8L191.3 157.3L194.5 156.8L197.7 156.5L200.9 156.3L204.1 156.2L207.3 156.1L210.5 156.0L213.8 155.9L217.0 155.8L220.2 155.8L223.4 155.7L226.6 155.7L229.8 155.7M40.5 156.9L43.7 156.7L46.9 156.5L50.1 156.0L53.3 155.5L56.5 155.0L59.8 154.6L63.0 154.2L66.2 154.0L69.4 153.9L72.6 153.9L75.8 153.9L79.0 153.9L82.2 153.9L85.4 153.9L88.6 153.9L91.8 153.9L95.0 153.9L98.3 153.9L101.5 154.0L104.7 154.2L107.9 154.5L111.1 154.8L114.3 155.1L117.5 155.5L120.7 155.9L123.9 156.3L127.1 156.6L130.3 157.0L133.5 157.2L136.8 157.5L140.0 157.7L143.2 158.0L146.4 158.2L149.6 158.5L152.8 158.8L156.0 159.0L159.2 159.2L162.4 159.4L165.6 159.5L168.8 159.6L172.0 159.7L175.3 159.7L178.5 159.6L181.7 159.6L184.9 159.5L188.1 159.4L191.3 159.3L194.5 159.1L197.7 159.0L200.9 158.8L204.1 158.7L207.3 158.5L210.5 158.2L213.8 157.9L217.0 157.6L220.2 157.3L223.4 157.1L226.6 156.9L229.8 156.9M40.5 158.0L43.7 158.1L46.9 158.4L50.1 158.8L53.3 159.2L56.5 159.7L59.8 160.1L63.0 160.5L66.2 160.7L69.4 160.7L72.6 160.6L75.8 160.5L79.0 160.2L82.2 160.0L85.4 159.7L88.6 159.5L91.8 159.4L95.0 159.3L98.3 159.3L101.5 159.4L104.7 159.4L107.9 159.5L111.1 159.7L114.3 159.8L117.5 159.9L120.7 160.1L123.9 160.2L127.1 160.3L130.3 160.4L133.5 160.4L136.8 160.4L140.0 160.3L143.2 160.2L146.4 160.0L149.6 159.9L152.8 159.7L156.0 159.5L159.2 159.3L162.4 159.1L165.6 158.9L168.8 158.8L172.0 158.8L175.3 158.8L178.5 158.9L181.7 159.0L184.9 159.2L188.1 159.5L191.3 159.7L194.5 159.9L197.7 160.0L200.9 160.1L204.1 160.0L207.3 159.9L210.5 159.6L213.8 159.3L217.0 158.9L220.2 158.6L223.4 158.3L226.6 158.1L229.8 158.0M40.5 159.2L43.7 159.0L46.9 158.6L50.1 157.9L53.3 157.2L56.5 156.5L59.8 155.8L63.0 155.2L66.2 154.9L69.4 154.8L72.6 155.1L75.8 155.4L79.0 155.9L82.2 156.5L85.4 157.0L88.6 157.5L91.8 157.9L95.0 158.0L98.3 158.0L101.5 158.0L104.7 157.9L107.9 157.8L111.1 157.7L114.3 157.6L117.5 157.5L120.7 157.3L123.9 157.2L127.1 157.0L130.3 156.8L133.5 156.7L136.8 156.5L140.0 156.4L143.2 156.1L146.4 155.9L149.6 155.6L152.8 155.4L156.0 155.1L159.2 154.9L162.4 154.7L165.6 154.5L168.8 154.4L172.0 154.4L175.3 154.4L178.5 154.7L181.7 155.3L184.9 156.1L188.1 156.9L191.3 157.7L194.5 158.4L197.7 158.9L200.9 159.1L204.1 159.1L207.3 159.1L210.5 159.2L213.8 159.2L217.0 159.2L220.2 159.2L223.4 159.2L226.6 159.2L229.8 159.2M40.5 160.3L43.7 160.2L46.9 160.0L50.1 159.7L53.3 159.3L56.5 158.9L59.8 158.5L63.0 158.2L66.2 158.1L69.4 158.1L72.6 158.2L75.8 158.6L79.0 159.0L82.2 159.4L85.4 159.9L88.6 160.3L91.8 160.6L95.0 160.7L98.3 160.7L101.5 160.7L104.7 160.7L107.9 160.7L111.1 160.7L114.3 160.7L117.5 160.7L120.7 160.7L123.9 160.7L127.1 160.7L130.3 160.7L133.5 160.7L136.8 160.7L140.0 160.7L143.2 160.7L146.4 160.7L149.6 160.7L152.8 160.7L156.0 160.7L159.2 160.7L162.4 160.7L165.6 160.7L168.8 160.7L172.0 160.7L175.3 160.7L178.5 160.7L181.7 160.7L184.9 160.7L188.1 160.7L191.3 160.7L194.5 160.7L197.7 160.7L200.9 160.7L204.1 160.7L207.3 160.7L210.5 160.6L213.8 160.6L217.0 160.5L220.2 160.4L223.4 160.4L226.6 160.3L229.8 160.3M40.5 165.8L43.7 165.8L46.9 165.8L50.1 165.9L53.3 165.9L56.5 166.0L59.8 166.1L63.0 166.1L66.2 166.1L69.4 166.1L72.6 166.1L75.8 166.0L79.0 165.9L82.2 165.7L85.4 165.6L88.6 165.5L91.8 165.4L95.0 165.4L98.3 165.4L101.5 165.4L104.7 165.4L107.9 165.4L111.1 165.4L114.3 165.4L117.5 165.4L120.7 165.4L123.9 165.4L127.1 165.4L130.3 165.4L133.5 165.4L136.8 165.4L140.0 165.4L143.2 165.4L146.4 165.4L149.6 165.4L152.8 165.4L156.0 165.4L159.2 165.4L162.4 165.4L165.6 165.4L168.8 165.4L172.0 165.4L175.3 165.4L178.5 165.4L181.7 165.4L184.9 165.4L188.1 165.5L191.3 165.5L194.5 165.5L197.7 165.6L200.9 165.6L204.1 165.6L207.3 165.7L210.5 165.7L213.8 165.7L217.0 165.7L220.2 165.7L223.4 165.8L226.6 165.8L229.8 165.8M40.5 166.7L43.7 166.8L46.9 166.8L50.1 166.8L53.3 166.8L56.5 166.9L59.8 166.9L63.0 166.9L66.2 166.9L69.4 166.9L72.6 166.9L75.8 166.9L79.0 166.9L82.2 166.8L85.4 166.8L88.6 166.8L91.8 166.8L95.0 166.7L98.3 166.7L101.5 166.7L104.7 166.7L107.9 166.7L111.1 166.6L114.3 166.6L117.5 166.6L120.7 166.6L123.9 166.6L127.1 166.6L130.3 166.6L133.5 166.6L136.8 166.6L140.0 166.6L143.2 166.6L146.4 166.6L149.6 166.6L152.8 166.6L156.0 166.6L159.2 166.6L162.4 166.6L165.6 166.6L168.8 166.6L172.0 166.6L175.3 166.6L178.5 166.6L181.7 166.7L184.9 166.8L188.1 166.8L191.3 166.9L194.5 166.9L197.7 167.0L200.9 167.0L204.1 167.0L207.3 167.0L210.5 166.9L213.8 166.9L217.0 166.9L220.2 166.8L223.4 166.8L226.6 166.8L229.8 166.7M40.5 167.7L43.7 167.7L46.9 167.7L50.1 167.8L53.3 167.8L56.5 167.8L59.8 167.9L63.0 167.9L66.2 168.0L69.4 168.0L72.6 168.1L75.8 168.2L79.0 168.3L82.2 168.4L85.4 168.5L88.6 168.6L91.8 168.6L95.0 168.7L98.3 168.7L101.5 168.6L104.7 168.5L107.9 168.4L111.1 168.3L114.3 168.1L117.5 168.0L120.7 167.8L123.9 167.6L127.1 167.5L130.3 167.3L133.5 167.2L136.8 167.1L140.0 167.0L143.2 166.9L146.4 166.8L149.6 166.7L152.8 166.5L156.0 166.4L159.2 166.3L162.4 166.3L165.6 166.2L168.8 166.2L172.0 166.1L175.3 166.2L178.5 166.3L181.7 166.5L184.9 166.7L188.1 167.0L191.3 167.3L194.5 167.5L197.7 167.7L200.9 167.8L204.1 167.8L207.3 167.8L210.5 167.8L213.8 167.8L217.0 167.7L220.2 167.7L223.4 167.7L226.6 167.7L229.8 167.7M40.5 168.7L43.7 168.7L46.9 168.8L50.1 168.9L53.3 169.0L56.5 169.2L59.8 169.3L63.0 169.4L66.2 169.5L69.4 169.5L72.6 169.4L75.8 169.4L79.0 169.3L82.2 169.2L85.4 169.2L88.6 169.1L91.8 169.0L95.0 168.9L98.3 168.8L101.5 168.7L104.7 168.6L107.9 168.5L111.1 168.4L114.3 168.2L117.5 168.1L120.7 168.0L123.9 167.9L127.1 167.9L130.3 167.8L133.5 167.8L136.8 167.8L140.0 167.8L143.2 167.8L146.4 167.8L149.6 167.8L152.8 167.8L156.0 167.8L159.2 167.8L162.4 167.8L165.6 167.8L168.8 167.8L172.0 167.8L175.3 167.9L178.5 167.9L181.7 168.0L184.9 168.1L188.1 168.1L191.3 168.2L194.5 168.3L197.7 168.4L200.9 168.5L204.1 168.5L207.3 168.5L210.5 168.6L213.8 168.6L217.0 168.6L220.2 168.7L223.4 168.7L226.6 168.7L229.8 168.7M40.5 78.5L43.7 78.5L46.9 78.6L50.1 78.6L53.3 78.6L56.5 78.6L59.8 78.7L63.0 78.7L66.2 78.7L69.4 78.8L72.6 78.8L75.8 78.8L79.0 78.9L82.2 78.9L85.4 78.9L88.6 78.9L91.8 78.9L95.0 79.0L98.3 79.0L101.5 78.9L104.7 78.9L107.9 78.9L111.1 78.9L114.3 78.9L117.5 78.9L120.7 78.9L123.9 78.8L127.1 78.8L130.3 78.8L133.5 78.8L136.8 78.7L140.0 78.7L143.2 78.7L146.4 78.7L149.6 78.6L152.8 78.6L156.0 78.6L159.2 78.6L162.4 78.6L165.6 78.5L168.8 78.5L172.0 78.5L175.3 78.5L178.5 78.5L181.7 78.5L184.9 78.5L188.1 78.5L191.3 78.5L194.5 78.5L197.7 78.5L200.9 78.5L204.1 78.5L207.3 78.5L210.5 78.5L213.8 78.5L217.0 78.5L220.2 78.5L223.4 78.5L226.6 78.5L229.8 78.5M40.5 79.6L43.7 79.6L46.9 79.6L50.1 79.7L53.3 79.7L56.5 79.8L59.8 79.9L63.0 80.0L66.2 80.1L69.4 80.1L72.6 80.2L75.8 80.3L79.0 80.4L82.2 80.5L85.4 80.5L88.6 80.6L91.8 80.6L95.0 80.6L98.3 80.6L101.5 80.6L104.7 80.6L107.9 80.6L111.1 80.6L114.3 80.5L117.5 80.5L120.7 80.5L123.9 80.4L127.1 80.4L130.3 80.3L133.5 80.3L136.8 80.2L140.0 80.2L143.2 80.1L146.4 80.1L149.6 80.0L152.8 80.0L156.0 80.0L159.2 79.9L162.4 79.9L165.6 79.9L168.8 79.8L172.0 79.8L175.3 79.8L178.5 79.8L181.7 79.7L184.9 79.7L188.1 79.7L191.3 79.7L194.5 79.7L197.7 79.7L200.9 79.7L204.1 79.6L207.3 79.6L210.5 79.6L213.8 79.6L217.0 79.6L220.2 79.6L223.4 79.6L226.6 79.6L229.8 79.6M40.5 171.9L43.7 171.8L46.9 171.8L50.1 171.7L53.3 171.6L56.5 171.4L59.8 171.2L63.0 171.1L66.2 170.9L69.4 170.7L72.6 170.5L75.8 170.1L79.0 169.7L82.2 169.3L85.4 168.9L88.6 168.6L91.8 168.4L95.0 168.3L98.3 168.3L101.5 168.3L104.7 168.4L107.9 168.4L111.1 168.5L114.3 168.6L117.5 168.7L120.7 168.8L123.9 168.9L127.1 169.0L130.3 169.0L133.5 169.1L136.8 169.2L140.0 169.2L143.2 169.3L146.4 169.3L149.6 169.3L152.8 169.4L156.0 169.4L159.2 169.5L162.4 169.5L165.6 169.6L168.8 169.6L172.0 169.7L175.3 169.8L178.5 169.9L181.7 170.1L184.9 170.3L188.1 170.5L191.3 170.7L194.5 170.9L197.7 171.1L200.9 171.2L204.1 171.3L207.3 171.4L210.5 171.5L213.8 171.6L217.0 171.7L220.2 171.7L223.4 171.8L226.6 171.8L229.8 171.9M40.5 162.4L43.7 162.4L46.9 162.4L50.1 162.4L53.3 162.4L56.5 162.4L59.8 162.4L63.0 162.4L66.2 162.4L69.4 162.4L72.6 162.4L75.8 162.5L79.0 162.6L82.2 162.6L85.4 162.7L88.6 162.8L91.8 162.8L95.0 162.8L98.3 162.8L101.5 162.8L104.7 162.7L107.9 162.7L111.1 162.6L114.3 162.5L117.5 162.3L120.7 162.2L123.9 162.1L127.1 162.0L130.3 161.9L133.5 161.8L136.8 161.7L140.0 161.6L143.2 161.6L146.4 161.5L149.6 161.4L152.8 161.3L156.0 161.2L159.2 161.1L162.4 161.1L165.6 161.0L168.8 161.0L172.0 160.9L175.3 161.0L178.5 161.0L181.7 161.1L184.9 161.2L188.1 161.3L191.3 161.4L194.5 161.5L197.7 161.7L200.9 161.8L204.1 161.9L207.3 161.9L210.5 162.0L213.8 162.1L217.0 162.2L220.2 162.3L223.4 162.4L226.6 162.4L229.8 162.4M40.5 163.7L43.7 163.7L46.9 163.6L50.1 163.6L53.3 163.6L56.5 163.5L59.8 163.5L63.0 163.5L66.2 163.5L69.4 163.5L72.6 163.5L75.8 163.5L79.0 163.6L82.2 163.6L85.4 163.7L88.6 163.7L91.8 163.8L95.0 163.9L98.3 163.9L101.5 164.0L104.7 164.1L107.9 164.2L111.1 164.3L114.3 164.4L117.5 164.5L120.7 164.6L123.9 164.7L127.1 164.8L130.3 164.8L133.5 164.9L136.8 165.0L140.0 165.0L143.2 165.1L146.4 165.2L149.6 165.3L152.8 165.3L156.0 165.4L159.2 165.4L162.4 165.5L165.6 165.5L168.8 165.5L172.0 165.6L175.3 165.6L178.5 165.5L181.7 165.4L184.9 165.4L188.1 165.2L191.3 165.1L194.5 165.0L197.7 164.9L200.9 164.7L204.1 164.6L207.3 164.5L210.5 164.3L213.8 164.2L217.0 164.0L220.2 163.9L223.4 163.8L226.6 163.7L229.8 163.7M40.5 161.6L43.7 161.6L46.9 161.8L50.1 162.0L53.3 162.2L56.5 162.5L59.8 162.7L63.0 162.9L66.2 163.0L69.4 163.0L72.6 162.9L75.8 162.8L79.0 162.6L82.2 162.3L85.4 162.1L88.6 161.9L91.8 161.7L95.0 161.6L98.3 161.5L101.5 161.5L104.7 161.5L107.9 161.5L111.1 161.5L114.3 161.4L117.5 161.4L120.7 161.4L123.9 161.4L127.1 161.4L130.3 161.3L133.5 161.3L136.8 161.2L140.0 161.2L143.2 161.1L146.4 161.1L149.6 161.0L152.8 161.0L156.0 160.9L159.2 160.9L162.4 160.8L165.6 160.8L168.8 160.8L172.0 160.7L175.3 160.7L178.5 160.8L181.7 160.8L184.9 160.8L188.1 160.9L191.3 160.9L194.5 160.9L197.7 161.0L200.9 161.1L204.1 161.1L207.3 161.2L210.5 161.2L213.8 161.3L217.0 161.4L220.2 161.4L223.4 161.5L226.6 161.6L229.8 161.6M40.5 164.5L43.7 164.4L46.9 164.3L50.1 164.0L53.3 163.8L56.5 163.5L59.8 163.2L63.0 163.0L66.2 162.9L69.4 162.8L72.6 163.0L75.8 163.2L79.0 163.5L82.2 163.9L85.4 164.2L88.6 164.5L91.8 164.8L95.0 164.9L98.3 165.0L101.5 165.0L104.7 165.0L107.9 165.0L111.1 165.1L114.3 165.1L117.5 165.1L120.7 165.1L123.9 165.1L127.1 165.1L130.3 165.2L133.5 165.2L136.8 165.3L140.0 165.3L143.2 165.4L146.4 165.4L149.6 165.5L152.8 165.6L156.0 165.6L159.2 165.7L162.4 165.7L165.6 165.7L168.8 165.8L172.0 165.8L175.3 165.8L178.5 165.8L181.7 165.7L184.9 165.7L188.1 165.7L191.3 165.6L194.5 165.6L197.7 165.5L200.9 165.5L204.1 165.4L207.3 165.3L210.5 165.3L213.8 165.1L217.0 165.0L220.2 164.8L223.4 164.7L226.6 164.6L229.8 164.5" fill="none" stroke="#000" stroke-width="1.2" stroke-linejoin="round"/>
<line x1="40.9" y1="78.2" x2="40.9" y2="64.5" stroke="#f00" stroke-width="1.9"/>
<path d="M40.9 60.6 L43.5 66.6 L40.9 65.3 L38.3 66.6 Z" fill="#000"/>
<text x="55.5" y="73.9" font-family='"Liberation Serif", serif' font-size="17" fill="#111">0.90</text>
<text x="89.7" y="73.4" font-family='"Liberation Sans", sans-serif' font-size="17" fill="#111">eV</text>
<text transform="translate(110.2,209.5) scale(1.12,1)" font-family='"Liberation Sans", sans-serif' font-size="16.5" font-weight="bold" text-anchor="middle" fill="#111" stroke="#111" stroke-width="0.35">(a)</text>
<text transform="translate(360,209.5) scale(1.12,1)" font-family='"Liberation Sans", sans-serif' font-size="16.5" font-weight="bold" text-anchor="middle" fill="#111" stroke="#111" stroke-width="0.35">(b)</text>
<text transform="translate(611.3,209.5) scale(1.12,1)" font-family='"Liberation Sans", sans-serif' font-size="16.5" font-weight="bold" text-anchor="middle" fill="#111" stroke="#111" stroke-width="0.35">(c)</text>
<text transform="translate(110.5,446) scale(1.12,1)" font-family='"Liberation Sans", sans-serif' font-size="16.5" font-weight="bold" text-anchor="middle" fill="#111" stroke="#111" stroke-width="0.35">(d)</text>
<text transform="translate(360.9,446) scale(1.12,1)" font-family='"Liberation Sans", sans-serif' font-size="16.5" font-weight="bold" text-anchor="middle" fill="#111" stroke="#111" stroke-width="0.35">(e)</text>
<text transform="translate(615.3,446) scale(1.12,1)" font-family='"Liberation Sans", sans-serif' font-size="16.5" font-weight="bold" text-anchor="middle" fill="#111" stroke="#111" stroke-width="0.35">(f)</text>
<rect x="44.4" y="226.4" width="187.2" height="87.4" fill="none" stroke="#555" stroke-width="0.9"/>
<line x1="161.4" y1="226.4" x2="161.4" y2="313.8" stroke="#666" stroke-width="0.7" stroke-dasharray="0.8 1.2"/>
<text x="38.2" y="316.4" font-family='"Liberation Sans", sans-serif' font-size="8.6" text-anchor="end" fill="#222">0</text>
<line x1="44.4" y1="291.9" x2="46.0" y2="291.9" stroke="#444" stroke-width="0.7"/>
<line x1="230.0" y1="291.9" x2="231.6" y2="291.9" stroke="#444" stroke-width="0.7"/>
<text x="38.2" y="294.7" font-family='"Liberation Sans", sans-serif' font-size="8.6" text-anchor="end" fill="#222">0.1</text>
<line x1="44.4" y1="270.1" x2="46.0" y2="270.1" stroke="#444" stroke-width="0.7"/>
<line x1="230.0" y1="270.1" x2="231.6" y2="270.1" stroke="#444" stroke-width="0.7"/>
<text x="38.2" y="273.1" font-family='"Liberation Sans", sans-serif' font-size="8.6" text-anchor="end" fill="#222">0.2</text>
<line x1="44.4" y1="248.2" x2="46.0" y2="248.2" stroke="#444" stroke-width="0.7"/>
<line x1="230.0" y1="248.2" x2="231.6" y2="248.2" stroke="#444" stroke-width="0.7"/>
<text x="38.2" y="251.5" font-family='"Liberation Sans", sans-serif' font-size="8.6" text-anchor="end" fill="#222">0.3</text>
<text x="38.2" y="229.8" font-family='"Liberation Sans", sans-serif' font-size="8.6" text-anchor="end" fill="#222">0.4</text>
<rect x="44.4" y="320.4" width="187.2" height="87.4" fill="none" stroke="#555" stroke-width="0.9"/>
<line x1="161.4" y1="320.4" x2="161.4" y2="407.8" stroke="#666" stroke-width="0.7" stroke-dasharray="0.8 1.2"/>
<text x="38.2" y="410.4" font-family='"Liberation Sans", sans-serif' font-size="8.6" text-anchor="end" fill="#222">0</text>
<line x1="44.4" y1="385.9" x2="46.0" y2="385.9" stroke="#444" stroke-width="0.7"/>
<line x1="230.0" y1="385.9" x2="231.6" y2="385.9" stroke="#444" stroke-width="0.7"/>
<text x="38.2" y="388.7" font-family='"Liberation Sans", sans-serif' font-size="8.6" text-anchor="end" fill="#222">0.1</text>
<line x1="44.4" y1="364.1" x2="46.0" y2="364.1" stroke="#444" stroke-width="0.7"/>
<line x1="230.0" y1="364.1" x2="231.6" y2="364.1" stroke="#444" stroke-width="0.7"/>
<text x="38.2" y="367.1" font-family='"Liberation Sans", sans-serif' font-size="8.6" text-anchor="end" fill="#222">0.2</text>
<line x1="44.4" y1="342.2" x2="46.0" y2="342.2" stroke="#444" stroke-width="0.7"/>
<line x1="230.0" y1="342.2" x2="231.6" y2="342.2" stroke="#444" stroke-width="0.7"/>
<text x="38.2" y="345.5" font-family='"Liberation Sans", sans-serif' font-size="8.6" text-anchor="end" fill="#222">0.3</text>
<text x="38.2" y="323.8" font-family='"Liberation Sans", sans-serif' font-size="8.6" text-anchor="end" fill="#222">0.4</text>
<line x1="91.0" y1="402.0" x2="91.0" y2="407.8" stroke="#aaa" stroke-width="1.4"/>
<text transform="translate(90.2,417.8) scale(1.15,1)" font-family='"Liberation Sans", sans-serif' font-size="10.8" font-weight="bold" text-anchor="middle" fill="#111" stroke="#111" stroke-width="0.25">-4</text>
<line x1="138.1" y1="402.0" x2="138.1" y2="407.8" stroke="#aaa" stroke-width="1.4"/>
<text transform="translate(137.3,417.8) scale(1.15,1)" font-family='"Liberation Sans", sans-serif' font-size="10.8" font-weight="bold" text-anchor="middle" fill="#111" stroke="#111" stroke-width="0.25">-2</text>
<line x1="184.4" y1="402.0" x2="184.4" y2="407.8" stroke="#aaa" stroke-width="1.4"/>
<text transform="translate(184.4,417.8) scale(1.15,1)" font-family='"Liberation Sans", sans-serif' font-size="10.8" font-weight="bold" text-anchor="middle" fill="#111" stroke="#111" stroke-width="0.25">2</text>
<clipPath id="c1"><rect x="44.4" y="226.8" width="187.2" height="88.0"/></clipPath>
<clipPath id="c2"><rect x="44.4" y="320.79999999999995" width="187.2" height="88.00000000000003"/></clipPath>
<path d="M44.40 313.79L45.12 311.93L45.85 309.86L46.57 307.60L47.29 305.14L48.01 302.19L48.74 299.03L49.46 296.04L50.18 293.60L50.91 291.73L51.63 290.15L52.35 288.64L53.07 286.95L53.80 284.84L54.52 281.87L55.24 277.73L55.96 272.94L56.69 268.07L57.41 263.06L58.13 257.54L58.86 256.38L59.58 259.31L60.30 262.16L61.02 264.99L61.75 266.92L62.47 266.36L63.19 263.25L63.92 259.35L64.64 256.51L65.36 256.11L66.08 256.40L66.81 256.91L67.53 258.35L68.25 261.34L68.97 263.08L69.70 263.02L70.42 262.83L71.14 262.51L71.87 262.06L72.59 261.47L73.31 260.38L74.03 256.61L74.76 251.62L75.48 246.44L76.20 239.98L76.93 235.48L77.65 235.84L78.37 239.68L79.09 244.71L79.82 251.66L80.54 260.41L81.26 269.51L81.98 280.53L82.71 289.93L83.43 294.30L84.15 297.28L84.88 299.53L85.60 301.13L86.32 302.20L87.04 303.06L87.77 303.79L88.49 304.38L89.21 304.83L89.94 305.15L90.66 305.39L91.38 305.60L92.10 305.79L92.83 305.95L93.55 306.07L94.27 306.15L94.99 306.18L95.72 306.12L96.44 305.97L97.16 305.78L97.89 305.56L98.61 305.36L99.33 305.22L100.05 305.18L100.78 305.42L101.50 305.97L102.22 306.68L102.95 307.40L103.67 308.00L104.39 308.36L105.11 308.69L105.84 308.97L106.56 309.15L107.28 309.15L108.00 308.82L108.73 308.32L109.45 307.90L110.17 307.79L110.90 308.08L111.62 308.56L112.34 309.01L113.06 309.18L113.79 309.01L114.51 308.61L115.23 308.09L115.96 307.53L116.68 307.03L117.40 306.68L118.12 306.58L118.85 306.76L119.57 307.12L120.29 307.55L121.01 307.94L121.74 308.16L122.46 308.10L123.18 307.70L123.91 307.07L124.63 306.35L125.35 305.64L126.07 305.08L126.80 304.79L127.52 304.80L128.24 304.92L128.97 305.10L129.69 305.33L130.41 305.58L131.13 305.82L131.86 306.13L132.58 306.53L133.30 306.96L134.02 307.39L134.75 307.77L135.47 308.05L136.19 308.21L136.92 308.32L137.64 308.42L138.36 308.50L139.08 308.55L139.81 308.58L140.53 308.51L141.25 308.26L141.98 307.89L142.70 307.53L143.42 307.26L144.14 307.19L144.87 307.45L145.59 307.98L146.31 308.62L147.03 309.21L147.76 309.80L148.48 310.48L149.20 311.20L149.93 311.88L150.65 312.49L151.37 312.95L152.09 313.21L152.82 313.38L153.54 313.53L154.26 313.66L154.99 313.74L155.71 313.79L156.43 313.79L157.15 313.79L157.88 313.79L158.60 313.79L159.32 313.79L160.04 313.79L160.77 313.79L161.49 313.79L162.21 313.79L162.94 313.79L163.66 313.79L164.38 313.79L165.10 313.79L165.83 313.79L166.55 313.79L167.27 313.79L168.00 313.79L168.72 313.59L169.44 313.08L170.16 312.44L170.89 311.86L171.61 311.34L172.33 310.81L173.05 310.59L173.78 310.85L174.50 311.39L175.22 311.92L175.95 312.19L176.67 312.06L177.39 311.66L178.11 311.07L178.84 310.36L179.56 309.62L180.28 308.87L181.01 307.78L181.73 306.49L182.45 305.22L183.17 304.24L183.90 303.78L184.62 303.79L185.34 303.87L186.06 303.99L186.79 304.13L187.51 304.36L188.23 304.84L188.96 305.44L189.68 306.03L190.40 306.45L191.12 306.56L191.85 306.02L192.57 304.94L193.29 303.65L194.02 302.50L194.74 301.83L195.46 301.82L196.18 302.09L196.91 302.50L197.63 302.95L198.35 303.40L199.07 304.00L199.80 304.63L200.52 305.07L201.24 305.08L201.97 303.84L202.69 301.53L203.41 298.62L204.13 295.53L204.86 290.31L205.58 284.43L206.30 281.18L207.03 281.12L207.75 281.12L208.47 281.17L209.19 285.96L209.92 293.44L210.64 300.04L211.36 306.66L212.08 310.41L212.81 312.03L213.53 313.07L214.25 313.48L214.98 313.68L215.70 313.78L216.42 313.79L217.14 313.79L217.87 313.79L218.59 313.79L219.31 313.79L220.04 313.79L220.76 313.79L221.48 313.79L222.20 313.79L222.93 313.79L223.65 313.79L224.37 313.79L225.09 313.79L225.82 313.79L226.54 313.79L227.26 313.79L227.99 313.79L228.71 313.79L229.43 313.79L230.15 313.79L230.88 313.79L231.60 313.79" fill="none" stroke="#1f77b4" stroke-width="1.65" stroke-linejoin="round" stroke-linecap="round" clip-path="url(#c1)"/>
<path d="M44.40 313.79L45.12 313.52L45.85 313.25L46.57 312.99L47.29 312.73L48.01 312.47L48.74 312.22L49.46 311.97L50.18 311.73L50.91 311.44L51.63 311.14L52.35 310.84L53.07 310.56L53.80 310.34L54.52 310.21L55.24 310.19L55.96 310.28L56.69 310.45L57.41 310.66L58.13 310.87L58.86 311.05L59.58 311.17L60.30 311.16L61.02 310.86L61.75 310.34L62.47 309.71L63.19 309.08L63.92 308.54L64.64 308.23L65.36 308.19L66.08 308.23L66.81 308.30L67.53 308.38L68.25 308.47L68.97 308.54L69.70 308.58L70.42 308.55L71.14 308.38L71.87 308.09L72.59 307.70L73.31 307.25L74.03 306.78L74.76 306.32L75.48 305.84L76.20 305.18L76.93 304.45L77.65 303.79L78.37 303.32L79.09 303.17L79.82 303.42L80.54 303.95L81.26 304.64L81.98 305.36L82.71 305.98L83.43 306.44L84.15 306.90L84.88 307.37L85.60 307.80L86.32 308.17L87.04 308.44L87.77 308.57L88.49 308.56L89.21 308.47L89.94 308.32L90.66 308.11L91.38 307.86L92.10 307.57L92.83 307.26L93.55 306.87L94.27 306.32L94.99 305.61L95.72 304.79L96.44 303.89L97.16 302.93L97.89 301.46L98.61 299.72L99.33 298.29L100.05 297.76L100.78 298.32L101.50 299.46L102.22 300.60L102.95 301.16L103.67 300.91L104.39 300.21L105.11 299.28L105.84 298.35L106.56 297.52L107.28 296.64L108.00 295.72L108.73 294.78L109.45 293.85L110.17 292.93L110.90 292.00L111.62 291.05L112.34 290.11L113.06 289.21L113.79 288.37L114.51 287.55L115.23 286.64L115.96 285.77L116.68 285.10L117.40 284.75L118.12 285.06L118.85 286.32L119.57 287.98L120.29 289.45L121.01 290.14L121.74 290.25L122.46 290.32L123.18 290.36L123.91 290.41L124.63 290.49L125.35 290.63L126.07 290.95L126.80 291.42L127.52 291.98L128.24 292.57L128.97 293.12L129.69 293.72L130.41 294.45L131.13 295.22L131.86 295.95L132.58 296.58L133.30 297.00L134.02 297.16L134.75 297.00L135.47 296.67L136.19 296.33L136.92 296.16L137.64 296.49L138.36 297.49L139.08 298.88L139.81 300.35L140.53 301.61L141.25 302.38L141.98 302.89L142.70 303.30L143.42 303.73L144.14 304.30L144.87 305.08L145.59 306.03L146.31 307.04L147.03 308.04L147.76 308.92L148.48 309.67L149.20 310.41L149.93 311.10L150.65 311.73L151.37 312.25L152.09 312.63L152.82 312.95L153.54 313.25L154.26 313.50L154.99 313.69L155.71 313.78L156.43 313.79L157.15 313.79L157.88 313.79L158.60 313.79L159.32 313.79L160.04 313.79L160.77 313.79L161.49 313.79L162.21 313.79L162.94 313.79L163.66 313.79L164.38 313.79L165.10 313.79L165.83 313.79L166.55 313.79L167.27 313.79L168.00 313.79L168.72 313.79L169.44 313.79L170.16 313.79L170.89 313.79L171.61 313.79L172.33 313.79L173.05 313.79L173.78 313.79L174.50 313.79L175.22 313.79L175.95 313.79L176.67 313.78L177.39 313.72L178.11 313.64L178.84 313.54L179.56 313.41L180.28 313.28L181.01 313.14L181.73 312.99L182.45 312.85L183.17 312.72L183.90 312.61L184.62 312.51L185.34 312.42L186.06 312.33L186.79 312.24L187.51 312.15L188.23 312.06L188.96 311.96L189.68 311.84L190.40 311.71L191.12 311.57L191.85 311.41L192.57 311.23L193.29 311.04L194.02 310.83L194.74 310.61L195.46 310.37L196.18 310.12L196.91 309.78L197.63 309.37L198.35 308.94L199.07 308.55L199.80 308.24L200.52 308.03L201.24 307.83L201.97 307.64L202.69 307.50L203.41 307.40L204.13 307.38L204.86 307.46L205.58 307.65L206.30 307.90L207.03 308.19L207.75 308.71L208.47 309.49L209.19 310.35L209.92 311.11L210.64 311.75L211.36 312.38L212.08 312.93L212.81 313.32L213.53 313.55L214.25 313.72L214.98 313.79L215.70 313.79L216.42 313.79L217.14 313.79L217.87 313.79L218.59 313.79L219.31 313.79L220.04 313.79L220.76 313.79L221.48 313.79L222.20 313.79L222.93 313.79L223.65 313.79L224.37 313.79L225.09 313.79L225.82 313.79L226.54 313.79L227.26 313.79L227.99 313.79L228.71 313.79L229.43 313.79L230.15 313.79L230.88 313.79L231.60 313.79" fill="none" stroke="#ff1010" stroke-width="1.65" stroke-linejoin="round" stroke-linecap="round" clip-path="url(#c1)"/>
<path d="M44.40 313.79L45.12 313.54L45.85 312.98L46.57 312.18L47.29 311.22L48.01 310.16L48.74 308.61L49.46 306.46L50.18 304.21L50.91 302.36L51.63 300.92L52.35 299.52L53.07 298.38L53.80 297.79L54.52 297.77L55.24 297.84L55.96 297.95L56.69 298.09L57.41 298.30L58.13 298.75L58.86 299.34L59.58 299.94L60.30 300.39L61.02 300.56L61.75 300.53L62.47 300.44L63.19 300.33L63.92 300.24L64.64 300.17L65.36 300.23L66.08 300.64L66.81 301.21L67.53 301.66L68.25 301.74L68.97 301.47L69.70 301.05L70.42 300.68L71.14 300.57L71.87 300.80L72.59 301.28L73.31 301.89L74.03 302.51L74.76 303.03L75.48 303.40L76.20 303.70L76.93 303.98L77.65 304.24L78.37 304.50L79.09 304.78L79.82 305.09L80.54 305.45L81.26 305.85L81.98 306.28L82.71 306.73L83.43 307.20L84.15 307.66L84.88 308.11L85.60 308.58L86.32 309.13L87.04 309.71L87.77 310.26L88.49 310.72L89.21 311.05L89.94 311.19L90.66 311.19L91.38 311.19L92.10 311.19L92.83 311.19L93.55 311.19L94.27 311.19L94.99 311.19L95.72 311.09L96.44 310.81L97.16 310.39L97.89 309.87L98.61 309.30L99.33 308.71L100.05 308.14L100.78 307.49L101.50 306.73L102.22 305.92L102.95 305.14L103.67 304.44L104.39 303.87L105.11 303.28L105.84 302.71L106.56 302.23L107.28 301.89L108.00 301.77L108.73 301.81L109.45 301.93L110.17 302.09L110.90 302.26L111.62 302.42L112.34 302.53L113.06 302.57L113.79 302.49L114.51 302.30L115.23 302.03L115.96 301.70L116.68 301.33L117.40 300.92L118.12 300.29L118.85 299.51L119.57 298.66L120.29 297.85L121.01 297.14L121.74 296.53L122.46 295.94L123.18 295.39L123.91 294.86L124.63 294.38L125.35 293.93L126.07 293.45L126.80 292.97L127.52 292.56L128.24 292.26L128.97 292.15L129.69 292.55L130.41 293.51L131.13 294.54L131.86 295.13L132.58 294.93L133.30 294.16L134.02 293.12L134.75 292.06L135.47 291.09L136.19 289.92L136.92 288.93L137.64 288.54L138.36 289.12L139.08 290.39L139.81 291.81L140.53 293.23L141.25 294.97L141.98 296.29L142.70 296.45L143.42 295.51L144.14 294.20L144.87 293.23L145.59 292.88L146.31 292.64L147.03 292.55L147.76 293.01L148.48 294.12L149.20 295.74L149.93 299.72L150.65 304.45L151.37 307.63L152.09 310.22L152.82 311.96L153.54 312.67L154.26 313.21L154.99 313.58L155.71 313.77L156.43 313.79L157.15 313.79L157.88 313.79L158.60 313.79L159.32 313.79L160.04 313.79L160.77 313.79L161.49 313.79L162.21 313.79L162.94 313.79L163.66 313.79L164.38 313.79L165.10 313.79L165.83 313.79L166.55 313.79L167.27 313.79L168.00 313.79L168.72 313.79L169.44 313.79L170.16 313.79L170.89 313.79L171.61 313.79L172.33 313.79L173.05 313.79L173.78 313.79L174.50 313.79L175.22 313.79L175.95 313.79L176.67 313.79L177.39 313.79L178.11 313.79L178.84 313.79L179.56 313.79L180.28 313.79L181.01 313.79L181.73 313.78L182.45 313.76L183.17 313.74L183.90 313.71L184.62 313.68L185.34 313.65L186.06 313.61L186.79 313.58L187.51 313.54L188.23 313.50L188.96 313.45L189.68 313.41L190.40 313.37L191.12 313.32L191.85 313.26L192.57 313.20L193.29 313.14L194.02 313.07L194.74 312.99L195.46 312.91L196.18 312.82L196.91 312.73L197.63 312.64L198.35 312.54L199.07 312.42L199.80 312.29L200.52 312.14L201.24 311.98L201.97 311.83L202.69 311.67L203.41 311.51L204.13 311.36L204.86 311.18L205.58 310.99L206.30 310.84L207.03 310.79L207.75 311.13L208.47 311.78L209.19 312.30L209.92 312.72L210.64 313.12L211.36 313.43L212.08 313.61L212.81 313.71L213.53 313.78L214.25 313.79L214.98 313.79L215.70 313.79L216.42 313.79L217.14 313.79L217.87 313.79L218.59 313.79L219.31 313.79L220.04 313.79L220.76 313.79L221.48 313.79L222.20 313.79L222.93 313.79L223.65 313.79L224.37 313.79L225.09 313.79L225.82 313.79L226.54 313.79L227.26 313.79L227.99 313.79L228.71 313.79L229.43 313.79L230.15 313.79L230.88 313.79L231.60 313.79" fill="none" stroke="#000" stroke-width="1.65" stroke-linejoin="round" stroke-linecap="round" clip-path="url(#c1)"/>
<path d="M44.40 407.81L45.12 407.81L45.85 407.81L46.57 407.81L47.29 407.81L48.01 407.81L48.74 407.81L49.46 407.81L50.18 407.78L50.91 407.26L51.63 406.33L52.35 405.12L53.07 403.09L53.80 401.13L54.52 399.87L55.24 398.81L55.96 398.32L56.69 398.72L57.41 399.59L58.13 400.27L58.86 400.29L59.58 400.08L60.30 399.84L61.02 399.73L61.75 400.05L62.47 400.78L63.19 401.62L63.92 402.30L64.64 402.76L65.36 403.21L66.08 403.57L66.81 403.76L67.53 403.63L68.25 403.06L68.97 402.19L69.70 401.18L70.42 399.97L71.14 398.17L71.87 396.52L72.59 395.49L73.31 394.64L74.03 393.92L74.76 393.28L75.48 392.63L76.20 391.99L76.93 391.66L77.65 392.89L78.37 395.59L79.09 398.75L79.82 402.10L80.54 404.50L81.26 406.35L81.98 407.07L82.71 407.49L83.43 407.74L84.15 407.81L84.88 407.80L85.60 407.80L86.32 407.79L87.04 407.78L87.77 407.76L88.49 407.74L89.21 407.72L89.94 407.70L90.66 407.67L91.38 407.64L92.10 407.61L92.83 407.58L93.55 407.54L94.27 407.50L94.99 407.46L95.72 407.42L96.44 407.36L97.16 407.26L97.89 407.11L98.61 406.95L99.33 406.77L100.05 406.62L100.78 406.49L101.50 406.41L102.22 406.40L102.95 406.46L103.67 406.58L104.39 406.75L105.11 406.93L105.84 407.10L106.56 407.26L107.28 407.36L108.00 407.40L108.73 407.38L109.45 407.33L110.17 407.26L110.90 407.16L111.62 407.04L112.34 406.92L113.06 406.79L113.79 406.66L114.51 406.53L115.23 406.42L115.96 406.32L116.68 406.25L117.40 406.20L118.12 406.19L118.85 406.22L119.57 406.27L120.29 406.35L121.01 406.45L121.74 406.56L122.46 406.68L123.18 406.80L123.91 406.92L124.63 407.03L125.35 407.13L126.07 407.21L126.80 407.28L127.52 407.35L128.24 407.43L128.97 407.50L129.69 407.57L130.41 407.63L131.13 407.69L131.86 407.74L132.58 407.78L133.30 407.80L134.02 407.81L134.75 407.79L135.47 407.73L136.19 407.66L136.92 407.56L137.64 407.46L138.36 407.35L139.08 407.24L139.81 407.15L140.53 407.07L141.25 407.02L141.98 407.00L142.70 407.03L143.42 407.11L144.14 407.23L144.87 407.38L145.59 407.52L146.31 407.65L147.03 407.75L147.76 407.80L148.48 407.81L149.20 407.81L149.93 407.81L150.65 407.81L151.37 407.81L152.09 407.81L152.82 407.81L153.54 407.81L154.26 407.81L154.99 407.81L155.71 407.81L156.43 407.81L157.15 407.81L157.88 407.81L158.60 407.81L159.32 407.81L160.04 407.81L160.77 407.81L161.49 407.81L162.21 407.81L162.94 407.81L163.66 407.81L164.38 407.81L165.10 407.81L165.83 407.81L166.55 407.81L167.27 407.81L168.00 407.81L168.72 407.81L169.44 407.81L170.16 407.81L170.89 407.81L171.61 407.81L172.33 407.81L173.05 407.81L173.78 407.81L174.50 407.79L175.22 407.73L175.95 407.62L176.67 407.48L177.39 407.29L178.11 407.08L178.84 406.85L179.56 406.50L180.28 405.90L181.01 405.20L181.73 404.56L182.45 404.08L183.17 403.60L183.90 403.25L184.62 403.18L185.34 403.35L186.06 403.65L186.79 403.99L187.51 404.27L188.23 404.40L188.96 404.47L189.68 404.52L190.40 404.56L191.12 404.60L191.85 404.63L192.57 404.67L193.29 404.72L194.02 404.78L194.74 404.88L195.46 405.01L196.18 405.17L196.91 405.33L197.63 405.49L198.35 405.63L199.07 405.73L199.80 405.79L200.52 405.76L201.24 405.65L201.97 405.49L202.69 405.33L203.41 405.22L204.13 405.19L204.86 405.35L205.58 405.66L206.30 406.05L207.03 406.40L207.75 406.80L208.47 407.25L209.19 407.62L209.92 407.80L210.64 407.81L211.36 407.81L212.08 407.81L212.81 407.81L213.53 407.81L214.25 407.81L214.98 407.81L215.70 407.81L216.42 407.81L217.14 407.81L217.87 407.81L218.59 407.81L219.31 407.81L220.04 407.81L220.76 407.81L221.48 407.81L222.20 407.81L222.93 407.81L223.65 407.81L224.37 407.81L225.09 407.81L225.82 407.81L226.54 407.81L227.26 407.81L227.99 407.81L228.71 407.81L229.43 407.81L230.15 407.81L230.88 407.81L231.60 407.81" fill="none" stroke="#1f77b4" stroke-width="1.65" stroke-linejoin="round" stroke-linecap="round" clip-path="url(#c2)"/>
<path d="M44.40 407.81L45.12 406.86L45.85 404.40L46.57 400.98L47.29 396.84L48.01 389.90L48.74 381.52L49.46 372.91L50.18 363.16L50.91 355.09L51.63 349.53L52.35 346.29L53.07 345.92L53.80 346.06L54.52 349.49L55.24 353.61L55.96 358.19L56.69 362.27L57.41 364.50L58.13 365.88L58.86 365.57L59.58 363.66L60.30 361.49L61.02 358.95L61.75 356.00L62.47 352.76L63.19 349.27L63.92 344.53L64.64 340.28L65.36 338.62L66.08 337.86L66.81 338.15L67.53 339.68L68.25 339.94L68.97 337.30L69.70 333.63L70.42 328.82L71.14 324.34L71.87 321.18L72.59 314.48L73.31 302.83L74.03 289.15L74.76 276.43L75.48 267.67L76.20 265.77L76.93 270.69L77.65 280.30L78.37 292.64L79.09 305.78L79.82 317.77L80.54 327.98L81.26 337.35L81.98 345.86L82.71 353.54L83.43 360.31L84.15 366.77L84.88 372.39L85.60 376.51L86.32 379.64L87.04 381.84L87.77 381.88L88.49 380.11L89.21 377.82L89.94 374.45L90.66 370.50L91.38 367.15L92.10 365.14L92.83 363.68L93.55 362.33L94.27 360.78L94.99 359.28L95.72 357.35L96.44 353.83L97.16 347.27L97.89 339.40L98.61 331.50L99.33 321.56L100.05 303.36L100.78 274.40L101.50 240.24L102.22 206.47L102.95 178.69L103.67 162.53L104.39 160.53L105.11 160.53L105.84 160.53L106.56 160.53L107.28 160.53L108.00 160.53L108.73 160.53L109.45 160.53L110.17 160.53L110.90 160.53L111.62 160.53L112.34 160.53L113.06 160.53L113.79 160.53L114.51 160.53L115.23 160.53L115.96 160.53L116.68 160.53L117.40 160.53L118.12 160.53L118.85 160.53L119.57 160.53L120.29 160.53L121.01 160.53L121.74 160.53L122.46 160.53L123.18 160.53L123.91 160.53L124.63 160.53L125.35 160.53L126.07 160.53L126.80 160.53L127.52 160.53L128.24 160.53L128.97 160.53L129.69 160.53L130.41 160.53L131.13 160.53L131.86 160.53L132.58 160.53L133.30 160.53L134.02 160.53L134.75 160.53L135.47 160.53L136.19 160.53L136.92 160.53L137.64 160.53L138.36 160.53L139.08 160.53L139.81 160.53L140.53 160.53L141.25 160.53L141.98 160.53L142.70 160.53L143.42 160.53L144.14 160.53L144.87 160.53L145.59 166.03L146.31 185.24L147.03 213.77L147.76 246.94L148.48 280.08L149.20 308.50L149.93 327.94L150.65 344.32L151.37 363.16L152.09 379.15L152.82 392.37L153.54 400.35L154.26 405.38L154.99 406.92L155.71 407.73L156.43 407.81L157.15 407.81L157.88 407.81L158.60 407.81L159.32 407.81L160.04 407.81L160.77 407.81L161.49 407.81L162.21 407.81L162.94 407.81L163.66 407.81L164.38 407.81L165.10 407.81L165.83 407.81L166.55 407.81L167.27 407.81L168.00 407.81L168.72 407.81L169.44 407.81L170.16 407.77L170.89 407.00L171.61 405.85L172.33 405.19L173.05 405.28L173.78 405.51L174.50 405.73L175.22 405.78L175.95 405.72L176.67 405.58L177.39 405.38L178.11 405.13L178.84 404.49L179.56 403.41L180.28 402.09L181.01 400.73L181.73 398.99L182.45 396.90L183.17 395.20L183.90 394.52L184.62 394.25L185.34 394.06L186.06 393.83L186.79 393.37L187.51 392.45L188.23 391.52L188.96 391.05L189.68 391.53L190.40 392.69L191.12 393.94L191.85 394.66L192.57 394.14L193.29 392.32L194.02 390.02L194.74 388.07L195.46 386.97L196.18 386.06L196.91 385.61L197.63 385.71L198.35 385.96L199.07 386.18L199.80 385.93L200.52 384.41L201.24 382.42L201.97 381.00L202.69 380.42L203.41 380.00L204.13 379.39L204.86 378.09L205.58 376.80L206.30 376.64L207.03 377.72L207.75 379.89L208.47 384.86L209.19 389.86L209.92 394.67L210.64 399.05L211.36 402.20L212.08 404.84L212.81 406.57L213.53 407.22L214.25 407.64L214.98 407.81L215.70 407.81L216.42 407.81L217.14 407.81L217.87 407.81L218.59 407.81L219.31 407.81L220.04 407.81L220.76 407.81L221.48 407.81L222.20 407.81L222.93 407.81L223.65 407.81L224.37 407.81L225.09 407.81L225.82 407.81L226.54 407.81L227.26 407.81L227.99 407.81L228.71 407.81L229.43 407.81L230.15 407.81L230.88 407.81L231.60 407.81" fill="none" stroke="#ff1010" stroke-width="1.65" stroke-linejoin="round" stroke-linecap="round" clip-path="url(#c2)"/>
<path d="M44.40 407.81L45.12 407.81L45.85 407.81L46.57 407.81L47.29 407.81L48.01 407.81L48.74 407.81L49.46 407.81L50.18 407.81L50.91 407.81L51.63 407.81L52.35 407.81L53.07 407.81L53.80 407.81L54.52 407.81L55.24 407.81L55.96 407.81L56.69 407.81L57.41 407.81L58.13 407.81L58.86 407.81L59.58 407.81L60.30 407.81L61.02 407.81L61.75 407.81L62.47 407.81L63.19 407.81L63.92 407.81L64.64 407.81L65.36 407.81L66.08 407.81L66.81 407.81L67.53 407.81L68.25 407.81L68.97 407.81L69.70 407.81L70.42 407.81L71.14 407.81L71.87 407.81L72.59 407.81L73.31 407.81L74.03 407.81L74.76 407.81L75.48 407.81L76.20 407.81L76.93 407.81L77.65 407.81L78.37 407.81L79.09 407.81L79.82 407.81L80.54 407.81L81.26 407.81L81.98 407.81L82.71 407.81L83.43 407.81L84.15 407.81L84.88 407.81L85.60 407.81L86.32 407.81L87.04 407.81L87.77 407.81L88.49 407.81L89.21 407.81L89.94 407.81L90.66 407.81L91.38 407.81L92.10 407.81L92.83 407.81L93.55 407.81L94.27 407.81L94.99 407.81L95.72 407.81L96.44 407.81L97.16 407.81L97.89 407.81L98.61 407.81L99.33 407.81L100.05 407.81L100.78 407.81L101.50 407.81L102.22 407.81L102.95 407.81L103.67 407.81L104.39 407.81L105.11 407.81L105.84 407.81L106.56 407.81L107.28 407.81L108.00 407.81L108.73 407.81L109.45 407.81L110.17 407.81L110.90 407.81L111.62 407.81L112.34 407.81L113.06 407.81L113.79 407.81L114.51 407.81L115.23 407.81L115.96 407.81L116.68 407.81L117.40 407.81L118.12 407.81L118.85 407.81L119.57 407.81L120.29 407.81L121.01 407.81L121.74 407.81L122.46 407.81L123.18 407.81L123.91 407.81L124.63 407.81L125.35 407.81L126.07 407.81L126.80 407.81L127.52 407.81L128.24 407.81L128.97 407.81L129.69 407.81L130.41 407.81L131.13 407.81L131.86 407.81L132.58 407.81L133.30 407.81L134.02 407.81L134.75 407.81L135.47 407.81L136.19 407.81L136.92 407.81L137.64 407.81L138.36 407.81L139.08 407.81L139.81 407.81L140.53 407.81L141.25 407.81L141.98 407.81L142.70 407.81L143.42 407.81L144.14 407.81L144.87 407.81L145.59 407.81L146.31 407.81L147.03 407.81L147.76 407.81L148.48 407.81L149.20 407.81L149.93 407.81L150.65 407.81L151.37 407.81L152.09 407.81L152.82 407.81L153.54 407.81L154.26 407.81L154.99 407.81L155.71 407.81L156.43 407.81L157.15 407.81L157.88 407.81L158.60 407.81L159.32 407.81L160.04 407.81L160.77 407.81L161.49 407.81L162.21 407.81L162.94 407.81L163.66 407.81L164.38 407.81L165.10 407.81L165.83 407.81L166.55 407.81L167.27 407.81L168.00 407.81L168.72 407.81L169.44 407.81L170.16 407.81L170.89 407.81L171.61 407.81L172.33 407.81L173.05 407.81L173.78 407.81L174.50 407.81L175.22 407.81L175.95 407.81L176.67 407.81L177.39 407.81L178.11 407.81L178.84 407.81L179.56 407.81L180.28 407.81L181.01 407.81L181.73 407.81L182.45 407.81L183.17 407.81L183.90 407.81L184.62 407.81L185.34 407.81L186.06 407.81L186.79 407.80L187.51 407.78L188.23 407.75L188.96 407.70L189.68 407.65L190.40 407.58L191.12 407.51L191.85 407.42L192.57 407.26L193.29 406.93L194.02 406.47L194.74 405.97L195.46 405.49L196.18 405.09L196.91 404.72L197.63 404.37L198.35 404.04L199.07 403.74L199.80 403.45L200.52 403.18L201.24 402.95L201.97 402.77L202.69 402.63L203.41 402.50L204.13 402.40L204.86 402.36L205.58 402.53L206.30 403.09L207.03 403.79L207.75 404.87L208.47 406.16L209.19 406.94L209.92 407.44L210.64 407.76L211.36 407.81L212.08 407.81L212.81 407.81L213.53 407.81L214.25 407.81L214.98 407.81L215.70 407.81L216.42 407.81L217.14 407.81L217.87 407.81L218.59 407.81L219.31 407.81L220.04 407.81L220.76 407.81L221.48 407.81L222.20 407.81L222.93 407.81L223.65 407.81L224.37 407.81L225.09 407.81L225.82 407.81L226.54 407.81L227.26 407.81L227.99 407.81L228.71 407.81L229.43 407.81L230.15 407.81L230.88 407.81L231.60 407.81" fill="none" stroke="#000" stroke-width="1.65" stroke-linejoin="round" stroke-linecap="round" clip-path="url(#c2)"/>
<text x="133" y="234.4" font-family='"Liberation Sans", sans-serif' font-size="9.6" text-anchor="middle" fill="#222">s</text>
<line x1="138" y1="231.4" x2="156.6" y2="231.4" stroke="#1f77b4" stroke-width="1.05"/>
<text x="133" y="246.2" font-family='"Liberation Sans", sans-serif' font-size="9.6" text-anchor="middle" fill="#222">p</text>
<line x1="138" y1="243.2" x2="156.6" y2="243.2" stroke="#ff1010" stroke-width="1.05"/>
<text x="133" y="258.6" font-family='"Liberation Sans", sans-serif' font-size="9.6" text-anchor="middle" fill="#222">d</text>
<line x1="138" y1="255.6" x2="156.6" y2="255.6" stroke="#000" stroke-width="1.05"/>
<text x="196.7" y="248.2" font-family='"Liberation Sans", sans-serif' font-size="13.2" text-anchor="middle" fill="#222">Cd</text>
<text x="196.3" y="342.4" font-family='"Liberation Sans", sans-serif' font-size="13.2" text-anchor="middle" fill="#222">Se</text>
<rect x="280.0" y="226.4" width="187.4" height="87.4" fill="none" stroke="#555" stroke-width="0.9"/>
<line x1="397.5" y1="226.4" x2="397.5" y2="313.8" stroke="#666" stroke-width="0.7" stroke-dasharray="0.8 1.2"/>
<text x="273.8" y="316.4" font-family='"Liberation Sans", sans-serif' font-size="8.6" text-anchor="end" fill="#222">0</text>
<line x1="280.0" y1="291.9" x2="281.6" y2="291.9" stroke="#444" stroke-width="0.7"/>
<line x1="465.79999999999995" y1="291.9" x2="467.4" y2="291.9" stroke="#444" stroke-width="0.7"/>
<text x="273.8" y="294.7" font-family='"Liberation Sans", sans-serif' font-size="8.6" text-anchor="end" fill="#222">0.1</text>
<line x1="280.0" y1="270.1" x2="281.6" y2="270.1" stroke="#444" stroke-width="0.7"/>
<line x1="465.79999999999995" y1="270.1" x2="467.4" y2="270.1" stroke="#444" stroke-width="0.7"/>
<text x="273.8" y="273.1" font-family='"Liberation Sans", sans-serif' font-size="8.6" text-anchor="end" fill="#222">0.2</text>
<line x1="280.0" y1="248.2" x2="281.6" y2="248.2" stroke="#444" stroke-width="0.7"/>
<line x1="465.79999999999995" y1="248.2" x2="467.4" y2="248.2" stroke="#444" stroke-width="0.7"/>
<text x="273.8" y="251.5" font-family='"Liberation Sans", sans-serif' font-size="8.6" text-anchor="end" fill="#222">0.3</text>
<text x="273.8" y="229.8" font-family='"Liberation Sans", sans-serif' font-size="8.6" text-anchor="end" fill="#222">0.4</text>
<rect x="280.0" y="320.4" width="187.4" height="87.4" fill="none" stroke="#555" stroke-width="0.9"/>
<line x1="397.5" y1="320.4" x2="397.5" y2="407.8" stroke="#666" stroke-width="0.7" stroke-dasharray="0.8 1.2"/>
<text x="273.8" y="410.4" font-family='"Liberation Sans", sans-serif' font-size="8.6" text-anchor="end" fill="#222">0</text>
<line x1="280.0" y1="385.9" x2="281.6" y2="385.9" stroke="#444" stroke-width="0.7"/>
<line x1="465.79999999999995" y1="385.9" x2="467.4" y2="385.9" stroke="#444" stroke-width="0.7"/>
<text x="273.8" y="388.7" font-family='"Liberation Sans", sans-serif' font-size="8.6" text-anchor="end" fill="#222">0.1</text>
<line x1="280.0" y1="364.1" x2="281.6" y2="364.1" stroke="#444" stroke-width="0.7"/>
<line x1="465.79999999999995" y1="364.1" x2="467.4" y2="364.1" stroke="#444" stroke-width="0.7"/>
<text x="273.8" y="367.1" font-family='"Liberation Sans", sans-serif' font-size="8.6" text-anchor="end" fill="#222">0.2</text>
<line x1="280.0" y1="342.2" x2="281.6" y2="342.2" stroke="#444" stroke-width="0.7"/>
<line x1="465.79999999999995" y1="342.2" x2="467.4" y2="342.2" stroke="#444" stroke-width="0.7"/>
<text x="273.8" y="345.5" font-family='"Liberation Sans", sans-serif' font-size="8.6" text-anchor="end" fill="#222">0.3</text>
<text x="273.8" y="323.8" font-family='"Liberation Sans", sans-serif' font-size="8.6" text-anchor="end" fill="#222">0.4</text>
<line x1="327.1" y1="402.0" x2="327.1" y2="407.8" stroke="#aaa" stroke-width="1.4"/>
<text transform="translate(326.3,417.8) scale(1.15,1)" font-family='"Liberation Sans", sans-serif' font-size="10.8" font-weight="bold" text-anchor="middle" fill="#111" stroke="#111" stroke-width="0.25">-4</text>
<line x1="374.2" y1="402.0" x2="374.2" y2="407.8" stroke="#aaa" stroke-width="1.4"/>
<text transform="translate(373.4,417.8) scale(1.15,1)" font-family='"Liberation Sans", sans-serif' font-size="10.8" font-weight="bold" text-anchor="middle" fill="#111" stroke="#111" stroke-width="0.25">-2</text>
<line x1="420.5" y1="402.0" x2="420.5" y2="407.8" stroke="#aaa" stroke-width="1.4"/>
<text transform="translate(420.5,417.8) scale(1.15,1)" font-family='"Liberation Sans", sans-serif' font-size="10.8" font-weight="bold" text-anchor="middle" fill="#111" stroke="#111" stroke-width="0.25">2</text>
<clipPath id="c3"><rect x="280.0" y="226.8" width="187.39999999999998" height="88.0"/></clipPath>
<clipPath id="c4"><rect x="280.0" y="320.79999999999995" width="187.39999999999998" height="88.00000000000003"/></clipPath>
<path d="M280.00 313.79L280.72 313.79L281.45 313.79L282.17 313.78L282.89 313.77L283.62 313.75L284.34 313.73L285.06 313.71L285.79 313.68L286.51 313.65L287.24 313.60L287.96 313.56L288.68 313.51L289.41 313.45L290.13 313.37L290.85 312.93L291.58 312.03L292.30 310.78L293.02 308.99L293.75 305.64L294.47 301.07L295.19 294.81L295.92 285.89L296.64 275.49L297.37 262.91L298.09 248.14L298.81 230.72L299.54 213.18L300.26 193.99L300.98 178.89L301.71 174.04L302.43 182.08L303.15 198.00L303.88 215.78L304.60 229.86L305.32 241.19L306.05 247.61L306.77 252.47L307.49 257.78L308.22 263.21L308.94 267.79L309.67 271.36L310.39 274.35L311.11 276.35L311.84 277.80L312.56 278.51L313.28 277.83L314.01 276.09L314.73 271.53L315.45 265.16L316.18 259.43L316.90 257.81L317.62 259.06L318.35 262.20L319.07 270.50L319.80 277.98L320.52 285.08L321.24 291.11L321.97 295.52L322.69 299.32L323.41 302.37L324.14 304.51L324.86 306.14L325.58 307.45L326.31 308.35L327.03 308.84L327.75 309.20L328.48 309.49L329.20 309.73L329.93 309.93L330.65 310.10L331.37 310.27L332.10 310.44L332.82 310.61L333.54 310.77L334.27 310.91L334.99 311.03L335.71 311.12L336.44 311.17L337.16 311.19L337.88 311.19L338.61 311.19L339.33 311.19L340.05 311.19L340.78 311.19L341.50 311.19L342.23 311.19L342.95 311.19L343.67 311.19L344.40 311.19L345.12 311.19L345.84 311.19L346.57 311.19L347.29 311.19L348.01 311.19L348.74 311.07L349.46 310.76L350.18 310.34L350.91 309.86L351.63 309.40L352.36 308.96L353.08 308.41L353.80 307.94L354.53 307.79L355.25 308.05L355.97 308.54L356.70 309.03L357.42 309.36L358.14 309.67L358.87 309.96L359.59 310.22L360.31 310.43L361.04 310.59L361.76 310.71L362.48 310.80L363.21 310.88L363.93 310.95L364.66 311.02L365.38 311.10L366.10 311.20L366.83 311.35L367.55 311.53L368.27 311.72L369.00 311.91L369.72 312.06L370.44 312.16L371.17 312.19L371.89 312.11L372.61 311.97L373.34 311.81L374.06 311.67L374.79 311.59L375.51 311.61L376.23 311.68L376.96 311.80L377.68 311.94L378.40 312.09L379.13 312.21L379.85 312.33L380.57 312.45L381.30 312.58L382.02 312.71L382.74 312.83L383.47 312.96L384.19 313.07L384.92 313.18L385.64 313.29L386.36 313.40L387.09 313.52L387.81 313.62L388.53 313.71L389.26 313.77L389.98 313.79L390.70 313.79L391.43 313.79L392.15 313.79L392.87 313.79L393.60 313.79L394.32 313.79L395.04 313.79L395.77 313.79L396.49 313.79L397.22 313.79L397.94 313.79L398.66 313.79L399.39 313.79L400.11 313.79L400.83 313.79L401.56 313.79L402.28 313.79L403.00 313.79L403.73 313.79L404.45 313.79L405.17 313.79L405.90 313.79L406.62 313.79L407.35 313.79L408.07 313.79L408.79 313.79L409.52 313.79L410.24 313.79L410.96 313.79L411.69 313.79L412.41 313.79L413.13 313.77L413.86 313.06L414.58 311.74L415.30 310.35L416.03 308.86L416.75 307.24L417.47 306.58L418.20 306.71L418.92 306.98L419.65 307.32L420.37 307.96L421.09 308.51L421.82 308.41L422.54 307.42L423.26 305.90L423.99 304.20L424.71 301.95L425.43 299.02L426.16 296.31L426.88 294.58L427.60 293.23L428.33 292.55L429.05 293.31L429.78 295.20L430.50 296.99L431.22 298.09L431.95 299.10L432.67 299.99L433.39 300.71L434.12 301.24L434.84 301.65L435.56 302.02L436.29 302.35L437.01 302.63L437.73 302.87L438.46 303.06L439.18 303.20L439.91 303.33L440.63 303.46L441.35 303.57L442.08 303.66L442.80 303.72L443.52 303.76L444.25 303.77L444.97 303.72L445.69 303.61L446.42 303.45L447.14 303.22L447.86 302.93L448.59 302.58L449.31 301.29L450.03 298.63L450.76 295.29L451.48 291.04L452.21 284.97L452.93 280.70L453.65 279.32L454.38 278.57L455.10 279.65L455.82 283.77L456.55 288.59L457.27 295.02L457.99 300.14L458.72 303.06L459.44 305.25L460.16 306.32L460.89 306.80L461.61 307.11L462.34 307.40L463.06 307.82L463.78 308.44L464.51 309.19L465.23 310.00L465.95 310.81L466.68 311.68L467.40 312.59" fill="none" stroke="#1f77b4" stroke-width="1.65" stroke-linejoin="round" stroke-linecap="round" clip-path="url(#c3)"/>
<path d="M280.00 313.79L280.72 313.79L281.45 313.79L282.17 313.78L282.89 313.77L283.62 313.75L284.34 313.73L285.06 313.71L285.79 313.69L286.51 313.66L287.24 313.63L287.96 313.59L288.68 313.55L289.41 313.50L290.13 313.46L290.85 313.40L291.58 313.30L292.30 313.08L293.02 312.76L293.75 312.40L294.47 312.04L295.19 311.70L295.92 311.32L296.64 310.91L297.37 310.50L298.09 310.13L298.81 309.84L299.54 309.63L300.26 309.44L300.98 309.28L301.71 309.19L302.43 309.20L303.15 309.32L303.88 309.50L304.60 309.71L305.32 309.92L306.05 310.09L306.77 310.18L307.49 310.17L308.22 310.10L308.94 309.97L309.67 309.79L310.39 309.58L311.11 309.33L311.84 309.06L312.56 308.77L313.28 308.46L314.01 308.06L314.73 307.56L315.45 306.95L316.18 306.20L316.90 305.31L317.62 303.87L318.35 301.58L319.07 298.99L319.80 296.68L320.52 294.81L321.24 293.01L321.97 292.15L322.69 293.20L323.41 295.54L324.14 298.50L324.86 302.30L325.58 304.52L326.31 305.71L327.03 306.61L327.75 307.11L328.48 307.25L329.20 307.32L329.93 307.37L330.65 307.40L331.37 307.44L332.10 307.48L332.82 307.56L333.54 307.72L334.27 308.04L334.99 308.44L335.71 308.83L336.44 309.11L337.16 309.18L337.88 309.03L338.61 308.72L339.33 308.27L340.05 307.74L340.78 306.79L341.50 305.28L342.23 303.32L342.95 300.72L343.67 296.26L344.40 291.31L345.12 287.68L345.84 285.11L346.57 282.97L347.29 281.32L348.01 280.21L348.74 279.44L349.46 278.75L350.18 277.84L350.91 276.28L351.63 273.34L352.36 270.56L353.08 267.95L353.80 267.21L354.53 269.16L355.25 272.51L355.97 279.01L356.70 284.67L357.42 288.59L358.14 291.85L358.87 293.94L359.59 294.92L360.31 295.70L361.04 296.26L361.76 296.54L362.48 296.44L363.21 295.92L363.93 295.08L364.66 294.06L365.38 291.90L366.10 288.88L366.83 286.46L367.55 285.32L368.27 284.47L369.00 284.13L369.72 286.41L370.44 291.06L371.17 294.84L371.89 297.78L372.61 300.23L373.34 301.82L374.06 303.07L374.79 304.09L375.51 304.84L376.23 305.30L376.96 305.65L377.68 305.94L378.40 306.12L379.13 306.17L379.85 305.86L380.57 305.32L381.30 304.80L382.02 304.57L382.74 304.70L383.47 305.02L384.19 305.48L384.92 306.11L385.64 307.39L386.36 308.98L387.09 310.32L387.81 311.51L388.53 312.61L389.26 313.32L389.98 313.61L390.70 313.78L391.43 313.79L392.15 313.79L392.87 313.79L393.60 313.79L394.32 313.79L395.04 313.79L395.77 313.79L396.49 313.79L397.22 313.79L397.94 313.79L398.66 313.79L399.39 313.79L400.11 313.79L400.83 313.79L401.56 313.79L402.28 313.79L403.00 313.79L403.73 313.79L404.45 313.79L405.17 313.79L405.90 313.79L406.62 313.79L407.35 313.79L408.07 313.79L408.79 313.79L409.52 313.79L410.24 313.79L410.96 313.79L411.69 313.79L412.41 313.79L413.13 313.79L413.86 313.79L414.58 313.79L415.30 313.79L416.03 313.79L416.75 313.77L417.47 313.75L418.20 313.72L418.92 313.69L419.65 313.66L420.37 313.62L421.09 313.59L421.82 313.55L422.54 313.51L423.26 313.47L423.99 313.44L424.71 313.40L425.43 313.37L426.16 313.35L426.88 313.32L427.60 313.29L428.33 313.26L429.05 313.23L429.78 313.20L430.50 313.17L431.22 313.14L431.95 313.11L432.67 313.08L433.39 313.06L434.12 313.03L434.84 313.00L435.56 312.97L436.29 312.95L437.01 312.92L437.73 312.90L438.46 312.88L439.18 312.87L439.91 312.85L440.63 312.82L441.35 312.80L442.08 312.77L442.80 312.73L443.52 312.69L444.25 312.65L444.97 312.59L445.69 312.51L446.42 312.35L447.14 312.13L447.86 311.83L448.59 311.44L449.31 310.86L450.03 309.37L450.76 307.22L451.48 304.91L452.21 301.70L452.93 298.40L453.65 296.81L454.38 296.02L455.10 295.81L455.82 298.80L456.55 302.95L457.27 306.03L457.99 308.84L458.72 310.31L459.44 310.98L460.16 311.50L460.89 311.88L461.61 312.12L462.34 312.24L463.06 312.33L463.78 312.40L464.51 312.47L465.23 312.52L465.95 312.56L466.68 312.58L467.40 312.59" fill="none" stroke="#ff1010" stroke-width="1.65" stroke-linejoin="round" stroke-linecap="round" clip-path="url(#c3)"/>
<path d="M280.00 313.79L280.72 313.79L281.45 313.79L282.17 313.78L282.89 313.78L283.62 313.77L284.34 313.75L285.06 313.74L285.79 313.72L286.51 313.70L287.24 313.67L287.96 313.64L288.68 313.61L289.41 313.57L290.13 313.52L290.85 313.48L291.58 313.43L292.30 313.33L293.02 312.87L293.75 312.07L294.47 311.04L295.19 309.82L295.92 307.82L296.64 305.16L297.37 302.30L298.09 299.03L298.81 295.45L299.54 292.73L300.26 290.47L300.98 288.85L301.71 288.76L302.43 290.50L303.15 292.55L303.88 294.80L304.60 297.16L305.32 299.02L306.05 300.32L306.77 301.54L307.49 302.51L308.22 303.08L308.94 303.13L309.67 302.80L310.39 302.21L311.11 301.48L311.84 300.48L312.56 298.71L313.28 296.71L314.01 295.14L314.73 293.94L315.45 293.18L316.18 293.58L316.90 294.98L317.62 296.79L318.35 299.89L319.07 303.14L319.80 305.11L320.52 306.67L321.24 308.00L321.97 309.09L322.69 309.92L323.41 310.50L324.14 311.03L324.86 311.50L325.58 311.87L326.31 312.11L327.03 312.19L327.75 312.18L328.48 312.15L329.20 312.11L329.93 312.06L330.65 311.99L331.37 311.93L332.10 311.87L332.82 311.80L333.54 311.75L334.27 311.70L334.99 311.65L335.71 311.60L336.44 311.53L337.16 311.46L337.88 311.37L338.61 311.26L339.33 311.09L340.05 310.68L340.78 310.04L341.50 309.21L342.23 308.27L342.95 307.25L343.67 305.93L344.40 304.14L345.12 302.22L345.84 300.48L346.57 299.05L347.29 297.66L348.01 296.42L348.74 295.43L349.46 294.77L350.18 294.33L350.91 293.95L351.63 293.47L352.36 292.63L353.08 291.02L353.80 289.82L354.53 290.33L355.25 292.22L355.97 294.17L356.70 296.58L357.42 298.77L358.14 299.88L358.87 300.41L359.59 300.82L360.31 301.08L361.04 301.16L361.76 300.46L362.48 298.80L363.21 296.61L363.93 294.35L364.66 291.77L365.38 288.57L366.10 285.60L366.83 283.60L367.55 282.02L368.27 281.14L369.00 281.77L369.72 283.69L370.44 285.94L371.17 289.20L371.89 292.72L372.61 295.18L373.34 296.67L374.06 297.88L374.79 298.52L375.51 298.52L376.23 298.31L376.96 297.95L377.68 297.43L378.40 296.23L379.13 292.70L379.85 288.78L380.57 285.63L381.30 282.59L382.02 281.11L382.74 280.88L383.47 280.75L384.19 280.76L384.92 281.57L385.64 283.15L386.36 285.77L387.09 291.67L387.81 298.56L388.53 305.02L389.26 310.65L389.98 312.61L390.70 313.68L391.43 313.79L392.15 313.79L392.87 313.79L393.60 313.79L394.32 313.79L395.04 313.79L395.77 313.79L396.49 313.79L397.22 313.79L397.94 313.79L398.66 313.79L399.39 313.79L400.11 313.79L400.83 313.79L401.56 313.79L402.28 313.79L403.00 313.79L403.73 313.79L404.45 313.79L405.17 313.79L405.90 313.79L406.62 313.79L407.35 313.79L408.07 313.79L408.79 313.79L409.52 313.79L410.24 313.79L410.96 313.79L411.69 313.79L412.41 313.79L413.13 313.79L413.86 313.79L414.58 313.79L415.30 313.79L416.03 313.79L416.75 313.79L417.47 313.79L418.20 313.78L418.92 313.78L419.65 313.78L420.37 313.77L421.09 313.77L421.82 313.76L422.54 313.75L423.26 313.74L423.99 313.74L424.71 313.73L425.43 313.72L426.16 313.71L426.88 313.70L427.60 313.69L428.33 313.68L429.05 313.67L429.78 313.66L430.50 313.65L431.22 313.64L431.95 313.63L432.67 313.62L433.39 313.61L434.12 313.60L434.84 313.59L435.56 313.59L436.29 313.58L437.01 313.57L437.73 313.56L438.46 313.56L439.18 313.55L439.91 313.54L440.63 313.53L441.35 313.52L442.08 313.51L442.80 313.50L443.52 313.49L444.25 313.47L444.97 313.46L445.69 313.44L446.42 313.41L447.14 313.39L447.86 313.32L448.59 313.20L449.31 313.03L450.03 312.80L450.76 312.50L451.48 311.67L452.21 310.61L452.93 309.91L453.65 309.35L454.38 309.22L455.10 309.94L455.82 310.97L456.55 311.89L457.27 312.86L457.99 313.39L458.72 313.50L459.44 313.60L460.16 313.67L460.89 313.73L461.61 313.77L462.34 313.79L463.06 313.79L463.78 313.79L464.51 313.79L465.23 313.79L465.95 313.79L466.68 313.79L467.40 313.79" fill="none" stroke="#000" stroke-width="1.65" stroke-linejoin="round" stroke-linecap="round" clip-path="url(#c3)"/>
<path d="M280.00 407.81L280.72 407.81L281.45 407.81L282.17 407.81L282.89 407.81L283.62 407.81L284.34 407.81L285.06 407.81L285.79 407.81L286.51 407.81L287.24 407.81L287.96 407.81L288.68 407.81L289.41 407.81L290.13 407.81L290.85 407.81L291.58 407.81L292.30 407.81L293.02 407.81L293.75 407.81L294.47 407.81L295.19 407.81L295.92 407.81L296.64 407.50L297.37 406.67L298.09 405.66L298.81 404.15L299.54 402.48L300.26 401.48L300.98 400.80L301.71 400.38L302.43 400.36L303.15 400.47L303.88 400.61L304.60 400.72L305.32 400.74L306.05 400.71L306.77 400.66L307.49 400.58L308.22 400.48L308.94 400.35L309.67 400.02L310.39 399.36L311.11 398.59L311.84 397.41L312.56 396.06L313.28 395.15L314.01 394.86L314.73 394.70L315.45 395.30L316.18 397.59L316.90 399.32L317.62 400.76L318.35 401.67L319.07 401.36L319.80 399.93L320.52 398.77L321.24 398.46L321.97 398.32L322.69 400.00L323.41 402.80L324.14 404.96L324.86 406.62L325.58 407.34L326.31 407.76L327.03 407.81L327.75 407.81L328.48 407.80L329.20 407.80L329.93 407.80L330.65 407.79L331.37 407.79L332.10 407.78L332.82 407.77L333.54 407.77L334.27 407.76L334.99 407.75L335.71 407.74L336.44 407.73L337.16 407.71L337.88 407.70L338.61 407.69L339.33 407.67L340.05 407.66L340.78 407.64L341.50 407.63L342.23 407.61L342.95 407.59L343.67 407.57L344.40 407.55L345.12 407.53L345.84 407.51L346.57 407.48L347.29 407.46L348.01 407.44L348.74 407.41L349.46 407.38L350.18 407.31L350.91 407.23L351.63 407.13L352.36 407.02L353.08 406.93L353.80 406.85L354.53 406.81L355.25 406.80L355.97 406.84L356.70 406.91L357.42 407.01L358.14 407.12L358.87 407.23L359.59 407.32L360.31 407.38L361.04 407.40L361.76 407.39L362.48 407.35L363.21 407.29L363.93 407.22L364.66 407.14L365.38 407.06L366.10 406.98L366.83 406.91L367.55 406.85L368.27 406.81L369.00 406.80L369.72 406.81L370.44 406.84L371.17 406.88L371.89 406.94L372.61 407.00L373.34 407.06L374.06 407.13L374.79 407.19L375.51 407.24L376.23 407.30L376.96 407.37L377.68 407.44L378.40 407.52L379.13 407.59L379.85 407.65L380.57 407.71L381.30 407.76L382.02 407.79L382.74 407.81L383.47 407.81L384.19 407.81L384.92 407.81L385.64 407.81L386.36 407.81L387.09 407.81L387.81 407.81L388.53 407.81L389.26 407.81L389.98 407.81L390.70 407.81L391.43 407.81L392.15 407.81L392.87 407.81L393.60 407.81L394.32 407.81L395.04 407.81L395.77 407.81L396.49 407.81L397.22 407.81L397.94 407.81L398.66 407.81L399.39 407.81L400.11 407.81L400.83 407.81L401.56 407.81L402.28 407.81L403.00 407.81L403.73 407.81L404.45 407.81L405.17 407.81L405.90 407.81L406.62 407.81L407.35 407.81L408.07 407.81L408.79 407.81L409.52 407.81L410.24 407.81L410.96 407.81L411.69 407.81L412.41 407.81L413.13 407.81L413.86 407.81L414.58 407.48L415.30 406.49L416.03 405.37L416.75 404.69L417.47 404.26L418.20 403.92L418.92 403.77L419.65 403.94L420.37 404.38L421.09 404.87L421.82 405.17L422.54 405.11L423.26 404.85L423.99 404.48L424.71 404.12L425.43 403.85L426.16 403.77L426.88 403.77L427.60 403.77L428.33 403.77L429.05 403.77L429.78 403.77L430.50 403.77L431.22 403.77L431.95 403.79L432.67 403.84L433.39 403.90L434.12 403.97L434.84 404.05L435.56 404.14L436.29 404.21L437.01 404.28L437.73 404.33L438.46 404.37L439.18 404.37L439.91 404.37L440.63 404.35L441.35 404.32L442.08 404.28L442.80 404.23L443.52 404.17L444.25 404.10L444.97 404.03L445.69 403.94L446.42 403.85L447.14 403.75L447.86 403.58L448.59 403.31L449.31 402.95L450.03 402.50L450.76 401.95L451.48 401.07L452.21 399.44L452.93 397.84L453.65 396.50L454.38 395.70L455.10 396.56L455.82 398.32L456.55 400.18L457.27 402.36L457.99 403.76L458.72 404.32L459.44 404.76L460.16 405.05L460.89 405.18L461.61 405.03L462.34 404.59L463.06 404.10L463.78 403.79L464.51 403.91L465.23 404.46L465.95 405.14L466.68 405.88L467.40 406.80" fill="none" stroke="#1f77b4" stroke-width="1.65" stroke-linejoin="round" stroke-linecap="round" clip-path="url(#c4)"/>
<path d="M280.00 407.81L280.72 407.81L281.45 407.80L282.17 407.80L282.89 407.79L283.62 407.77L284.34 407.75L285.06 407.73L285.79 407.70L286.51 407.67L287.24 407.63L287.96 407.58L288.68 407.52L289.41 407.46L290.13 407.33L290.85 405.20L291.58 401.25L292.30 396.79L293.02 390.90L293.75 383.74L294.47 375.92L295.19 367.41L295.92 357.73L296.64 347.68L297.37 337.14L298.09 326.91L298.81 316.96L299.54 301.29L300.26 283.79L300.98 270.05L301.71 265.65L302.43 273.45L303.15 288.98L303.88 306.54L304.60 320.41L305.32 329.25L306.05 337.13L306.77 344.25L307.49 350.87L308.22 356.04L308.94 355.88L309.67 354.25L310.39 351.67L311.11 346.74L311.84 341.27L312.56 336.81L313.28 332.61L314.01 328.03L314.73 322.32L315.45 317.26L316.18 312.86L316.90 312.75L317.62 318.18L318.35 321.67L319.07 323.01L319.80 321.18L320.52 316.39L321.24 311.93L321.97 314.41L322.69 322.89L323.41 348.33L324.14 360.39L324.86 370.18L325.58 375.25L326.31 377.57L327.03 379.04L327.75 379.94L328.48 380.61L329.20 381.14L329.93 381.58L330.65 381.98L331.37 382.39L332.10 382.83L332.82 383.28L333.54 383.67L334.27 383.98L334.99 384.16L335.71 384.09L336.44 383.28L337.16 382.01L337.88 380.73L338.61 379.77L339.33 378.81L340.05 377.39L340.78 374.58L341.50 369.52L342.23 357.12L342.95 337.51L343.67 308.93L344.40 270.62L345.12 227.96L345.84 189.84L346.57 165.17L347.29 160.53L348.01 160.53L348.74 160.53L349.46 160.53L350.18 160.53L350.91 160.53L351.63 160.53L352.36 160.53L353.08 160.53L353.80 160.53L354.53 160.53L355.25 160.53L355.97 160.53L356.70 160.53L357.42 160.53L358.14 160.53L358.87 160.53L359.59 160.53L360.31 160.53L361.04 160.53L361.76 160.53L362.48 160.53L363.21 160.53L363.93 160.53L364.66 160.53L365.38 160.53L366.10 160.53L366.83 160.53L367.55 160.53L368.27 160.53L369.00 160.53L369.72 160.53L370.44 160.53L371.17 160.53L371.89 160.53L372.61 160.53L373.34 160.53L374.06 160.53L374.79 160.53L375.51 160.53L376.23 160.53L376.96 160.53L377.68 160.53L378.40 160.53L379.13 160.53L379.85 160.53L380.57 160.53L381.30 160.53L382.02 160.53L382.74 160.53L383.47 160.53L384.19 160.53L384.92 160.53L385.64 170.79L386.36 201.69L387.09 244.13L387.81 288.79L388.53 326.71L389.26 358.85L389.98 384.10L390.70 399.39L391.43 405.46L392.15 407.80L392.87 407.81L393.60 407.81L394.32 407.81L395.04 407.81L395.77 407.81L396.49 407.81L397.22 407.81L397.94 407.81L398.66 407.81L399.39 407.81L400.11 407.81L400.83 407.81L401.56 407.81L402.28 407.81L403.00 407.81L403.73 407.81L404.45 407.81L405.17 407.81L405.90 407.81L406.62 407.81L407.35 407.81L408.07 407.81L408.79 407.81L409.52 407.81L410.24 407.81L410.96 407.81L411.69 407.81L412.41 407.81L413.13 407.81L413.86 407.81L414.58 407.55L415.30 406.75L416.03 405.83L416.75 405.23L417.47 405.22L418.20 405.39L418.92 405.61L419.65 405.76L420.37 405.77L421.09 405.62L421.82 405.36L422.54 405.02L423.26 404.59L423.99 403.71L424.71 402.54L425.43 401.40L426.16 400.60L426.88 399.94L427.60 399.38L428.33 399.13L429.05 399.35L429.78 399.91L430.50 400.49L431.22 400.80L431.95 401.00L432.67 401.18L433.39 401.34L434.12 401.48L434.84 401.60L435.56 401.68L436.29 401.73L437.01 401.75L437.73 401.75L438.46 401.75L439.18 401.75L439.91 401.75L440.63 401.75L441.35 401.75L442.08 401.75L442.80 401.75L443.52 401.75L444.25 401.75L444.97 401.75L445.69 401.73L446.42 401.67L447.14 401.56L447.86 401.40L448.59 401.19L449.31 400.94L450.03 400.62L450.76 400.19L451.48 398.29L452.21 395.72L452.93 394.02L453.65 392.68L454.38 392.35L455.10 393.96L455.82 396.25L456.55 398.15L457.27 400.07L457.99 401.14L458.72 401.42L459.44 401.62L460.16 401.73L460.89 401.66L461.61 400.84L462.34 399.76L463.06 399.10L463.78 398.85L464.51 398.72L465.23 399.69L465.95 402.01L466.68 404.13L467.40 406.39" fill="none" stroke="#ff1010" stroke-width="1.65" stroke-linejoin="round" stroke-linecap="round" clip-path="url(#c4)"/>
<path d="M280.00 407.81L280.72 407.81L281.45 407.81L282.17 407.81L282.89 407.81L283.62 407.81L284.34 407.81L285.06 407.81L285.79 407.81L286.51 407.81L287.24 407.81L287.96 407.81L288.68 407.81L289.41 407.81L290.13 407.81L290.85 407.81L291.58 407.81L292.30 407.81L293.02 407.81L293.75 407.81L294.47 407.81L295.19 407.80L295.92 407.72L296.64 407.55L297.37 407.34L298.09 407.13L298.81 406.94L299.54 406.82L300.26 406.81L300.98 406.93L301.71 407.12L302.43 407.31L303.15 407.42L303.88 407.49L304.60 407.57L305.32 407.63L306.05 407.69L306.77 407.74L307.49 407.77L308.22 407.80L308.94 407.81L309.67 407.79L310.39 407.72L311.11 407.63L311.84 407.53L312.56 407.42L313.28 407.32L314.01 407.25L314.73 407.20L315.45 407.21L316.18 407.26L316.90 407.34L317.62 407.45L318.35 407.56L319.07 407.66L319.80 407.74L320.52 407.80L321.24 407.81L321.97 407.81L322.69 407.81L323.41 407.81L324.14 407.81L324.86 407.81L325.58 407.81L326.31 407.81L327.03 407.81L327.75 407.81L328.48 407.81L329.20 407.81L329.93 407.81L330.65 407.81L331.37 407.81L332.10 407.81L332.82 407.81L333.54 407.81L334.27 407.81L334.99 407.81L335.71 407.81L336.44 407.81L337.16 407.81L337.88 407.81L338.61 407.81L339.33 407.81L340.05 407.81L340.78 407.81L341.50 407.81L342.23 407.81L342.95 407.81L343.67 407.81L344.40 407.81L345.12 407.81L345.84 407.81L346.57 407.81L347.29 407.81L348.01 407.81L348.74 407.81L349.46 407.81L350.18 407.81L350.91 407.81L351.63 407.81L352.36 407.81L353.08 407.81L353.80 407.81L354.53 407.81L355.25 407.81L355.97 407.81L356.70 407.81L357.42 407.81L358.14 407.81L358.87 407.81L359.59 407.81L360.31 407.81L361.04 407.81L361.76 407.81L362.48 407.81L363.21 407.81L363.93 407.81L364.66 407.81L365.38 407.81L366.10 407.81L366.83 407.81L367.55 407.81L368.27 407.81L369.00 407.81L369.72 407.81L370.44 407.81L371.17 407.81L371.89 407.81L372.61 407.81L373.34 407.81L374.06 407.81L374.79 407.81L375.51 407.81L376.23 407.81L376.96 407.81L377.68 407.81L378.40 407.81L379.13 407.81L379.85 407.81L380.57 407.81L381.30 407.81L382.02 407.81L382.74 407.81L383.47 407.81L384.19 407.81L384.92 407.81L385.64 407.81L386.36 407.81L387.09 407.81L387.81 407.81L388.53 407.81L389.26 407.81L389.98 407.81L390.70 407.81L391.43 407.81L392.15 407.81L392.87 407.81L393.60 407.81L394.32 407.81L395.04 407.81L395.77 407.81L396.49 407.81L397.22 407.81L397.94 407.81L398.66 407.81L399.39 407.81L400.11 407.81L400.83 407.81L401.56 407.81L402.28 407.81L403.00 407.81L403.73 407.81L404.45 407.81L405.17 407.81L405.90 407.81L406.62 407.81L407.35 407.81L408.07 407.81L408.79 407.81L409.52 407.81L410.24 407.81L410.96 407.81L411.69 407.81L412.41 407.81L413.13 407.81L413.86 407.81L414.58 407.81L415.30 407.81L416.03 407.81L416.75 407.81L417.47 407.81L418.20 407.81L418.92 407.81L419.65 407.78L420.37 407.69L421.09 407.56L421.82 407.40L422.54 407.23L423.26 407.06L423.99 406.92L424.71 406.82L425.43 406.77L426.16 406.72L426.88 406.67L427.60 406.63L428.33 406.59L429.05 406.55L429.78 406.52L430.50 406.49L431.22 406.46L431.95 406.44L432.67 406.42L433.39 406.41L434.12 406.40L434.84 406.39L435.56 406.39L436.29 406.39L437.01 406.39L437.73 406.39L438.46 406.39L439.18 406.39L439.91 406.39L440.63 406.39L441.35 406.39L442.08 406.39L442.80 406.39L443.52 406.39L444.25 406.39L444.97 406.39L445.69 406.37L446.42 406.31L447.14 406.21L447.86 406.07L448.59 405.89L449.31 405.67L450.03 405.41L450.76 405.09L451.48 404.16L452.21 402.91L452.93 401.94L453.65 401.04L454.38 400.78L455.10 401.62L455.82 402.89L456.55 404.16L457.27 405.61L457.99 406.39L458.72 406.50L459.44 406.58L460.16 406.63L460.89 406.67L461.61 406.71L462.34 406.75L463.06 406.80L463.78 406.87L464.51 406.93L465.23 407.00L465.95 407.06L466.68 407.13L467.40 407.20" fill="none" stroke="#000" stroke-width="1.65" stroke-linejoin="round" stroke-linecap="round" clip-path="url(#c4)"/>
<text x="367.4" y="234.6" font-family='"Liberation Sans", sans-serif' font-size="9.6" text-anchor="middle" fill="#222">s</text>
<line x1="373" y1="231.6" x2="391" y2="231.6" stroke="#1f77b4" stroke-width="1.05"/>
<text x="367.4" y="246.6" font-family='"Liberation Sans", sans-serif' font-size="9.6" text-anchor="middle" fill="#222">p</text>
<line x1="373" y1="243.6" x2="391" y2="243.6" stroke="#ff1010" stroke-width="1.05"/>
<text x="367.4" y="259.4" font-family='"Liberation Sans", sans-serif' font-size="9.6" text-anchor="middle" fill="#222">d</text>
<line x1="373" y1="256.4" x2="391" y2="256.4" stroke="#000" stroke-width="1.05"/>
<text x="432.5" y="248.2" font-family='"Liberation Sans", sans-serif' font-size="13.2" text-anchor="middle" fill="#222">Cd</text>
<text x="432.3" y="342.4" font-family='"Liberation Sans", sans-serif' font-size="13.2" text-anchor="middle" fill="#222">Se</text>
<rect x="513.4" y="226.4" width="188.0" height="87.4" fill="none" stroke="#555" stroke-width="0.9"/>
<line x1="630.5" y1="226.4" x2="630.5" y2="313.8" stroke="#666" stroke-width="0.7" stroke-dasharray="0.8 1.2"/>
<text x="507.2" y="316.4" font-family='"Liberation Sans", sans-serif' font-size="8.6" text-anchor="end" fill="#222">0</text>
<line x1="513.4" y1="291.9" x2="515.0" y2="291.9" stroke="#444" stroke-width="0.7"/>
<line x1="699.8" y1="291.9" x2="701.4" y2="291.9" stroke="#444" stroke-width="0.7"/>
<text x="507.2" y="294.7" font-family='"Liberation Sans", sans-serif' font-size="8.6" text-anchor="end" fill="#222">0.1</text>
<line x1="513.4" y1="270.1" x2="515.0" y2="270.1" stroke="#444" stroke-width="0.7"/>
<line x1="699.8" y1="270.1" x2="701.4" y2="270.1" stroke="#444" stroke-width="0.7"/>
<text x="507.2" y="273.1" font-family='"Liberation Sans", sans-serif' font-size="8.6" text-anchor="end" fill="#222">0.2</text>
<line x1="513.4" y1="248.2" x2="515.0" y2="248.2" stroke="#444" stroke-width="0.7"/>
<line x1="699.8" y1="248.2" x2="701.4" y2="248.2" stroke="#444" stroke-width="0.7"/>
<text x="507.2" y="251.5" font-family='"Liberation Sans", sans-serif' font-size="8.6" text-anchor="end" fill="#222">0.3</text>
<text x="507.2" y="229.8" font-family='"Liberation Sans", sans-serif' font-size="8.6" text-anchor="end" fill="#222">0.4</text>
<rect x="513.4" y="320.4" width="188.0" height="87.4" fill="none" stroke="#555" stroke-width="0.9"/>
<line x1="630.5" y1="320.4" x2="630.5" y2="407.8" stroke="#666" stroke-width="0.7" stroke-dasharray="0.8 1.2"/>
<text x="507.2" y="410.4" font-family='"Liberation Sans", sans-serif' font-size="8.6" text-anchor="end" fill="#222">0</text>
<line x1="513.4" y1="385.9" x2="515.0" y2="385.9" stroke="#444" stroke-width="0.7"/>
<line x1="699.8" y1="385.9" x2="701.4" y2="385.9" stroke="#444" stroke-width="0.7"/>
<text x="507.2" y="388.7" font-family='"Liberation Sans", sans-serif' font-size="8.6" text-anchor="end" fill="#222">0.1</text>
<line x1="513.4" y1="364.1" x2="515.0" y2="364.1" stroke="#444" stroke-width="0.7"/>
<line x1="699.8" y1="364.1" x2="701.4" y2="364.1" stroke="#444" stroke-width="0.7"/>
<text x="507.2" y="367.1" font-family='"Liberation Sans", sans-serif' font-size="8.6" text-anchor="end" fill="#222">0.2</text>
<line x1="513.4" y1="342.2" x2="515.0" y2="342.2" stroke="#444" stroke-width="0.7"/>
<line x1="699.8" y1="342.2" x2="701.4" y2="342.2" stroke="#444" stroke-width="0.7"/>
<text x="507.2" y="345.5" font-family='"Liberation Sans", sans-serif' font-size="8.6" text-anchor="end" fill="#222">0.3</text>
<text x="507.2" y="323.8" font-family='"Liberation Sans", sans-serif' font-size="8.6" text-anchor="end" fill="#222">0.4</text>
<line x1="560.1" y1="402.0" x2="560.1" y2="407.8" stroke="#aaa" stroke-width="1.4"/>
<text transform="translate(559.3,417.8) scale(1.15,1)" font-family='"Liberation Sans", sans-serif' font-size="10.8" font-weight="bold" text-anchor="middle" fill="#111" stroke="#111" stroke-width="0.25">-4</text>
<line x1="607.2" y1="402.0" x2="607.2" y2="407.8" stroke="#aaa" stroke-width="1.4"/>
<text transform="translate(606.4,417.8) scale(1.15,1)" font-family='"Liberation Sans", sans-serif' font-size="10.8" font-weight="bold" text-anchor="middle" fill="#111" stroke="#111" stroke-width="0.25">-2</text>
<line x1="653.5" y1="402.0" x2="653.5" y2="407.8" stroke="#aaa" stroke-width="1.4"/>
<text transform="translate(653.5,417.8) scale(1.15,1)" font-family='"Liberation Sans", sans-serif' font-size="10.8" font-weight="bold" text-anchor="middle" fill="#111" stroke="#111" stroke-width="0.25">2</text>
<clipPath id="c5"><rect x="513.4" y="226.8" width="188.0" height="88.0"/></clipPath>
<clipPath id="c6"><rect x="513.4" y="320.79999999999995" width="188.0" height="88.00000000000003"/></clipPath>
<path d="M513.40 313.79L514.13 313.72L514.85 313.51L515.58 313.17L516.30 312.72L517.03 312.16L517.76 310.76L518.48 308.22L519.21 305.05L519.93 300.91L520.66 295.13L521.38 290.22L522.11 286.66L522.84 284.29L523.56 283.90L524.29 283.74L525.01 284.02L525.74 285.00L526.47 284.93L527.19 283.98L527.92 282.52L528.64 280.89L529.37 279.16L530.09 276.66L530.82 274.43L531.55 273.72L532.27 274.22L533.00 275.11L533.72 277.11L534.45 279.03L535.18 277.61L535.90 272.54L536.63 265.82L537.35 255.41L538.08 242.68L538.81 229.31L539.53 219.02L540.26 210.46L540.98 208.29L541.71 214.52L542.43 224.29L543.16 234.48L543.89 246.25L544.61 257.83L545.34 258.94L546.06 251.51L546.79 243.43L547.52 239.48L548.24 236.83L548.97 237.61L549.69 244.53L550.42 254.40L551.15 268.23L551.87 278.27L552.60 286.91L553.32 291.94L554.05 293.30L554.77 294.11L555.50 294.60L556.23 294.84L556.95 295.12L557.68 297.19L558.40 300.97L559.13 303.42L559.86 304.73L560.58 305.72L561.31 306.17L562.03 305.73L562.76 304.57L563.48 303.48L564.21 303.22L564.94 303.89L565.66 304.83L566.39 305.48L567.11 305.98L567.84 306.45L568.57 306.90L569.29 307.38L570.02 307.97L570.74 308.60L571.47 309.17L572.20 309.60L572.92 309.78L573.65 309.76L574.37 309.69L575.10 309.58L575.82 309.44L576.55 309.29L577.28 309.10L578.00 308.74L578.73 308.25L579.45 307.76L580.18 307.37L580.91 307.18L581.63 307.29L582.36 307.61L583.08 307.96L583.81 308.17L584.54 308.08L585.26 307.71L585.99 307.19L586.71 306.67L587.44 306.28L588.16 306.20L588.89 306.69L589.62 307.58L590.34 308.54L591.07 309.23L591.79 309.73L592.52 310.23L593.25 310.66L593.97 310.99L594.70 311.17L595.42 311.15L596.15 310.94L596.87 310.58L597.60 310.13L598.33 309.63L599.05 309.15L599.78 308.46L600.50 307.67L601.23 307.20L601.96 307.47L602.68 308.39L603.41 309.37L604.13 309.81L604.86 309.91L605.59 309.97L606.31 310.02L607.04 310.07L607.76 310.15L608.49 310.32L609.21 310.65L609.94 311.09L610.67 311.55L611.39 311.95L612.12 312.22L612.84 312.42L613.57 312.59L614.30 312.75L615.02 312.89L615.75 313.01L616.47 313.12L617.20 313.22L617.93 313.32L618.65 313.42L619.38 313.52L620.10 313.61L620.83 313.68L621.55 313.74L622.28 313.78L623.01 313.79L623.73 313.79L624.46 313.79L625.18 313.79L625.91 313.79L626.64 313.79L627.36 313.79L628.09 313.79L628.81 313.79L629.54 313.79L630.26 313.79L630.99 313.79L631.72 313.79L632.44 313.79L633.17 313.79L633.89 313.79L634.62 313.79L635.35 313.79L636.07 313.79L636.80 313.79L637.52 313.79L638.25 313.79L638.98 313.79L639.70 313.79L640.43 313.79L641.15 313.79L641.88 313.79L642.60 313.79L643.33 313.79L644.06 313.79L644.78 313.79L645.51 313.46L646.23 312.16L646.96 310.47L647.69 309.04L648.41 307.63L649.14 306.45L649.86 306.24L650.59 306.85L651.32 307.59L652.04 307.99L652.77 308.31L653.49 308.53L654.22 308.52L654.94 307.53L655.67 305.75L656.40 303.70L657.12 301.88L657.85 299.83L658.57 297.61L659.30 295.84L660.03 295.15L660.75 295.29L661.48 295.56L662.20 295.82L662.93 296.13L663.65 296.42L664.38 296.56L665.11 296.01L665.83 294.65L666.56 293.03L667.28 291.57L668.01 289.78L668.74 288.08L669.46 287.16L670.19 287.82L670.91 289.70L671.64 291.19L672.37 292.05L673.09 292.76L673.82 293.13L674.54 292.72L675.27 291.03L675.99 288.43L676.72 285.35L677.45 281.53L678.17 275.46L678.90 268.91L679.62 263.97L680.35 260.32L681.08 258.13L681.80 258.95L682.53 261.75L683.25 267.25L683.98 278.16L684.71 288.01L685.43 297.20L686.16 303.05L686.88 306.64L687.61 308.18L688.33 307.20L689.06 305.30L689.79 303.90L690.51 302.83L691.24 302.19L691.96 302.96L692.69 305.23L693.42 307.47L694.14 310.04L694.87 311.99L695.59 312.90L696.32 313.56L697.04 313.79L697.77 313.79L698.50 313.79L699.22 313.79L699.95 313.79L700.67 313.79L701.40 313.79" fill="none" stroke="#1f77b4" stroke-width="1.65" stroke-linejoin="round" stroke-linecap="round" clip-path="url(#c5)"/>
<path d="M513.40 313.79L514.13 313.76L514.85 313.68L515.58 313.56L516.30 313.39L517.03 313.20L517.76 312.99L518.48 312.76L519.21 312.51L519.93 312.08L520.66 311.51L521.38 310.92L522.11 310.44L522.84 310.19L523.56 310.24L524.29 310.43L525.01 310.69L525.74 310.95L526.47 311.14L527.19 311.18L527.92 311.10L528.64 310.93L529.37 310.73L530.09 310.51L530.82 310.33L531.55 310.21L532.27 310.19L533.00 310.29L533.72 310.46L534.45 310.67L535.18 310.88L535.90 311.06L536.63 311.17L537.35 311.18L538.08 311.12L538.81 311.02L539.53 310.87L540.26 310.69L540.98 310.47L541.71 310.24L542.43 309.99L543.16 309.72L543.89 309.32L544.61 308.76L545.34 308.13L546.06 307.48L546.79 306.88L547.52 306.40L548.24 306.09L548.97 305.90L549.69 305.75L550.42 305.62L551.15 305.46L551.87 305.23L552.60 304.72L553.32 303.75L554.05 302.58L554.77 301.49L555.50 300.74L556.23 300.62L556.95 301.44L557.68 302.67L558.40 303.85L559.13 305.26L559.86 306.15L560.58 306.08L561.31 305.77L562.03 305.42L562.76 305.19L563.48 305.26L564.21 305.61L564.94 306.13L565.66 306.66L566.39 307.05L567.11 307.18L567.84 307.13L568.57 307.03L569.29 306.85L570.02 306.61L570.74 306.30L571.47 305.48L572.20 303.09L572.92 300.03L573.65 297.20L574.37 293.79L575.10 290.49L575.82 288.62L576.55 289.42L577.28 292.24L578.00 295.13L578.73 296.14L579.45 295.62L580.18 294.58L580.91 293.31L581.63 291.73L582.36 289.52L583.08 287.05L583.81 284.69L584.54 282.54L585.26 280.30L585.99 278.21L586.71 276.57L587.44 275.49L588.16 274.68L588.89 274.95L589.62 278.63L590.34 282.86L591.07 287.03L591.79 291.29L592.52 294.84L593.25 297.68L593.97 300.39L594.70 302.41L595.42 303.17L596.15 303.08L596.87 302.83L597.60 302.44L598.33 301.65L599.05 299.06L599.78 295.94L600.50 293.28L601.23 290.54L601.96 289.14L602.68 289.58L603.41 290.70L604.13 292.01L604.86 293.03L605.59 293.52L606.31 293.86L607.04 294.12L607.76 294.41L608.49 294.78L609.21 295.37L609.94 296.60L610.67 298.27L611.39 299.99L612.12 301.35L612.84 302.49L613.57 303.53L614.30 304.45L615.02 305.19L615.75 305.73L616.47 306.14L617.20 306.56L617.93 307.11L618.65 308.00L619.38 309.21L620.10 310.46L620.83 311.49L621.55 312.54L622.28 313.42L623.01 313.79L623.73 313.79L624.46 313.79L625.18 313.79L625.91 313.79L626.64 313.79L627.36 313.79L628.09 313.79L628.81 313.79L629.54 313.79L630.26 313.79L630.99 313.79L631.72 313.79L632.44 313.79L633.17 313.79L633.89 313.79L634.62 313.79L635.35 313.79L636.07 313.79L636.80 313.79L637.52 313.79L638.25 313.79L638.98 313.79L639.70 313.79L640.43 313.79L641.15 313.79L641.88 313.79L642.60 313.79L643.33 313.79L644.06 313.79L644.78 313.79L645.51 313.79L646.23 313.79L646.96 313.78L647.69 313.77L648.41 313.74L649.14 313.71L649.86 313.67L650.59 313.62L651.32 313.58L652.04 313.53L652.77 313.48L653.49 313.43L654.22 313.38L654.94 313.33L655.67 313.28L656.40 313.22L657.12 313.17L657.85 313.10L658.57 313.03L659.30 312.96L660.03 312.87L660.75 312.78L661.48 312.67L662.20 312.55L662.93 312.37L663.65 312.12L664.38 311.82L665.11 311.49L665.83 311.14L666.56 310.79L667.28 310.47L668.01 310.18L668.74 309.93L669.46 309.69L670.19 309.46L670.91 309.24L671.64 309.02L672.37 308.78L673.09 308.53L673.82 308.25L674.54 307.95L675.27 307.62L675.99 307.27L676.72 306.89L677.45 306.49L678.17 306.07L678.90 305.54L679.62 304.99L680.35 304.59L681.08 304.34L681.80 304.18L682.53 304.51L683.25 305.73L683.98 307.14L684.71 308.70L685.43 310.37L686.16 311.31L686.88 311.79L687.61 312.16L688.33 312.42L689.06 312.60L689.79 312.73L690.51 312.83L691.24 312.91L691.96 312.98L692.69 313.04L693.42 313.12L694.14 313.21L694.87 313.34L695.59 313.48L696.32 313.62L697.04 313.73L697.77 313.79L698.50 313.79L699.22 313.79L699.95 313.79L700.67 313.79L701.40 313.79" fill="none" stroke="#ff1010" stroke-width="1.65" stroke-linejoin="round" stroke-linecap="round" clip-path="url(#c5)"/>
<path d="M513.40 313.79L514.13 313.75L514.85 313.62L515.58 313.41L516.30 313.12L517.03 312.77L517.76 312.35L518.48 311.57L519.21 309.82L519.93 307.74L520.66 306.07L521.38 304.63L522.11 303.46L522.84 303.19L523.56 303.38L524.29 303.64L525.01 303.77L525.74 303.51L526.47 302.88L527.19 302.06L527.92 301.25L528.64 300.37L529.37 299.25L530.09 298.17L530.82 297.38L531.55 297.17L532.27 297.70L533.00 298.63L533.72 299.70L534.45 301.21L535.18 301.68L535.90 299.91L536.63 297.26L537.35 295.24L538.08 293.24L538.81 291.65L539.53 291.17L540.26 292.16L540.98 294.00L541.71 296.18L542.43 299.54L543.16 302.58L543.89 304.00L544.61 305.00L545.34 305.73L546.06 306.21L546.79 306.55L547.52 306.83L548.24 307.05L548.97 307.25L549.69 307.43L550.42 307.62L551.15 307.82L551.87 308.02L552.60 308.19L553.32 308.37L554.05 308.55L554.77 308.75L555.50 308.99L556.23 309.29L556.95 309.84L557.68 310.56L558.40 311.29L559.13 311.89L559.86 312.18L560.58 312.10L561.31 311.79L562.03 311.37L562.76 310.95L563.48 310.66L564.21 310.60L564.94 310.75L565.66 311.04L566.39 311.36L567.11 311.64L567.84 311.78L568.57 311.71L569.29 311.40L570.02 310.92L570.74 310.32L571.47 309.66L572.20 308.98L572.92 307.89L573.65 306.59L574.37 305.53L575.10 305.18L575.82 305.29L576.55 305.49L577.28 305.69L578.00 305.78L578.73 305.37L579.45 304.40L580.18 303.25L580.91 302.26L581.63 301.64L582.36 301.14L583.08 300.63L583.81 299.98L584.54 298.87L585.26 297.11L585.99 295.29L586.71 294.00L587.44 293.01L588.16 292.29L588.89 292.38L589.62 294.47L590.34 297.30L591.07 299.73L591.79 302.42L592.52 304.55L593.25 305.27L593.97 305.49L594.70 305.66L595.42 305.75L596.15 305.75L596.87 304.91L597.60 303.21L598.33 301.03L599.05 298.16L599.78 293.62L600.50 289.52L601.23 286.73L601.96 285.14L602.68 286.22L603.41 288.15L604.13 289.97L604.86 291.65L605.59 292.14L606.31 291.94L607.04 291.60L607.76 291.24L608.49 290.93L609.21 290.56L609.94 290.25L610.67 290.14L611.39 290.24L612.12 290.42L612.84 290.54L613.57 289.85L614.30 287.65L615.02 285.14L615.75 283.34L616.47 281.79L617.20 280.99L617.93 280.61L618.65 280.88L619.38 284.65L620.10 291.26L620.83 300.55L621.55 306.69L622.28 311.27L623.01 312.74L623.73 313.46L624.46 313.78L625.18 313.79L625.91 313.79L626.64 313.79L627.36 313.79L628.09 313.79L628.81 313.79L629.54 313.79L630.26 313.79L630.99 313.79L631.72 313.79L632.44 313.79L633.17 313.79L633.89 313.79L634.62 313.79L635.35 313.79L636.07 313.79L636.80 313.79L637.52 313.79L638.25 313.79L638.98 313.79L639.70 313.79L640.43 313.79L641.15 313.79L641.88 313.79L642.60 313.79L643.33 313.79L644.06 313.79L644.78 313.79L645.51 313.79L646.23 313.79L646.96 313.79L647.69 313.79L648.41 313.79L649.14 313.78L649.86 313.78L650.59 313.77L651.32 313.77L652.04 313.76L652.77 313.75L653.49 313.74L654.22 313.73L654.94 313.72L655.67 313.71L656.40 313.70L657.12 313.69L657.85 313.68L658.57 313.66L659.30 313.65L660.03 313.63L660.75 313.62L661.48 313.60L662.20 313.59L662.93 313.57L663.65 313.54L664.38 313.51L665.11 313.48L665.83 313.44L666.56 313.40L667.28 313.35L668.01 313.30L668.74 313.25L669.46 313.20L670.19 313.14L670.91 313.08L671.64 313.02L672.37 312.96L673.09 312.89L673.82 312.81L674.54 312.72L675.27 312.63L675.99 312.53L676.72 312.41L677.45 312.29L678.17 312.15L678.90 311.94L679.62 311.67L680.35 311.41L681.08 311.23L681.80 311.20L682.53 311.42L683.25 311.80L683.98 312.18L684.71 312.56L685.43 312.99L686.16 313.37L686.88 313.58L687.61 313.63L688.33 313.67L689.06 313.70L689.79 313.72L690.51 313.75L691.24 313.76L691.96 313.78L692.69 313.79L693.42 313.79L694.14 313.79L694.87 313.79L695.59 313.79L696.32 313.79L697.04 313.79L697.77 313.79L698.50 313.79L699.22 313.79L699.95 313.79L700.67 313.79L701.40 313.79" fill="none" stroke="#000" stroke-width="1.65" stroke-linejoin="round" stroke-linecap="round" clip-path="url(#c5)"/>
<path d="M513.40 407.81L514.13 407.81L514.85 407.81L515.58 407.81L516.30 407.81L517.03 407.81L517.76 407.81L518.48 407.74L519.21 407.45L519.93 407.03L520.66 406.58L521.38 406.20L522.11 405.81L522.84 405.41L523.56 405.01L524.29 404.62L525.01 404.20L525.74 403.76L526.47 403.35L527.19 403.01L527.92 402.78L528.64 402.66L529.37 402.58L530.09 402.51L530.82 402.40L531.55 401.99L532.27 401.19L533.00 400.74L533.72 400.86L534.45 401.07L535.18 401.08L535.90 399.83L536.63 397.72L537.35 395.79L538.08 394.20L538.81 392.75L539.53 392.29L540.26 393.19L540.98 394.78L541.71 396.42L542.43 398.53L543.16 400.37L543.89 401.32L544.61 402.07L545.34 402.59L546.06 402.76L546.79 402.68L547.52 402.48L548.24 402.17L548.97 401.77L549.69 400.35L550.42 398.11L551.15 397.05L551.87 396.80L552.60 396.70L553.32 397.96L554.05 400.31L554.77 402.48L555.50 404.71L556.23 406.13L556.95 407.12L557.68 407.73L558.40 407.81L559.13 407.80L559.86 407.80L560.58 407.79L561.31 407.78L562.03 407.77L562.76 407.76L563.48 407.74L564.21 407.72L564.94 407.70L565.66 407.68L566.39 407.66L567.11 407.63L567.84 407.60L568.57 407.57L569.29 407.54L570.02 407.50L570.74 407.47L571.47 407.43L572.20 407.38L572.92 407.34L573.65 407.29L574.37 407.24L575.10 407.19L575.82 407.08L576.55 406.89L577.28 406.68L578.00 406.51L578.73 406.40L579.45 406.43L580.18 406.61L580.91 406.86L581.63 407.13L582.36 407.33L583.08 407.40L583.81 407.31L584.54 407.11L585.26 406.82L585.99 406.50L586.71 406.18L587.44 405.89L588.16 405.68L588.89 405.59L589.62 405.69L590.34 406.01L591.07 406.43L591.79 406.85L592.52 407.14L593.25 407.20L593.97 407.17L594.70 407.11L595.42 407.02L596.15 406.92L596.87 406.82L597.60 406.71L598.33 406.60L599.05 406.51L599.78 406.44L600.50 406.40L601.23 406.40L601.96 406.46L602.68 406.59L603.41 406.75L604.13 406.93L604.86 407.11L605.59 407.26L606.31 407.37L607.04 407.40L607.76 407.38L608.49 407.31L609.21 407.22L609.94 407.11L610.67 407.00L611.39 406.90L612.12 406.83L612.84 406.80L613.57 406.82L614.30 406.92L615.02 407.06L615.75 407.24L616.47 407.42L617.20 407.59L617.93 407.72L618.65 407.80L619.38 407.81L620.10 407.81L620.83 407.81L621.55 407.81L622.28 407.81L623.01 407.81L623.73 407.81L624.46 407.81L625.18 407.81L625.91 407.81L626.64 407.81L627.36 407.81L628.09 407.81L628.81 407.81L629.54 407.81L630.26 407.81L630.99 407.81L631.72 407.81L632.44 407.81L633.17 407.81L633.89 407.81L634.62 407.81L635.35 407.81L636.07 407.81L636.80 407.81L637.52 407.81L638.25 407.81L638.98 407.81L639.70 407.81L640.43 407.81L641.15 407.81L641.88 407.81L642.60 407.81L643.33 407.81L644.06 407.81L644.78 407.81L645.51 407.81L646.23 407.80L646.96 407.64L647.69 407.35L648.41 407.01L649.14 406.67L649.86 406.43L650.59 406.27L651.32 406.11L652.04 405.98L652.77 405.87L653.49 405.80L654.22 405.79L654.94 405.84L655.67 405.94L656.40 406.05L657.12 406.14L657.85 406.19L658.57 406.18L659.30 406.12L660.03 406.02L660.75 405.90L661.48 405.75L662.20 405.59L662.93 405.41L663.65 405.24L664.38 405.08L665.11 404.93L665.83 404.80L666.56 404.70L667.28 404.59L668.01 404.50L668.74 404.40L669.46 404.31L670.19 404.21L670.91 404.13L671.64 404.04L672.37 403.95L673.09 403.87L673.82 403.79L674.54 403.71L675.27 403.61L675.99 403.51L676.72 403.42L677.45 403.33L678.17 403.25L678.90 403.20L679.62 403.17L680.35 403.19L681.08 403.36L681.80 403.65L682.53 404.02L683.25 404.41L683.98 404.77L684.71 405.12L685.43 405.52L686.16 405.93L686.88 406.32L687.61 406.65L688.33 406.91L689.06 407.16L689.79 407.41L690.51 407.61L691.24 407.75L691.96 407.81L692.69 407.81L693.42 407.81L694.14 407.81L694.87 407.81L695.59 407.81L696.32 407.81L697.04 407.81L697.77 407.81L698.50 407.81L699.22 407.81L699.95 407.81L700.67 407.81L701.40 407.81" fill="none" stroke="#1f77b4" stroke-width="1.65" stroke-linejoin="round" stroke-linecap="round" clip-path="url(#c6)"/>
<path d="M513.40 407.81L514.13 407.78L514.85 407.68L515.58 407.52L516.30 407.29L517.03 406.98L517.76 406.26L518.48 403.53L519.21 399.73L519.93 395.31L520.66 389.60L521.38 384.67L522.11 381.18L522.84 378.28L523.56 376.10L524.29 374.63L525.01 373.32L525.74 371.62L526.47 369.56L527.19 367.17L527.92 364.31L528.64 360.82L529.37 357.18L530.09 353.91L530.82 350.49L531.55 347.17L532.27 344.98L533.00 344.53L533.72 344.44L534.45 344.36L535.18 343.86L535.90 337.81L536.63 329.84L537.35 323.36L538.08 308.68L538.81 282.02L539.53 265.66L540.26 276.83L540.98 302.74L541.71 322.24L542.43 331.99L543.16 342.06L543.89 351.24L544.61 357.67L545.34 361.35L546.06 361.22L546.79 360.79L547.52 360.29L548.24 359.78L548.97 359.02L549.69 357.19L550.42 350.74L551.15 343.74L551.87 340.10L552.60 337.62L553.32 337.76L554.05 342.11L554.77 347.53L555.50 354.16L556.23 361.25L556.95 367.07L557.68 372.25L558.40 376.58L559.13 380.08L559.86 382.49L560.58 382.15L561.31 380.77L562.03 376.53L562.76 369.08L563.48 364.09L564.21 361.81L564.94 361.54L565.66 362.69L566.39 364.64L567.11 368.32L567.84 371.92L568.57 374.30L569.29 376.50L570.02 378.08L570.74 378.47L571.47 376.23L572.20 371.64L572.92 364.51L573.65 349.81L574.37 334.72L575.10 317.61L575.82 288.97L576.55 251.46L577.28 212.74L578.00 180.43L578.73 162.19L579.45 160.53L580.18 160.53L580.91 160.53L581.63 160.53L582.36 160.53L583.08 160.53L583.81 160.53L584.54 160.53L585.26 160.53L585.99 160.53L586.71 160.53L587.44 160.53L588.16 160.53L588.89 160.53L589.62 160.53L590.34 160.53L591.07 160.53L591.79 160.53L592.52 160.53L593.25 160.53L593.97 160.53L594.70 160.53L595.42 160.53L596.15 160.53L596.87 160.53L597.60 160.53L598.33 160.53L599.05 160.53L599.78 160.53L600.50 160.53L601.23 160.53L601.96 160.53L602.68 160.53L603.41 160.53L604.13 160.53L604.86 160.53L605.59 160.53L606.31 160.53L607.04 160.53L607.76 160.53L608.49 160.53L609.21 160.53L609.94 160.53L610.67 160.53L611.39 160.53L612.12 160.53L612.84 160.53L613.57 160.53L614.30 160.53L615.02 160.53L615.75 160.53L616.47 160.53L617.20 160.53L617.93 160.53L618.65 174.44L619.38 213.93L620.10 264.51L620.83 311.45L621.55 346.36L622.28 375.11L623.01 393.94L623.73 403.66L624.46 407.30L625.18 407.81L625.91 407.81L626.64 407.81L627.36 407.81L628.09 407.81L628.81 407.81L629.54 407.81L630.26 407.81L630.99 407.81L631.72 407.81L632.44 407.81L633.17 407.81L633.89 407.81L634.62 407.81L635.35 407.81L636.07 407.81L636.80 407.81L637.52 407.81L638.25 407.81L638.98 407.81L639.70 407.81L640.43 407.81L641.15 407.81L641.88 407.81L642.60 407.81L643.33 407.81L644.06 407.81L644.78 407.81L645.51 407.62L646.23 406.89L646.96 405.91L647.69 405.04L648.41 404.50L649.14 404.03L649.86 403.78L650.59 403.97L651.32 404.59L652.04 405.30L652.77 405.75L653.49 405.67L654.22 405.11L654.94 404.25L655.67 403.23L656.40 402.03L657.12 400.07L657.85 397.89L658.57 396.19L659.30 395.54L660.03 395.28L660.75 395.10L661.48 394.90L662.20 394.57L662.93 393.96L663.65 393.15L664.38 392.31L665.11 391.56L665.83 390.81L666.56 390.05L667.28 389.42L668.01 389.03L668.74 388.82L669.46 388.67L670.19 388.68L670.91 389.53L671.64 390.93L672.37 392.20L673.09 392.67L673.82 392.64L674.54 392.56L675.27 392.43L675.99 392.26L676.72 391.54L677.45 390.03L678.17 388.19L678.90 385.97L679.62 382.98L680.35 381.01L681.08 380.46L681.80 380.17L682.53 381.25L683.25 384.84L683.98 388.66L684.71 393.35L685.43 397.18L686.16 399.13L686.88 400.67L687.61 401.60L688.33 401.68L689.06 401.17L689.79 400.46L690.51 399.87L691.24 399.84L691.96 401.16L692.69 403.06L693.42 404.75L694.14 406.64L694.87 407.77L695.59 407.81L696.32 407.81L697.04 407.81L697.77 407.81L698.50 407.81L699.22 407.81L699.95 407.81L700.67 407.81L701.40 407.81" fill="none" stroke="#ff1010" stroke-width="1.65" stroke-linejoin="round" stroke-linecap="round" clip-path="url(#c6)"/>
<path d="M513.40 407.81L514.13 407.81L514.85 407.81L515.58 407.81L516.30 407.81L517.03 407.81L517.76 407.81L518.48 407.81L519.21 407.81L519.93 407.81L520.66 407.81L521.38 407.81L522.11 407.81L522.84 407.81L523.56 407.81L524.29 407.81L525.01 407.81L525.74 407.81L526.47 407.81L527.19 407.81L527.92 407.81L528.64 407.81L529.37 407.81L530.09 407.81L530.82 407.81L531.55 407.81L532.27 407.81L533.00 407.81L533.72 407.81L534.45 407.81L535.18 407.81L535.90 407.81L536.63 407.81L537.35 407.81L538.08 407.81L538.81 407.81L539.53 407.81L540.26 407.81L540.98 407.81L541.71 407.81L542.43 407.81L543.16 407.81L543.89 407.81L544.61 407.81L545.34 407.81L546.06 407.81L546.79 407.81L547.52 407.81L548.24 407.81L548.97 407.81L549.69 407.81L550.42 407.81L551.15 407.81L551.87 407.81L552.60 407.81L553.32 407.81L554.05 407.81L554.77 407.81L555.50 407.81L556.23 407.81L556.95 407.81L557.68 407.81L558.40 407.81L559.13 407.81L559.86 407.81L560.58 407.81L561.31 407.81L562.03 407.81L562.76 407.81L563.48 407.81L564.21 407.81L564.94 407.81L565.66 407.81L566.39 407.81L567.11 407.81L567.84 407.81L568.57 407.81L569.29 407.81L570.02 407.81L570.74 407.81L571.47 407.81L572.20 407.81L572.92 407.81L573.65 407.81L574.37 407.81L575.10 407.81L575.82 407.81L576.55 407.81L577.28 407.81L578.00 407.81L578.73 407.81L579.45 407.81L580.18 407.81L580.91 407.81L581.63 407.81L582.36 407.81L583.08 407.81L583.81 407.81L584.54 407.81L585.26 407.81L585.99 407.81L586.71 407.81L587.44 407.81L588.16 407.81L588.89 407.81L589.62 407.81L590.34 407.81L591.07 407.81L591.79 407.81L592.52 407.81L593.25 407.81L593.97 407.81L594.70 407.81L595.42 407.81L596.15 407.81L596.87 407.81L597.60 407.81L598.33 407.81L599.05 407.81L599.78 407.81L600.50 407.81L601.23 407.81L601.96 407.81L602.68 407.81L603.41 407.81L604.13 407.81L604.86 407.81L605.59 407.81L606.31 407.81L607.04 407.81L607.76 407.81L608.49 407.81L609.21 407.81L609.94 407.81L610.67 407.81L611.39 407.81L612.12 407.81L612.84 407.81L613.57 407.81L614.30 407.81L615.02 407.81L615.75 407.81L616.47 407.81L617.20 407.81L617.93 407.81L618.65 407.81L619.38 407.81L620.10 407.81L620.83 407.81L621.55 407.81L622.28 407.81L623.01 407.81L623.73 407.81L624.46 407.81L625.18 407.81L625.91 407.81L626.64 407.81L627.36 407.81L628.09 407.81L628.81 407.81L629.54 407.81L630.26 407.81L630.99 407.81L631.72 407.81L632.44 407.81L633.17 407.81L633.89 407.81L634.62 407.81L635.35 407.81L636.07 407.81L636.80 407.81L637.52 407.81L638.25 407.81L638.98 407.81L639.70 407.81L640.43 407.81L641.15 407.81L641.88 407.81L642.60 407.81L643.33 407.81L644.06 407.81L644.78 407.81L645.51 407.81L646.23 407.81L646.96 407.81L647.69 407.81L648.41 407.81L649.14 407.81L649.86 407.81L650.59 407.81L651.32 407.81L652.04 407.81L652.77 407.80L653.49 407.80L654.22 407.79L654.94 407.78L655.67 407.77L656.40 407.75L657.12 407.74L657.85 407.72L658.57 407.69L659.30 407.67L660.03 407.65L660.75 407.62L661.48 407.59L662.20 407.56L662.93 407.53L663.65 407.50L664.38 407.47L665.11 407.44L665.83 407.41L666.56 407.38L667.28 407.34L668.01 407.31L668.74 407.27L669.46 407.23L670.19 407.18L670.91 407.12L671.64 407.06L672.37 406.99L673.09 406.91L673.82 406.82L674.54 406.70L675.27 406.50L675.99 406.24L676.72 405.94L677.45 405.62L678.17 405.28L678.90 404.90L679.62 404.38L680.35 403.94L681.08 403.77L681.80 403.84L682.53 404.02L683.25 404.34L683.98 405.40L684.71 406.54L685.43 407.03L686.16 407.38L686.88 407.64L687.61 407.78L688.33 407.81L689.06 407.81L689.79 407.81L690.51 407.81L691.24 407.81L691.96 407.81L692.69 407.81L693.42 407.81L694.14 407.81L694.87 407.81L695.59 407.81L696.32 407.81L697.04 407.81L697.77 407.81L698.50 407.81L699.22 407.81L699.95 407.81L700.67 407.81L701.40 407.81" fill="none" stroke="#000" stroke-width="1.65" stroke-linejoin="round" stroke-linecap="round" clip-path="url(#c6)"/>
<text x="602" y="235.0" font-family='"Liberation Sans", sans-serif' font-size="9.6" text-anchor="middle" fill="#222">s</text>
<line x1="607.6" y1="232" x2="625.6" y2="232" stroke="#1f77b4" stroke-width="1.05"/>
<text x="602" y="247.0" font-family='"Liberation Sans", sans-serif' font-size="9.6" text-anchor="middle" fill="#222">p</text>
<line x1="607.6" y1="244" x2="625.6" y2="244" stroke="#ff1010" stroke-width="1.05"/>
<text x="602" y="259.4" font-family='"Liberation Sans", sans-serif' font-size="9.6" text-anchor="middle" fill="#222">d</text>
<line x1="607.6" y1="256.4" x2="625.6" y2="256.4" stroke="#000" stroke-width="1.05"/>
<text x="666" y="248.2" font-family='"Liberation Sans", sans-serif' font-size="13.2" text-anchor="middle" fill="#222">Cd</text>
<text x="666" y="342.4" font-family='"Liberation Sans", sans-serif' font-size="13.2" text-anchor="middle" fill="#222">Se</text>
<text transform="translate(13.8,313.2) rotate(-90)" font-family='"Liberation Sans", sans-serif' font-size="9.8" font-weight="bold" text-anchor="middle" textLength="70.5" lengthAdjust="spacingAndGlyphs" fill="#111" stroke="#111" stroke-width="0.2">Projected DOS</text>
</svg>
</body></html>
